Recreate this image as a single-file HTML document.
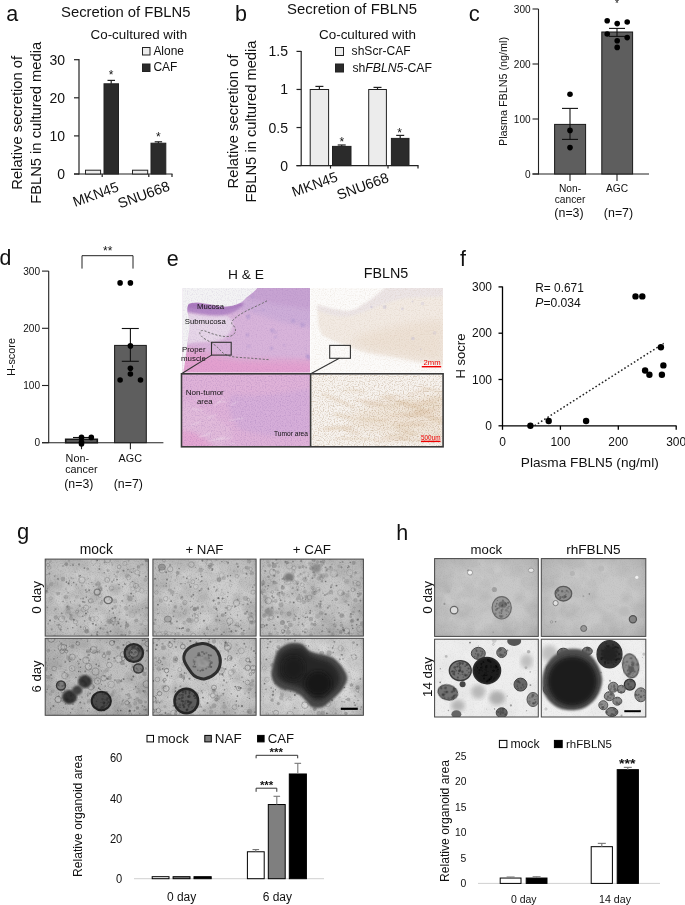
<!DOCTYPE html>
<html><head><meta charset="utf-8"><title>Figure</title>
<style>
html,body{margin:0;padding:0;background:#fff;}
body{width:685px;height:905px;overflow:hidden;}
svg text{font-family:"Liberation Sans", sans-serif;}
</style></head>
<body>
<svg width="685" height="905" viewBox="0 0 685 905" style="will-change:transform;display:block">
<defs>
<filter id="grain" x="0" y="0" width="100%" height="100%" color-interpolation-filters="sRGB">
 <feTurbulence type="fractalNoise" baseFrequency="0.9" numOctaves="1" seed="4"/>
 <feColorMatrix type="matrix" values="0 0 0 0 0  0 0 0 0 0  0 0 0 0 0  2.2 0 0 0 -1.0"/>
</filter>
<filter id="mott" x="0" y="0" width="100%" height="100%" color-interpolation-filters="sRGB">
 <feTurbulence type="fractalNoise" baseFrequency="0.05" numOctaves="3" seed="9"/>
 <feColorMatrix type="matrix" values="0 0 0 0 0  0 0 0 0 0  0 0 0 0 0  1.4 0 0 0 -0.55"/>
</filter>
<filter id="brn" x="0" y="0" width="100%" height="100%" color-interpolation-filters="sRGB">
 <feTurbulence type="fractalNoise" baseFrequency="0.8" numOctaves="1" seed="2"/>
 <feColorMatrix type="matrix" values="0 0 0 0 0.55  0 0 0 0 0.40  0 0 0 0 0.22  2.4 0 0 0 -1.1"/>
</filter>
<filter id="pur" x="0" y="0" width="100%" height="100%" color-interpolation-filters="sRGB">
 <feTurbulence type="fractalNoise" baseFrequency="0.8" numOctaves="1" seed="6"/>
 <feColorMatrix type="matrix" values="0 0 0 0 0.45  0 0 0 0 0.3  0 0 0 0 0.6  2.4 0 0 0 -1.1"/>
</filter>
<filter id="bl05"><feGaussianBlur stdDeviation="0.5"/></filter>
<filter id="bl1"><feGaussianBlur stdDeviation="1"/></filter>
<filter id="bl2"><feGaussianBlur stdDeviation="2"/></filter>
<filter id="bl4"><feGaussianBlur stdDeviation="4"/></filter>
<filter id="bl6" x="-50%" y="-50%" width="200%" height="200%"><feGaussianBlur stdDeviation="6"/></filter>
<radialGradient id="vig" cx="50%" cy="50%" r="70%">
 <stop offset="55%" stop-color="#000" stop-opacity="0"/>
 <stop offset="100%" stop-color="#000" stop-opacity="0.12"/>
</radialGradient>
</defs>
<text x="6.2" y="20.7" font-size="21.5" fill="#111">a</text>
<text x="61" y="16.5" font-size="14.3" textLength="129.5" lengthAdjust="spacingAndGlyphs" fill="#111">Secretion of FBLN5</text>
<text x="90.6" y="39.2" font-size="13.3" textLength="96.5" lengthAdjust="spacingAndGlyphs" fill="#111">Co-cultured with</text>
<rect x="142.5" y="47.5" width="7.5" height="7.5" fill="#ececec" stroke="#222" stroke-width="1"/>
<text x="153.4" y="54.6" font-size="12" textLength="30.6" lengthAdjust="spacingAndGlyphs" fill="#111">Alone</text>
<rect x="142.5" y="64" width="7.5" height="7.5" fill="#2b2b2b" stroke="#222" stroke-width="1"/>
<text x="153.4" y="71.2" font-size="12" fill="#111">CAF</text>
<line x1="79" y1="59" x2="79" y2="174.5" stroke="#222" stroke-width="1.2"/>
<line x1="74" y1="174.0" x2="79" y2="174.0" stroke="#222" stroke-width="1.2"/>
<text x="65" y="179.0" font-size="14" text-anchor="end" fill="#111">0</text>
<line x1="74" y1="135.9" x2="79" y2="135.9" stroke="#222" stroke-width="1.2"/>
<text x="65" y="140.9" font-size="14" text-anchor="end" fill="#111">10</text>
<line x1="74" y1="97.8" x2="79" y2="97.8" stroke="#222" stroke-width="1.2"/>
<text x="65" y="102.8" font-size="14" text-anchor="end" fill="#111">20</text>
<line x1="74" y1="59.69999999999999" x2="79" y2="59.69999999999999" stroke="#222" stroke-width="1.2"/>
<text x="65" y="64.69999999999999" font-size="14" text-anchor="end" fill="#111">30</text>
<line x1="74" y1="174" x2="172.5" y2="174" stroke="#222" stroke-width="1.2"/>
<line x1="102.2" y1="174" x2="102.2" y2="177" stroke="#222" stroke-width="1.2"/>
<line x1="148.8" y1="174" x2="148.8" y2="177" stroke="#222" stroke-width="1.2"/>
<line x1="172" y1="174" x2="172" y2="177" stroke="#222" stroke-width="1.2"/>
<rect x="85.5" y="170.2" width="15.099999999999994" height="3.8000000000000114" fill="#ececec" stroke="#222" stroke-width="1"/>
<rect x="104" y="83.8" width="14.5" height="90.2" fill="#2b2b2b" stroke="#222" stroke-width="1"/>
<rect x="132.5" y="170.2" width="15.199999999999989" height="3.8000000000000114" fill="#ececec" stroke="#222" stroke-width="1"/>
<rect x="151" y="143.2" width="14.800000000000011" height="30.80000000000001" fill="#2b2b2b" stroke="#222" stroke-width="1"/>
<line x1="111.2" y1="83.8" x2="111.2" y2="80.4" stroke="#222" stroke-width="1.2"/>
<line x1="107.5" y1="80.4" x2="115" y2="80.4" stroke="#222" stroke-width="1.2"/>
<line x1="158.4" y1="143.2" x2="158.4" y2="141.8" stroke="#222" stroke-width="1.2"/>
<line x1="154.7" y1="141.8" x2="162.1" y2="141.8" stroke="#222" stroke-width="1.2"/>
<text x="111.2" y="79" font-size="12" text-anchor="middle" fill="#111">*</text>
<text x="158.4" y="141" font-size="12" text-anchor="middle" fill="#111">*</text>
<text x="22.5" y="189.8" font-size="14.5" textLength="134" lengthAdjust="spacingAndGlyphs" transform="rotate(-90 22.5 189.8)" fill="#111">Relative secretion of</text>
<text x="40.8" y="203.8" font-size="14.5" textLength="162" lengthAdjust="spacingAndGlyphs" transform="rotate(-90 40.8 203.8)" fill="#111">FBLN5 in cultured media</text>
<text x="75" y="207" font-size="14.3" transform="rotate(-20 75 207)" fill="#111">MKN45</text>
<text x="120" y="208.5" font-size="14.3" transform="rotate(-20 120 208.5)" fill="#111">SNU668</text>
<text x="235" y="20.8" font-size="21.5" fill="#111">b</text>
<text x="287" y="14.4" font-size="14.3" textLength="130" lengthAdjust="spacingAndGlyphs" fill="#111">Secretion of FBLN5</text>
<text x="319" y="38.6" font-size="13.3" textLength="97" lengthAdjust="spacingAndGlyphs" fill="#111">Co-cultured with</text>
<rect x="335.5" y="47.5" width="8" height="8" fill="#ececec" stroke="#222" stroke-width="1"/>
<text x="351.6" y="55" font-size="12" textLength="59" lengthAdjust="spacingAndGlyphs" fill="#111">shScr-CAF</text>
<rect x="335.5" y="64" width="8" height="8" fill="#2b2b2b" stroke="#222" stroke-width="1"/>
<text x="352.4" y="71.5" font-size="12" textLength="79.6" lengthAdjust="spacingAndGlyphs" fill="#111">sh<tspan font-style="italic">FBLN5</tspan>-CAF</text>
<line x1="301.2" y1="51" x2="301.2" y2="166" stroke="#222" stroke-width="1.2"/>
<line x1="296.5" y1="165.6" x2="301.2" y2="165.6" stroke="#222" stroke-width="1.2"/>
<text x="288" y="170.6" font-size="14" text-anchor="end" fill="#111">0</text>
<line x1="296.5" y1="127.53" x2="301.2" y2="127.53" stroke="#222" stroke-width="1.2"/>
<text x="288" y="132.53" font-size="14" text-anchor="end" fill="#111">0.5</text>
<line x1="296.5" y1="89.46" x2="301.2" y2="89.46" stroke="#222" stroke-width="1.2"/>
<text x="288" y="94.46" font-size="14" text-anchor="end" fill="#111">1</text>
<line x1="296.5" y1="51.389999999999986" x2="301.2" y2="51.389999999999986" stroke="#222" stroke-width="1.2"/>
<text x="288" y="56.389999999999986" font-size="14" text-anchor="end" fill="#111">1.5</text>
<line x1="296.5" y1="165.6" x2="418.5" y2="165.6" stroke="#222" stroke-width="1.2"/>
<line x1="330.5" y1="165.6" x2="330.5" y2="168.6" stroke="#222" stroke-width="1.2"/>
<line x1="388" y1="165.6" x2="388" y2="168.6" stroke="#222" stroke-width="1.2"/>
<line x1="418" y1="165.6" x2="418" y2="168.6" stroke="#222" stroke-width="1.2"/>
<rect x="310.2" y="89.5" width="18.400000000000034" height="76.1" fill="#ececec" stroke="#222" stroke-width="1"/>
<rect x="332.5" y="146.4" width="18.5" height="19.19999999999999" fill="#2b2b2b" stroke="#222" stroke-width="1"/>
<rect x="368.7" y="89.5" width="17.69999999999999" height="76.1" fill="#ececec" stroke="#222" stroke-width="1"/>
<rect x="391.4" y="138.4" width="17.600000000000023" height="27.19999999999999" fill="#2b2b2b" stroke="#222" stroke-width="1"/>
<line x1="319.4" y1="89.5" x2="319.4" y2="86.4" stroke="#222" stroke-width="1.2"/>
<line x1="315.4" y1="86.4" x2="323.4" y2="86.4" stroke="#222" stroke-width="1.2"/>
<line x1="341.7" y1="146.4" x2="341.7" y2="145" stroke="#222" stroke-width="1.2"/>
<line x1="337.7" y1="145" x2="345.7" y2="145" stroke="#222" stroke-width="1.2"/>
<line x1="377.5" y1="89.5" x2="377.5" y2="87.4" stroke="#222" stroke-width="1.2"/>
<line x1="373.5" y1="87.4" x2="381.5" y2="87.4" stroke="#222" stroke-width="1.2"/>
<line x1="400.2" y1="138.4" x2="400.2" y2="135.4" stroke="#222" stroke-width="1.2"/>
<line x1="396.2" y1="135.4" x2="404.2" y2="135.4" stroke="#222" stroke-width="1.2"/>
<text x="341.9" y="145.5" font-size="12" text-anchor="middle" fill="#111">*</text>
<text x="399.7" y="136.5" font-size="12" text-anchor="middle" fill="#111">*</text>
<text x="237.5" y="188.5" font-size="14.5" textLength="134" lengthAdjust="spacingAndGlyphs" transform="rotate(-90 237.5 188.5)" fill="#111">Relative secretion of</text>
<text x="255.6" y="202.5" font-size="14.5" textLength="162" lengthAdjust="spacingAndGlyphs" transform="rotate(-90 255.6 202.5)" fill="#111">FBLN5 in cultured media</text>
<text x="294" y="197" font-size="14.3" transform="rotate(-20 294 197)" fill="#111">MKN45</text>
<text x="339" y="200" font-size="14.3" transform="rotate(-20 339 200)" fill="#111">SNU668</text>
<text x="468.7" y="20.9" font-size="22" fill="#111">c</text>
<line x1="538.5" y1="9" x2="538.5" y2="174.5" stroke="#222" stroke-width="1.1"/>
<line x1="532.5" y1="174.0" x2="538.5" y2="174.0" stroke="#222" stroke-width="1.1"/>
<text x="530.6" y="177.6" font-size="10" text-anchor="end" textLength="5.6" lengthAdjust="spacingAndGlyphs" fill="#111">0</text>
<line x1="532.5" y1="119.0" x2="538.5" y2="119.0" stroke="#222" stroke-width="1.1"/>
<text x="530.6" y="122.6" font-size="10" text-anchor="end" textLength="16.8" lengthAdjust="spacingAndGlyphs" fill="#111">100</text>
<line x1="532.5" y1="64.0" x2="538.5" y2="64.0" stroke="#222" stroke-width="1.1"/>
<text x="530.6" y="67.6" font-size="10" text-anchor="end" textLength="16.8" lengthAdjust="spacingAndGlyphs" fill="#111">200</text>
<line x1="532.5" y1="9.0" x2="538.5" y2="9.0" stroke="#222" stroke-width="1.1"/>
<text x="530.6" y="12.6" font-size="10" text-anchor="end" textLength="16.8" lengthAdjust="spacingAndGlyphs" fill="#111">300</text>
<line x1="532.5" y1="174" x2="649" y2="174" stroke="#222" stroke-width="1.1"/>
<line x1="570" y1="174" x2="570" y2="181" stroke="#222" stroke-width="1.1"/>
<line x1="617" y1="174" x2="617" y2="181" stroke="#222" stroke-width="1.1"/>
<rect x="554.6" y="124.4" width="31" height="49.6" fill="#5e5e5e" stroke="#1a1a1a" stroke-width="1"/>
<rect x="601.8" y="32" width="30.8" height="142" fill="#5e5e5e" stroke="#1a1a1a" stroke-width="1"/>
<line x1="570" y1="108.4" x2="570" y2="139.4" stroke="#111" stroke-width="1.1"/>
<line x1="562" y1="108.4" x2="578" y2="108.4" stroke="#111" stroke-width="1.1"/>
<line x1="562" y1="139.4" x2="578" y2="139.4" stroke="#111" stroke-width="1.1"/>
<line x1="617" y1="28.4" x2="617" y2="36.4" stroke="#111" stroke-width="1.1"/>
<line x1="609" y1="28.4" x2="625" y2="28.4" stroke="#111" stroke-width="1.1"/>
<line x1="609" y1="36.4" x2="625" y2="36.4" stroke="#111" stroke-width="1.1"/>
<circle cx="570" cy="94.2" r="2.8" fill="#000"/>
<circle cx="570" cy="130.4" r="2.8" fill="#000"/>
<circle cx="570" cy="147.6" r="2.8" fill="#000"/>
<circle cx="607.2" cy="20.8" r="2.8" fill="#000"/>
<circle cx="617.2" cy="23.6" r="2.8" fill="#000"/>
<circle cx="627.2" cy="22" r="2.8" fill="#000"/>
<circle cx="607.2" cy="34" r="2.8" fill="#000"/>
<circle cx="627.2" cy="37.6" r="2.8" fill="#000"/>
<circle cx="617.2" cy="40.8" r="2.8" fill="#000"/>
<circle cx="617.2" cy="47.4" r="2.8" fill="#000"/>
<text x="617" y="6.5" font-size="10" text-anchor="middle" fill="#111">*</text>
<text x="507.4" y="146" font-size="10.8" textLength="109" lengthAdjust="spacingAndGlyphs" transform="rotate(-90 507.4 146)" fill="#111">Plasma FBLN5 (ng/ml)</text>
<text x="570" y="192" font-size="10.2" text-anchor="middle" fill="#111">Non-</text>
<text x="570" y="203" font-size="10.2" text-anchor="middle" fill="#111">cancer</text>
<text x="569" y="217" font-size="12.4" text-anchor="middle" fill="#111">(n=3)</text>
<text x="617" y="192" font-size="10.2" text-anchor="middle" fill="#111">AGC</text>
<text x="618.5" y="217" font-size="12.4" text-anchor="middle" fill="#111">(n=7)</text>
<text x="-0.5" y="265.3" font-size="21.3" fill="#111">d</text>
<line x1="48.7" y1="271" x2="48.7" y2="443" stroke="#222" stroke-width="1.1"/>
<line x1="42" y1="442.7" x2="48.7" y2="442.7" stroke="#222" stroke-width="1.1"/>
<text x="40" y="446.3" font-size="10" text-anchor="end" textLength="5.6" lengthAdjust="spacingAndGlyphs" fill="#111">0</text>
<line x1="42" y1="385.5" x2="48.7" y2="385.5" stroke="#222" stroke-width="1.1"/>
<text x="40" y="389.1" font-size="10" text-anchor="end" textLength="16.8" lengthAdjust="spacingAndGlyphs" fill="#111">100</text>
<line x1="42" y1="328.29999999999995" x2="48.7" y2="328.29999999999995" stroke="#222" stroke-width="1.1"/>
<text x="40" y="331.9" font-size="10" text-anchor="end" textLength="16.8" lengthAdjust="spacingAndGlyphs" fill="#111">200</text>
<line x1="42" y1="271.09999999999997" x2="48.7" y2="271.09999999999997" stroke="#222" stroke-width="1.1"/>
<text x="40" y="274.7" font-size="10" text-anchor="end" textLength="16.8" lengthAdjust="spacingAndGlyphs" fill="#111">300</text>
<line x1="42" y1="442.7" x2="163.4" y2="442.7" stroke="#222" stroke-width="1.1"/>
<line x1="81.5" y1="442.7" x2="81.5" y2="449.2" stroke="#222" stroke-width="1.1"/>
<line x1="130.4" y1="442.7" x2="130.4" y2="449.2" stroke="#222" stroke-width="1.1"/>
<rect x="65.7" y="439.3" width="31.6" height="3.4" fill="#5e5e5e" stroke="#1a1a1a" stroke-width="1.6"/>
<rect x="114.6" y="345.4" width="31.7" height="97.3" fill="#5e5e5e" stroke="#1a1a1a" stroke-width="1"/>
<line x1="130.4" y1="328.5" x2="130.4" y2="361.3" stroke="#111" stroke-width="1.1"/>
<line x1="121.8" y1="328.5" x2="138.8" y2="328.5" stroke="#111" stroke-width="1.1"/>
<line x1="121.8" y1="361.3" x2="138.8" y2="361.3" stroke="#111" stroke-width="1.1"/>
<line x1="73" y1="437.5" x2="90" y2="437.5" stroke="#111" stroke-width="1.1"/>
<circle cx="120.1" cy="282.9" r="2.8" fill="#000"/>
<circle cx="130.4" cy="282.9" r="2.8" fill="#000"/>
<circle cx="130.4" cy="345.9" r="2.8" fill="#000"/>
<circle cx="130.4" cy="368.3" r="2.8" fill="#000"/>
<circle cx="130.4" cy="374" r="2.8" fill="#000"/>
<circle cx="120.1" cy="380" r="2.8" fill="#000"/>
<circle cx="140.5" cy="380" r="2.8" fill="#000"/>
<circle cx="81.5" cy="437.4" r="2.8" fill="#000"/>
<circle cx="91.3" cy="437.4" r="2.8" fill="#000"/>
<circle cx="81.5" cy="442" r="2.8" fill="#000"/>
<circle cx="81.5" cy="444" r="2.8" fill="#000"/>
<path d="M82 268.6 V255.7 H133 V268.6" fill="none" stroke="#222" stroke-width="1"/>
<text x="107.7" y="255" font-size="12" text-anchor="middle" fill="#111">**</text>
<text x="15.2" y="376" font-size="10.9" textLength="38" lengthAdjust="spacingAndGlyphs" transform="rotate(-90 15.2 376)" fill="#111">H-score</text>
<text x="77.3" y="461.5" font-size="10.8" text-anchor="middle" fill="#111">Non-</text>
<text x="81.4" y="472.5" font-size="10.8" text-anchor="middle" fill="#111">cancer</text>
<text x="78.8" y="488" font-size="12.3" text-anchor="middle" fill="#111">(n=3)</text>
<text x="130.3" y="461.5" font-size="10.8" text-anchor="middle" fill="#111">AGC</text>
<text x="128.3" y="488" font-size="12.4" text-anchor="middle" fill="#111">(n=7)</text>
<text x="460" y="265.7" font-size="21.5" fill="#111">f</text>
<line x1="502.5" y1="286.5" x2="502.5" y2="426" stroke="#000" stroke-width="1.3"/>
<line x1="498.5" y1="425.8" x2="502.5" y2="425.8" stroke="#000" stroke-width="1.3"/>
<text x="492" y="430.0" font-size="12" text-anchor="end" textLength="6.7" lengthAdjust="spacingAndGlyphs" fill="#111">0</text>
<line x1="498.5" y1="379.5" x2="502.5" y2="379.5" stroke="#000" stroke-width="1.3"/>
<text x="492" y="383.7" font-size="12" text-anchor="end" textLength="20" lengthAdjust="spacingAndGlyphs" fill="#111">100</text>
<line x1="498.5" y1="333.20000000000005" x2="502.5" y2="333.20000000000005" stroke="#000" stroke-width="1.3"/>
<text x="492" y="337.40000000000003" font-size="12" text-anchor="end" textLength="20" lengthAdjust="spacingAndGlyphs" fill="#111">200</text>
<line x1="498.5" y1="286.90000000000003" x2="502.5" y2="286.90000000000003" stroke="#000" stroke-width="1.3"/>
<text x="492" y="291.1" font-size="12" text-anchor="end" textLength="20" lengthAdjust="spacingAndGlyphs" fill="#111">300</text>
<line x1="502.5" y1="425.8" x2="676.5" y2="425.8" stroke="#000" stroke-width="1.3"/>
<line x1="502.5" y1="425.8" x2="502.5" y2="429.8" stroke="#000" stroke-width="1.3"/>
<text x="502.5" y="445.6" font-size="12" text-anchor="middle" textLength="6.7" lengthAdjust="spacingAndGlyphs" fill="#111">0</text>
<line x1="560.4" y1="425.8" x2="560.4" y2="429.8" stroke="#000" stroke-width="1.3"/>
<text x="560.4" y="445.6" font-size="12" text-anchor="middle" textLength="20" lengthAdjust="spacingAndGlyphs" fill="#111">100</text>
<line x1="618.3" y1="425.8" x2="618.3" y2="429.8" stroke="#000" stroke-width="1.3"/>
<text x="618.3" y="445.6" font-size="12" text-anchor="middle" textLength="20" lengthAdjust="spacingAndGlyphs" fill="#111">200</text>
<line x1="676.2" y1="425.8" x2="676.2" y2="429.8" stroke="#000" stroke-width="1.3"/>
<text x="676.2" y="445.6" font-size="12" text-anchor="middle" textLength="20" lengthAdjust="spacingAndGlyphs" fill="#111">300</text>
<line x1="534.6" y1="425.7" x2="663.7" y2="343.4" stroke="#222" stroke-width="1.5" stroke-dasharray="1.6 2.2"/>
<circle cx="530.4" cy="425.7" r="3.2" fill="#000"/>
<circle cx="548.7" cy="421" r="3.2" fill="#000"/>
<circle cx="586.1" cy="421" r="3.2" fill="#000"/>
<circle cx="635.5" cy="296.4" r="3.2" fill="#000"/>
<circle cx="642.3" cy="296.4" r="3.2" fill="#000"/>
<circle cx="660.9" cy="347.2" r="3.2" fill="#000"/>
<circle cx="663.4" cy="365.4" r="3.2" fill="#000"/>
<circle cx="645.1" cy="370.5" r="3.2" fill="#000"/>
<circle cx="649.4" cy="374.8" r="3.2" fill="#000"/>
<circle cx="661.9" cy="374.8" r="3.2" fill="#000"/>
<text x="535.3" y="291.5" font-size="12" textLength="48.5" lengthAdjust="spacingAndGlyphs" fill="#111">R= 0.671</text>
<text x="535.3" y="306.7" font-size="12" textLength="45.5" lengthAdjust="spacingAndGlyphs" fill="#111"><tspan font-style="italic">P</tspan>=0.034</text>
<text x="465.5" y="378.6" font-size="13" textLength="45" lengthAdjust="spacingAndGlyphs" transform="rotate(-90 465.5 378.6)" fill="#111">H socre</text>
<text x="520.8" y="466.5" font-size="13.6" textLength="138" lengthAdjust="spacingAndGlyphs" fill="#111">Plasma FBLN5 (ng/ml)</text>
<line x1="134" y1="878.7" x2="324" y2="878.7" stroke="#d0d0d0" stroke-width="1"/>
<text x="122.3" y="883.0" font-size="12" text-anchor="end" textLength="6.2" lengthAdjust="spacingAndGlyphs" fill="#111">0</text>
<text x="122.3" y="842.8" font-size="12" text-anchor="end" textLength="12.4" lengthAdjust="spacingAndGlyphs" fill="#111">20</text>
<text x="122.3" y="802.6" font-size="12" text-anchor="end" textLength="12.4" lengthAdjust="spacingAndGlyphs" fill="#111">40</text>
<text x="122.3" y="762.4" font-size="12" text-anchor="end" textLength="12.4" lengthAdjust="spacingAndGlyphs" fill="#111">60</text>
<rect x="152.2" y="876.69" width="16.80000000000001" height="2.009999999999991" fill="#fff" stroke="#000" stroke-width="1"/>
<rect x="173.1" y="876.69" width="16.900000000000006" height="2.009999999999991" fill="#7f7f7f" stroke="#000" stroke-width="1"/>
<rect x="194" y="876.69" width="17.19999999999999" height="2.009999999999991" fill="#000" stroke="#000" stroke-width="1"/>
<rect x="247.4" y="851.7660000000001" width="16.799999999999983" height="26.93399999999997" fill="#fff" stroke="#000" stroke-width="1"/>
<rect x="268.3" y="804.5310000000001" width="16.899999999999977" height="74.16899999999998" fill="#7f7f7f" stroke="#000" stroke-width="1"/>
<rect x="289.3" y="773.979" width="17.099999999999966" height="104.721" fill="#000" stroke="#000" stroke-width="1"/>
<line x1="255.8" y1="851.7660000000001" x2="255.8" y2="849.5550000000001" stroke="#777" stroke-width="1.1"/>
<line x1="252.5" y1="849.5550000000001" x2="259.1" y2="849.5550000000001" stroke="#777" stroke-width="1.1"/>
<line x1="276.8" y1="804.5310000000001" x2="276.8" y2="796.2900000000001" stroke="#777" stroke-width="1.1"/>
<line x1="273.5" y1="796.2900000000001" x2="280.1" y2="796.2900000000001" stroke="#777" stroke-width="1.1"/>
<line x1="297.8" y1="773.979" x2="297.8" y2="763.326" stroke="#777" stroke-width="1.1"/>
<line x1="294.5" y1="763.326" x2="301.1" y2="763.326" stroke="#777" stroke-width="1.1"/>
<path d="M256.1 791.8 V788.2 H276.8 V791.8" fill="none" stroke="#333" stroke-width="1"/>
<path d="M256.1 758.3 V755.3 H297.7 V758.3" fill="none" stroke="#333" stroke-width="1"/>
<text x="266.6" y="789" font-size="11.5" text-anchor="middle" fill="#111" font-weight="bold">***</text>
<text x="276.2" y="755.5" font-size="11.5" text-anchor="middle" fill="#111" font-weight="bold">***</text>
<rect x="147" y="735.4" width="6.5" height="6.5" fill="#fff" stroke="#000" stroke-width="1"/>
<text x="157.4" y="743.3" font-size="13" textLength="31.4" lengthAdjust="spacingAndGlyphs" fill="#111">mock</text>
<rect x="204.8" y="735.4" width="6.5" height="6.5" fill="#7f7f7f" stroke="#000" stroke-width="1"/>
<text x="214.8" y="743.3" font-size="13" textLength="27" lengthAdjust="spacingAndGlyphs" fill="#111">NAF</text>
<rect x="257.6" y="735.4" width="6.5" height="6.5" fill="#000" stroke="#000" stroke-width="1"/>
<text x="267.8" y="743.3" font-size="13" textLength="26.3" lengthAdjust="spacingAndGlyphs" fill="#111">CAF</text>
<text x="82.1" y="877" font-size="12.1" textLength="122" lengthAdjust="spacingAndGlyphs" transform="rotate(-90 82.1 877)" fill="#111">Relative organoid area</text>
<text x="181.6" y="901.2" font-size="12" text-anchor="middle" textLength="29.3" lengthAdjust="spacingAndGlyphs" fill="#111">0 day</text>
<text x="277.3" y="901.2" font-size="12" text-anchor="middle" textLength="29.3" lengthAdjust="spacingAndGlyphs" fill="#111">6 day</text>
<line x1="478" y1="883.4" x2="660" y2="883.4" stroke="#d0d0d0" stroke-width="1"/>
<text x="466.4" y="887.4" font-size="11.5" text-anchor="end" textLength="5.8" lengthAdjust="spacingAndGlyphs" fill="#111">0</text>
<text x="466.4" y="861.9" font-size="11.5" text-anchor="end" textLength="5.8" lengthAdjust="spacingAndGlyphs" fill="#111">5</text>
<text x="466.4" y="836.4" font-size="11.5" text-anchor="end" textLength="11.4" lengthAdjust="spacingAndGlyphs" fill="#111">10</text>
<text x="466.4" y="810.9" font-size="11.5" text-anchor="end" textLength="11.4" lengthAdjust="spacingAndGlyphs" fill="#111">15</text>
<text x="466.4" y="785.4" font-size="11.5" text-anchor="end" textLength="11.4" lengthAdjust="spacingAndGlyphs" fill="#111">20</text>
<text x="466.4" y="759.9" font-size="11.5" text-anchor="end" textLength="11.4" lengthAdjust="spacingAndGlyphs" fill="#111">25</text>
<rect x="500.2" y="878.045" width="20.80000000000001" height="5.355000000000018" fill="#fff" stroke="#000" stroke-width="1"/>
<rect x="526.2" y="878.045" width="20.799999999999955" height="5.355000000000018" fill="#000" stroke="#000" stroke-width="1"/>
<rect x="591.2" y="846.68" width="21.199999999999932" height="36.72000000000003" fill="#fff" stroke="#000" stroke-width="1"/>
<rect x="617.2" y="769.67" width="21.199999999999932" height="113.73000000000002" fill="#000" stroke="#000" stroke-width="1"/>
<line x1="510.6" y1="878.045" x2="510.6" y2="877.025" stroke="#777" stroke-width="1.1"/>
<line x1="506.6" y1="877.025" x2="514.6" y2="877.025" stroke="#777" stroke-width="1.1"/>
<line x1="536.6" y1="878.045" x2="536.6" y2="876.77" stroke="#777" stroke-width="1.1"/>
<line x1="532.6" y1="876.77" x2="540.6" y2="876.77" stroke="#777" stroke-width="1.1"/>
<line x1="601.8" y1="846.68" x2="601.8" y2="843.365" stroke="#777" stroke-width="1.1"/>
<line x1="597.8" y1="843.365" x2="605.8" y2="843.365" stroke="#777" stroke-width="1.1"/>
<line x1="627.8" y1="769.67" x2="627.8" y2="767.375" stroke="#777" stroke-width="1.1"/>
<line x1="623.8" y1="767.375" x2="631.8" y2="767.375" stroke="#777" stroke-width="1.1"/>
<text x="627.3" y="768" font-size="12.5" text-anchor="middle" textLength="16.5" lengthAdjust="spacingAndGlyphs" fill="#111" font-weight="bold">***</text>
<rect x="499.4" y="740.4" width="7.5" height="7.2" fill="#fff" stroke="#000" stroke-width="1"/>
<text x="510.4" y="748" font-size="12.2" textLength="29.2" lengthAdjust="spacingAndGlyphs" fill="#111">mock</text>
<rect x="554.4" y="740.4" width="7.8" height="7.2" fill="#000" stroke="#000" stroke-width="1"/>
<text x="566" y="748" font-size="11.5" textLength="46" lengthAdjust="spacingAndGlyphs" fill="#111">rhFBLN5</text>
<text x="449" y="882" font-size="12.1" textLength="122" lengthAdjust="spacingAndGlyphs" transform="rotate(-90 449 882)" fill="#111">Relative organoid area</text>
<text x="523.8" y="903.3" font-size="10.5" text-anchor="middle" textLength="25.6" lengthAdjust="spacingAndGlyphs" fill="#111">0 day</text>
<text x="615" y="903.3" font-size="10.5" text-anchor="middle" textLength="32" lengthAdjust="spacingAndGlyphs" fill="#111">14 day</text>
<text x="166.7" y="265.6" font-size="21.5" fill="#111">e</text>
<text x="228" y="279.3" font-size="13.3" textLength="36" lengthAdjust="spacingAndGlyphs" fill="#111">H &amp; E</text>
<text x="363.7" y="278.2" font-size="14" textLength="44.5" lengthAdjust="spacingAndGlyphs" fill="#111">FBLN5</text>
<svg x="182.5" y="288" width="127.5" height="84.5" viewBox="0 0 127.5 84.5" overflow="hidden">
<rect width="127.5" height="84.5" fill="#d8b4da"/>
<g filter="url(#bl2)">
<path d="M40 14 C52 10 62 4 70 -4 H132 V40 C118 38 104 36 92 32 C80 28 70 24 58 22 C50 22 44 20 40 14 Z" fill="#cdadd8"/>
<path d="M60 -4 H132 V22 C118 20 104 18 92 16 C80 14 70 12 60 8 Z" fill="#c49ed0" opacity="0.7"/>
</g>
<g filter="url(#bl1)">
<path d="M4 16 C8 14 12 14 15 14.4 C25 16 35 18.5 41.5 18.5 C47 18 52 17.5 58.8 14.4 L62 16 C56 22 50 26 40 27 C30 28 20 26 4 24 Z" fill="#b488c6"/>
<path d="M4 16 C8 14 12 14 15 14.4 C25 16 35 18.5 41.5 18.5 C47 18 52 17.5 58.8 14.4 L60 17 C50 21 40 22 30 21.5 C20 21 10 20 4 20 Z" fill="#a676ba" opacity="0.8"/>
<path d="M5 25 C18 28 32 29 44 28 C50 30 52 36 49 42 C46 48 40 52 30 54 C20 54 12 54 5 56 Z" fill="#e6d6e8"/>
</g>
<g filter="url(#bl2)">
<path d="M-2 58 C10 60 22 62 34 66 C50 71 70 71 90 70 C105 70 118 71 130 71 V87 H-2 Z" fill="#e0a7d1"/>
<path d="M-2 66 C14 66 26 68 40 72 C60 76 90 76 130 77 V87 H-2 Z" fill="#e3a0cf"/>
</g>
<path d="M-2 -2 H76.4 C75 0 74 1 73.3 1.7 C70 5 66 8 63.8 9.6 C62 12 60 13.5 58.8 14.4 C55 16 52 17 50.6 17.4 C47 18 44 18.5 41.5 18.5 C32 17 22 15 14.9 14.4 C10 14.5 7 15 6.2 15.9 C5 18 4.5 20 4.7 22.5 C5.5 27 6.5 31 7.5 35 C6.5 44 5.5 50 4.8 56.3 C4 64 3 70 2.3 75.5 C1.5 80 1 84 0 87 H-2 Z" fill="#f3f3f4" filter="url(#bl05)"/>
<circle cx="89.9" cy="42.7" r="2.1" fill="#9a84c8" opacity="0.42" filter="url(#bl1)"/>
<circle cx="93.5" cy="44.4" r="1.2" fill="#9a84c8" opacity="0.43" filter="url(#bl1)"/>
<circle cx="101.6" cy="57.2" r="1.1" fill="#9a84c8" opacity="0.38" filter="url(#bl1)"/>
<circle cx="66.0" cy="58.2" r="1.8" fill="#9a84c8" opacity="0.31" filter="url(#bl1)"/>
<circle cx="124.8" cy="67.8" r="1.8" fill="#9a84c8" opacity="0.45" filter="url(#bl1)"/>
<circle cx="70.4" cy="8.9" r="1.6" fill="#9a84c8" opacity="0.31" filter="url(#bl1)"/>
<circle cx="72.6" cy="23.0" r="1.0" fill="#9a84c8" opacity="0.42" filter="url(#bl1)"/>
<circle cx="89.1" cy="60.2" r="1.6" fill="#9a84c8" opacity="0.46" filter="url(#bl1)"/>
<circle cx="93.0" cy="49.1" r="1.5" fill="#9a84c8" opacity="0.37" filter="url(#bl1)"/>
<circle cx="125.8" cy="69.7" r="2.0" fill="#9a84c8" opacity="0.48" filter="url(#bl1)"/>
<circle cx="80.8" cy="22.2" r="1.3" fill="#9a84c8" opacity="0.32" filter="url(#bl1)"/>
<circle cx="110.6" cy="32.8" r="2.0" fill="#9a84c8" opacity="0.40" filter="url(#bl1)"/>
<circle cx="123.2" cy="60.5" r="1.0" fill="#9a84c8" opacity="0.35" filter="url(#bl1)"/>
<circle cx="120.1" cy="37.1" r="2.2" fill="#9a84c8" opacity="0.40" filter="url(#bl1)"/>
<circle cx="64.8" cy="47.0" r="1.9" fill="#9a84c8" opacity="0.37" filter="url(#bl1)"/>
<circle cx="65.8" cy="28.6" r="2.2" fill="#9a84c8" opacity="0.49" filter="url(#bl1)"/>
<rect width="127.5" height="84.5" filter="url(#pur)" opacity="0.14"/>
</svg>
<path d="M267 300.8 C258 306 246 310 238 316 C232 320 230 323 233 325 C237 329 236 334 231 336 C224 338 212 334 205 331 C199 329 197 334 205 339 C212 343 217 346 220 350 C224 355 230 357 240 357.5 C250 358 260 359 269 359.7" fill="none" stroke="#666" stroke-width="0.9" stroke-dasharray="2.2 1.6"/>
<rect x="211.5" y="342.3" width="19.7" height="12.8" fill="none" stroke="#333" stroke-width="1.1"/>
<text x="197" y="309" font-size="7.6" textLength="27" lengthAdjust="spacingAndGlyphs" fill="#111">Mucosa</text>
<text x="184.8" y="324" font-size="7.6" textLength="41" lengthAdjust="spacingAndGlyphs" fill="#111">Submucosa</text>
<text x="182" y="351.5" font-size="7.6" textLength="23.5" lengthAdjust="spacingAndGlyphs" fill="#111">Proper</text>
<text x="181" y="361" font-size="7.6" textLength="25" lengthAdjust="spacingAndGlyphs" fill="#111">muscle</text>
<svg x="310.5" y="288" width="132.5" height="84.5" viewBox="0 0 132.5 84.5" overflow="hidden">
<rect width="132.5" height="84.5" fill="#fcfbfa"/>
<g filter="url(#bl1)">
<path d="M6.6 17.1 C16 19 28 23 37.8 23.2 C46 22 52 17 57.9 13.1 C64 9 70 4 74.1 0 L76 -2 H135 V78 C118 76 100 72 84 69 C70 66 60 66 52 63.5 C38 58 24 54 12.3 47.4 C9 42 7 36 7.6 31.2 Z" fill="#f2eae3"/>
<path d="M6.6 17.1 C16 19 28 23 37.8 23.2 C46 22 52 17 57.9 13.1 C64 9 70 4 74.1 0 L76 -2 H135 V8 C118 10 100 8 86 12 C70 16 56 24 40 28 C28 30 16 26 7 22 Z" fill="#ece5e6"/>
</g>
<path d="M40 52 C60 42 90 36 132.5 32 V72 C110 72 96 68 80 66 C64 64 52 60 40 52 Z" fill="#ecdfd2" opacity="0.8" filter="url(#bl4)"/>
<circle cx="102.4" cy="50.5" r="1.8" fill="#c8c2d8" opacity="0.49" filter="url(#bl05)"/>
<circle cx="110.3" cy="61.3" r="1.0" fill="#c8c2d8" opacity="0.39" filter="url(#bl05)"/>
<circle cx="124.1" cy="44.9" r="1.9" fill="#c8c2d8" opacity="0.32" filter="url(#bl05)"/>
<circle cx="91.9" cy="20.8" r="1.5" fill="#c8c2d8" opacity="0.41" filter="url(#bl05)"/>
<circle cx="60.9" cy="19.0" r="1.3" fill="#c8c2d8" opacity="0.48" filter="url(#bl05)"/>
<circle cx="112.1" cy="15.6" r="1.8" fill="#c8c2d8" opacity="0.33" filter="url(#bl05)"/>
<circle cx="102.0" cy="13.6" r="1.0" fill="#c8c2d8" opacity="0.47" filter="url(#bl05)"/>
<circle cx="74.2" cy="18.9" r="2.0" fill="#c8c2d8" opacity="0.47" filter="url(#bl05)"/>
<rect width="132.5" height="84.5" filter="url(#brn)" opacity="0.12"/>
</svg>
<rect x="329.7" y="345.4" width="20.7" height="12.9" fill="none" stroke="#333" stroke-width="1.1"/>
<line x1="211.5" y1="355.1" x2="181.5" y2="373.8" stroke="#333" stroke-width="1.1"/>
<line x1="339.3" y1="358.3" x2="310.8" y2="373.8" stroke="#333" stroke-width="1.1"/>
<text x="423.6" y="365.3" font-size="7" textLength="17" lengthAdjust="spacingAndGlyphs" fill="#e00">2mm</text>
<rect x="421.8" y="366" width="19.4" height="1.4" fill="#e00" stroke="none" stroke-width="1"/>
<svg x="181.5" y="374" width="129" height="72.8" viewBox="0 0 129 72.8" overflow="hidden">
<rect width="129" height="72.8" fill="#dfb2d8"/>
<g filter="url(#bl2)">
<path d="M50 20 C70 24 100 20 129 14 V60 C100 64 80 62 60 56 C48 46 44 30 50 20 Z" fill="#d2acd8" opacity="0.7"/>
<path d="M0 26 C14 30 30 40 44 50 C56 58 50 66 40 72 H-2 Z" fill="#e2bfdc" opacity="0.6"/>
<path d="M-2 56 C10 56 24 62 34 75 H-2 Z" fill="#e3a5d0" opacity="0.9"/>
</g>
<ellipse cx="14.3" cy="49.5" rx="6.0" ry="0.9" fill="#f1dcec" opacity="0.35" filter="url(#bl05)" transform="rotate(-22 14.3 49.5)"/>
<ellipse cx="37.5" cy="27.9" rx="7.2" ry="0.9" fill="#f1dcec" opacity="0.35" filter="url(#bl05)" transform="rotate(-39 37.5 27.9)"/>
<ellipse cx="15.6" cy="35.5" rx="5.4" ry="0.9" fill="#f1dcec" opacity="0.35" filter="url(#bl05)" transform="rotate(10 15.6 35.5)"/>
<ellipse cx="50.2" cy="46.4" rx="3.8" ry="0.9" fill="#f1dcec" opacity="0.35" filter="url(#bl05)" transform="rotate(-8 50.2 46.4)"/>
<ellipse cx="38.1" cy="64.1" rx="6.7" ry="0.9" fill="#f1dcec" opacity="0.35" filter="url(#bl05)" transform="rotate(-14 38.1 64.1)"/>
<ellipse cx="40.3" cy="27.9" rx="6.0" ry="0.9" fill="#f1dcec" opacity="0.35" filter="url(#bl05)" transform="rotate(-2 40.3 27.9)"/>
<ellipse cx="18.1" cy="26.4" rx="5.4" ry="0.9" fill="#f1dcec" opacity="0.35" filter="url(#bl05)" transform="rotate(3 18.1 26.4)"/>
<ellipse cx="43.1" cy="64.5" rx="7.6" ry="0.9" fill="#f1dcec" opacity="0.35" filter="url(#bl05)" transform="rotate(-4 43.1 64.5)"/>
<ellipse cx="23.7" cy="61.0" rx="7.7" ry="0.9" fill="#f1dcec" opacity="0.35" filter="url(#bl05)" transform="rotate(-18 23.7 61.0)"/>
<ellipse cx="52.7" cy="29.4" rx="4.1" ry="0.9" fill="#f1dcec" opacity="0.35" filter="url(#bl05)" transform="rotate(-33 52.7 29.4)"/>
<ellipse cx="57.9" cy="44.6" rx="4.5" ry="0.9" fill="#f1dcec" opacity="0.35" filter="url(#bl05)" transform="rotate(-9 57.9 44.6)"/>
<ellipse cx="30.4" cy="42.4" rx="5.9" ry="0.9" fill="#f1dcec" opacity="0.35" filter="url(#bl05)" transform="rotate(-22 30.4 42.4)"/>
<ellipse cx="35.1" cy="65.7" rx="7.6" ry="0.9" fill="#f1dcec" opacity="0.35" filter="url(#bl05)" transform="rotate(-6 35.1 65.7)"/>
<ellipse cx="51.4" cy="69.6" rx="3.8" ry="0.9" fill="#f1dcec" opacity="0.35" filter="url(#bl05)" transform="rotate(-6 51.4 69.6)"/>
<rect width="129" height="72.8" filter="url(#pur)" opacity="0.25"/>
</svg>
<svg x="310.8" y="374" width="132.2" height="72.8" viewBox="0 0 132.2 72.8" overflow="hidden">
<rect width="132.2" height="72.8" fill="#f7f3ef"/>
<path d="M40 40 C70 30 100 26 132.2 22 V66 C100 64 70 60 40 52 Z" fill="#eee2d4" opacity="0.8" filter="url(#bl4)"/>
<g filter="url(#bl1)">
<ellipse cx="95.8" cy="57.2" rx="12.1" ry="2.3" fill="#d8bc9a" opacity="0.27" transform="rotate(20 95.8 57.2)"/>
<ellipse cx="107.4" cy="18.2" rx="13.4" ry="2.2" fill="#d8bc9a" opacity="0.19" transform="rotate(-17 107.4 18.2)"/>
<ellipse cx="94.0" cy="29.8" rx="21.2" ry="1.8" fill="#d8bc9a" opacity="0.32" transform="rotate(16 94.0 29.8)"/>
<ellipse cx="41.2" cy="57.5" rx="10.1" ry="2.2" fill="#d8bc9a" opacity="0.25" transform="rotate(17 41.2 57.5)"/>
<ellipse cx="129.0" cy="23.8" rx="20.4" ry="2.1" fill="#d8bc9a" opacity="0.20" transform="rotate(4 129.0 23.8)"/>
<ellipse cx="45.0" cy="64.6" rx="21.9" ry="1.4" fill="#d8bc9a" opacity="0.29" transform="rotate(1 45.0 64.6)"/>
<ellipse cx="118.9" cy="63.5" rx="13.2" ry="1.3" fill="#d8bc9a" opacity="0.28" transform="rotate(-17 118.9 63.5)"/>
<ellipse cx="80.1" cy="65.7" rx="18.8" ry="2.4" fill="#d8bc9a" opacity="0.19" transform="rotate(-3 80.1 65.7)"/>
<ellipse cx="98.8" cy="65.6" rx="13.0" ry="1.6" fill="#d8bc9a" opacity="0.28" transform="rotate(3 98.8 65.6)"/>
<ellipse cx="61.7" cy="45.8" rx="15.7" ry="1.4" fill="#d8bc9a" opacity="0.26" transform="rotate(4 61.7 45.8)"/>
<ellipse cx="126.3" cy="29.9" rx="20.7" ry="2.0" fill="#d8bc9a" opacity="0.20" transform="rotate(-5 126.3 29.9)"/>
<ellipse cx="27.0" cy="54.2" rx="14.5" ry="1.6" fill="#d8bc9a" opacity="0.26" transform="rotate(-4 27.0 54.2)"/>
<ellipse cx="112.7" cy="29.3" rx="21.8" ry="2.5" fill="#d8bc9a" opacity="0.15" transform="rotate(-15 112.7 29.3)"/>
<ellipse cx="99.4" cy="50.4" rx="18.2" ry="2.5" fill="#d8bc9a" opacity="0.25" transform="rotate(-2 99.4 50.4)"/>
<ellipse cx="83.8" cy="23.0" rx="10.1" ry="1.4" fill="#d8bc9a" opacity="0.19" transform="rotate(-8 83.8 23.0)"/>
<ellipse cx="121.0" cy="42.1" rx="20.9" ry="2.3" fill="#d8bc9a" opacity="0.16" transform="rotate(14 121.0 42.1)"/>
<ellipse cx="126.9" cy="17.2" rx="19.7" ry="2.1" fill="#d8bc9a" opacity="0.22" transform="rotate(13 126.9 17.2)"/>
<ellipse cx="43.7" cy="16.8" rx="11.4" ry="1.9" fill="#d8bc9a" opacity="0.20" transform="rotate(7 43.7 16.8)"/>
<ellipse cx="57.8" cy="28.5" rx="14.8" ry="1.7" fill="#d8bc9a" opacity="0.23" transform="rotate(11 57.8 28.5)"/>
<ellipse cx="98.6" cy="40.9" rx="21.5" ry="2.3" fill="#d8bc9a" opacity="0.19" transform="rotate(-0 98.6 40.9)"/>
<ellipse cx="76.3" cy="22.6" rx="8.4" ry="2.2" fill="#d8bc9a" opacity="0.25" transform="rotate(-3 76.3 22.6)"/>
<ellipse cx="86.8" cy="62.0" rx="16.1" ry="2.5" fill="#d8bc9a" opacity="0.24" transform="rotate(-5 86.8 62.0)"/>
<ellipse cx="103.5" cy="32.6" rx="18.6" ry="1.6" fill="#d8bc9a" opacity="0.21" transform="rotate(22 103.5 32.6)"/>
<ellipse cx="101.7" cy="41.0" rx="10.7" ry="2.0" fill="#d8bc9a" opacity="0.27" transform="rotate(3 101.7 41.0)"/>
<ellipse cx="115.4" cy="37.2" rx="15.1" ry="2.0" fill="#d8bc9a" opacity="0.23" transform="rotate(-0 115.4 37.2)"/>
<ellipse cx="27.9" cy="26.8" rx="19.6" ry="1.9" fill="#d8bc9a" opacity="0.28" transform="rotate(22 27.9 26.8)"/>
<ellipse cx="64.1" cy="27.0" rx="17.8" ry="1.2" fill="#d8bc9a" opacity="0.23" transform="rotate(3 64.1 27.0)"/>
<ellipse cx="125.6" cy="46.3" rx="9.4" ry="2.5" fill="#d8bc9a" opacity="0.29" transform="rotate(22 125.6 46.3)"/>
<ellipse cx="32.6" cy="42.0" rx="11.1" ry="2.1" fill="#d8bc9a" opacity="0.29" transform="rotate(12 32.6 42.0)"/>
<ellipse cx="117.5" cy="36.0" rx="15.5" ry="1.5" fill="#d8bc9a" opacity="0.24" transform="rotate(-16 117.5 36.0)"/>
<ellipse cx="71.0" cy="31.4" rx="19.5" ry="2.6" fill="#d8bc9a" opacity="0.22" transform="rotate(4 71.0 31.4)"/>
<ellipse cx="25.9" cy="54.0" rx="18.6" ry="2.4" fill="#d8bc9a" opacity="0.16" transform="rotate(-4 25.9 54.0)"/>
<ellipse cx="112.8" cy="28.0" rx="12.7" ry="2.0" fill="#d8bc9a" opacity="0.19" transform="rotate(-5 112.8 28.0)"/>
<ellipse cx="93.4" cy="27.9" rx="11.5" ry="2.2" fill="#d8bc9a" opacity="0.20" transform="rotate(-13 93.4 27.9)"/>
</g>
<rect width="132.2" height="72.8" filter="url(#brn)" opacity="0.4"/>
</svg>
<rect x="181.5" y="373.8" width="261.6" height="73" fill="none" stroke="#3a3a3a" stroke-width="1.6"/>
<line x1="310.6" y1="373.8" x2="310.6" y2="446.8" stroke="#3a3a3a" stroke-width="1.6"/>
<text x="185.8" y="394.7" font-size="7.8" textLength="38" lengthAdjust="spacingAndGlyphs" fill="#111">Non-tumor</text>
<text x="197" y="403.8" font-size="7.8" textLength="15.5" lengthAdjust="spacingAndGlyphs" fill="#111">area</text>
<text x="274" y="435.6" font-size="6.6" textLength="34" lengthAdjust="spacingAndGlyphs" fill="#111">Tumor area</text>
<text x="421" y="439.5" font-size="7" textLength="19.5" lengthAdjust="spacingAndGlyphs" fill="#e00">500um</text>
<rect x="421" y="440.7" width="19.5" height="1.4" fill="#e00" stroke="none" stroke-width="1"/>
<text x="17" y="539.4" font-size="22" fill="#111">g</text>
<text x="79.8" y="554" font-size="13.8" textLength="33.2" lengthAdjust="spacingAndGlyphs" fill="#111">mock</text>
<text x="185.4" y="553.7" font-size="13.3" textLength="38" lengthAdjust="spacingAndGlyphs" fill="#111">+ NAF</text>
<text x="292.7" y="553.7" font-size="13.3" textLength="38.3" lengthAdjust="spacingAndGlyphs" fill="#111">+ CAF</text>
<text x="41.5" y="613.8" font-size="13.4" textLength="32.8" lengthAdjust="spacingAndGlyphs" transform="rotate(-90 41.5 613.8)" fill="#111">0 day</text>
<text x="41.5" y="692.6" font-size="13.4" textLength="32.3" lengthAdjust="spacingAndGlyphs" transform="rotate(-90 41.5 692.6)" fill="#111">6 day</text>
<svg x="45.2" y="559.1" width="103.2" height="77" viewBox="0 0 103.2 77" overflow="hidden">
<rect width="103.2" height="77" fill="#cbcbcb"/>
<rect width="103.2" height="77" filter="url(#mott)" opacity="0.22"/>
<g filter="url(#bl05)"><circle cx="13.9" cy="65.3" r="0.93" fill="#686868" opacity="0.50"/><circle cx="78.5" cy="36.4" r="0.67" fill="#656565" opacity="0.49"/><circle cx="2.9" cy="64.4" r="0.70" fill="#888888" opacity="0.76"/><circle cx="71.8" cy="20.5" r="0.96" fill="#7d7d7d" opacity="0.83"/><circle cx="93.0" cy="2.4" r="0.42" fill="#7a7a7a" opacity="0.45"/><circle cx="90.9" cy="52.9" r="1.08" fill="#868686" opacity="0.46"/><circle cx="22.9" cy="33.7" r="0.75" fill="#666666" opacity="0.59"/><circle cx="69.9" cy="58.6" r="1.07" fill="#595959" opacity="0.62"/><circle cx="94.6" cy="71.0" r="0.47" fill="#808080" opacity="0.85"/><circle cx="88.7" cy="9.3" r="0.63" fill="#868686" opacity="0.84"/><circle cx="51.7" cy="74.5" r="0.76" fill="#828282" opacity="0.53"/><circle cx="29.3" cy="75.0" r="0.75" fill="#787878" opacity="0.61"/><circle cx="88.1" cy="37.0" r="0.92" fill="#717171" opacity="0.62"/><circle cx="17.9" cy="42.3" r="0.89" fill="#838383" opacity="0.75"/><circle cx="8.9" cy="51.1" r="0.48" fill="#626262" opacity="0.66"/><circle cx="40.6" cy="37.7" r="0.42" fill="#5a5a5a" opacity="0.57"/><circle cx="87.5" cy="47.3" r="0.80" fill="#818181" opacity="0.52"/><circle cx="51.8" cy="75.6" r="0.94" fill="#7a7a7a" opacity="0.82"/><circle cx="56.6" cy="31.1" r="0.64" fill="#7c7c7c" opacity="0.59"/><circle cx="93.9" cy="50.8" r="0.83" fill="#868686" opacity="0.45"/><circle cx="80.9" cy="63.2" r="1.02" fill="#878787" opacity="0.65"/><circle cx="13.3" cy="59.9" r="0.54" fill="#5b5b5b" opacity="0.64"/><circle cx="37.6" cy="42.7" r="1.06" fill="#727272" opacity="0.64"/><circle cx="36.8" cy="26.6" r="0.78" fill="#7f7f7f" opacity="0.76"/><circle cx="34.2" cy="46.2" r="0.96" fill="#808080" opacity="0.52"/><circle cx="60.3" cy="66.3" r="0.96" fill="#686868" opacity="0.46"/><circle cx="97.4" cy="5.4" r="1.01" fill="#747474" opacity="0.46"/><circle cx="78.0" cy="19.2" r="0.48" fill="#7f7f7f" opacity="0.52"/><circle cx="30.0" cy="12.9" r="0.58" fill="#626262" opacity="0.71"/><circle cx="66.9" cy="22.7" r="0.89" fill="#777777" opacity="0.64"/><circle cx="2.4" cy="29.8" r="0.69" fill="#646464" opacity="0.55"/><circle cx="26.2" cy="56.2" r="1.08" fill="#7e7e7e" opacity="0.62"/><circle cx="100.7" cy="17.4" r="0.68" fill="#5a5a5a" opacity="0.74"/><circle cx="16.5" cy="54.3" r="0.87" fill="#7a7a7a" opacity="0.78"/><circle cx="100.8" cy="48.6" r="0.89" fill="#747474" opacity="0.54"/><circle cx="66.9" cy="30.4" r="0.80" fill="#6c6c6c" opacity="0.71"/><circle cx="44.0" cy="56.8" r="0.49" fill="#656565" opacity="0.80"/><circle cx="31.6" cy="66.1" r="0.62" fill="#6b6b6b" opacity="0.75"/><circle cx="42.9" cy="19.4" r="0.41" fill="#5a5a5a" opacity="0.69"/><circle cx="22.5" cy="69.4" r="0.72" fill="#858585" opacity="0.70"/><circle cx="3.9" cy="15.4" r="0.47" fill="#7c7c7c" opacity="0.72"/><circle cx="44.7" cy="14.9" r="0.47" fill="#828282" opacity="0.61"/><circle cx="52.0" cy="1.3" r="0.83" fill="#717171" opacity="0.81"/><circle cx="1.9" cy="15.5" r="0.63" fill="#7c7c7c" opacity="0.76"/><circle cx="35.0" cy="16.4" r="0.87" fill="#707070" opacity="0.82"/><circle cx="35.5" cy="67.9" r="0.88" fill="#777777" opacity="0.76"/><circle cx="55.0" cy="5.0" r="0.43" fill="#606060" opacity="0.52"/><circle cx="94.0" cy="16.4" r="0.93" fill="#7e7e7e" opacity="0.65"/><circle cx="26.3" cy="26.1" r="0.48" fill="#676767" opacity="0.80"/><circle cx="62.3" cy="73.5" r="1.02" fill="#606060" opacity="0.68"/><circle cx="79.5" cy="24.7" r="0.68" fill="#707070" opacity="0.80"/><circle cx="81.3" cy="63.8" r="0.64" fill="#7f7f7f" opacity="0.68"/><circle cx="95.6" cy="5.9" r="0.79" fill="#7c7c7c" opacity="0.48"/><circle cx="27.5" cy="68.6" r="0.80" fill="#5f5f5f" opacity="0.63"/><circle cx="28.6" cy="60.6" r="0.98" fill="#585858" opacity="0.70"/><circle cx="1.5" cy="31.8" r="0.98" fill="#5a5a5a" opacity="0.53"/><circle cx="81.1" cy="45.2" r="0.51" fill="#747474" opacity="0.52"/><circle cx="24.9" cy="57.3" r="0.47" fill="#707070" opacity="0.77"/><circle cx="56.0" cy="63.0" r="0.79" fill="#858585" opacity="0.64"/><circle cx="10.3" cy="50.2" r="0.43" fill="#585858" opacity="0.76"/><circle cx="95.5" cy="55.9" r="0.62" fill="#717171" opacity="0.58"/><circle cx="6.5" cy="70.3" r="1.08" fill="#757575" opacity="0.49"/><circle cx="22.2" cy="47.6" r="1.09" fill="#7a7a7a" opacity="0.80"/><circle cx="48.4" cy="27.4" r="0.53" fill="#656565" opacity="0.57"/><circle cx="25.4" cy="6.3" r="0.60" fill="#888888" opacity="0.63"/><circle cx="67.3" cy="49.5" r="1.06" fill="#707070" opacity="0.84"/><circle cx="4.2" cy="14.4" r="0.95" fill="#7d7d7d" opacity="0.81"/><circle cx="31.2" cy="25.7" r="0.78" fill="#7d7d7d" opacity="0.77"/><circle cx="9.5" cy="17.0" r="0.97" fill="#717171" opacity="0.48"/><circle cx="56.9" cy="5.5" r="0.45" fill="#808080" opacity="0.45"/><circle cx="77.5" cy="27.7" r="0.73" fill="#616161" opacity="0.49"/><circle cx="80.3" cy="25.3" r="0.76" fill="#828282" opacity="0.52"/><circle cx="80.1" cy="75.8" r="0.98" fill="#6c6c6c" opacity="0.57"/><circle cx="73.2" cy="64.3" r="0.82" fill="#606060" opacity="0.81"/><circle cx="14.6" cy="70.1" r="0.42" fill="#6c6c6c" opacity="0.78"/><circle cx="64.3" cy="51.8" r="0.79" fill="#878787" opacity="0.84"/><circle cx="21.2" cy="23.0" r="0.78" fill="#5b5b5b" opacity="0.74"/><circle cx="68.9" cy="19.4" r="0.45" fill="#747474" opacity="0.77"/><circle cx="56.7" cy="41.7" r="1.00" fill="#757575" opacity="0.45"/><circle cx="86.3" cy="13.2" r="0.74" fill="#818181" opacity="0.82"/><circle cx="100.8" cy="1.5" r="0.88" fill="#7d7d7d" opacity="0.51"/><circle cx="12.9" cy="20.0" r="0.98" fill="#717171" opacity="0.68"/><circle cx="17.8" cy="6.9" r="0.74" fill="#636363" opacity="0.66"/><circle cx="51.7" cy="50.0" r="0.71" fill="#838383" opacity="0.71"/><circle cx="23.3" cy="24.1" r="0.88" fill="#666666" opacity="0.74"/><circle cx="34.8" cy="47.1" r="0.91" fill="#818181" opacity="0.56"/><circle cx="66.7" cy="3.7" r="0.45" fill="#787878" opacity="0.71"/><circle cx="38.0" cy="39.4" r="0.95" fill="#656565" opacity="0.57"/><circle cx="71.5" cy="65.4" r="0.66" fill="#848484" opacity="0.73"/><circle cx="48.0" cy="6.5" r="0.49" fill="#7e7e7e" opacity="0.83"/><circle cx="59.0" cy="13.6" r="0.58" fill="#656565" opacity="0.83"/><circle cx="74.3" cy="60.2" r="0.75" fill="#717171" opacity="0.74"/><circle cx="35.9" cy="39.7" r="0.52" fill="#868686" opacity="0.85"/><circle cx="54.1" cy="7.0" r="0.58" fill="#5e5e5e" opacity="0.56"/><circle cx="94.2" cy="73.9" r="0.50" fill="#7f7f7f" opacity="0.79"/><circle cx="68.1" cy="53.9" r="0.71" fill="#676767" opacity="0.84"/><circle cx="39.5" cy="61.8" r="0.70" fill="#626262" opacity="0.81"/><circle cx="45.2" cy="47.9" r="0.74" fill="#656565" opacity="0.50"/><circle cx="62.0" cy="31.4" r="0.48" fill="#6a6a6a" opacity="0.56"/><circle cx="39.1" cy="43.1" r="1.07" fill="#797979" opacity="0.63"/><circle cx="2.2" cy="48.3" r="0.82" fill="#686868" opacity="0.53"/><circle cx="29.4" cy="41.8" r="0.59" fill="#7d7d7d" opacity="0.75"/><circle cx="85.9" cy="34.4" r="1.00" fill="#626262" opacity="0.67"/><circle cx="50.7" cy="65.9" r="0.94" fill="#7c7c7c" opacity="0.80"/><circle cx="21.1" cy="62.4" r="1.03" fill="#595959" opacity="0.50"/><circle cx="77.1" cy="42.0" r="1.08" fill="#888888" opacity="0.74"/><circle cx="67.0" cy="5.8" r="0.66" fill="#6b6b6b" opacity="0.62"/><circle cx="69.9" cy="58.4" r="0.63" fill="#5f5f5f" opacity="0.63"/><circle cx="46.4" cy="23.5" r="0.68" fill="#868686" opacity="0.72"/><circle cx="50.8" cy="49.9" r="0.66" fill="#656565" opacity="0.67"/><circle cx="102.7" cy="48.9" r="0.91" fill="#878787" opacity="0.78"/><circle cx="52.7" cy="76.0" r="0.72" fill="#797979" opacity="0.61"/><circle cx="76.8" cy="76.0" r="0.61" fill="#626262" opacity="0.63"/><circle cx="69.0" cy="15.2" r="0.77" fill="#838383" opacity="0.61"/><circle cx="43.9" cy="31.2" r="1.00" fill="#7d7d7d" opacity="0.84"/><circle cx="72.2" cy="74.5" r="0.45" fill="#878787" opacity="0.55"/><circle cx="99.8" cy="22.4" r="0.41" fill="#868686" opacity="0.70"/><circle cx="65.4" cy="72.2" r="0.95" fill="#636363" opacity="0.76"/><circle cx="84.1" cy="46.6" r="0.64" fill="#686868" opacity="0.77"/><circle cx="42.4" cy="52.7" r="0.61" fill="#757575" opacity="0.78"/><circle cx="50.0" cy="36.0" r="0.43" fill="#787878" opacity="0.49"/><circle cx="61.0" cy="5.4" r="0.45" fill="#747474" opacity="0.46"/><circle cx="52.3" cy="72.9" r="0.88" fill="#717171" opacity="0.70"/><circle cx="28.5" cy="23.4" r="0.77" fill="#676767" opacity="0.80"/><circle cx="27.8" cy="5.8" r="0.98" fill="#797979" opacity="0.71"/><circle cx="48.3" cy="42.9" r="0.43" fill="#6b6b6b" opacity="0.71"/><circle cx="73.6" cy="62.8" r="0.59" fill="#7f7f7f" opacity="0.75"/><circle cx="40.5" cy="30.8" r="0.74" fill="#686868" opacity="0.80"/><circle cx="34.0" cy="17.1" r="1.07" fill="#858585" opacity="0.55"/><circle cx="68.2" cy="65.6" r="1.01" fill="#717171" opacity="0.58"/><circle cx="44.6" cy="58.6" r="0.95" fill="#646464" opacity="0.48"/><circle cx="75.6" cy="67.1" r="0.81" fill="#7d7d7d" opacity="0.82"/><circle cx="75.2" cy="46.7" r="0.58" fill="#797979" opacity="0.52"/><circle cx="80.3" cy="68.8" r="0.71" fill="#6b6b6b" opacity="0.75"/><circle cx="24.8" cy="55.3" r="0.90" fill="#6b6b6b" opacity="0.48"/><circle cx="23.5" cy="24.7" r="1.05" fill="#636363" opacity="0.47"/><circle cx="83.5" cy="1.8" r="0.93" fill="#838383" opacity="0.46"/><circle cx="72.6" cy="62.7" r="1.07" fill="#7f7f7f" opacity="0.63"/><circle cx="68.4" cy="21.1" r="0.83" fill="#636363" opacity="0.49"/><circle cx="41.2" cy="38.1" r="0.66" fill="#626262" opacity="0.84"/><circle cx="24.3" cy="21.8" r="0.78" fill="#707070" opacity="0.53"/><circle cx="73.8" cy="25.4" r="0.82" fill="#656565" opacity="0.85"/><circle cx="4.8" cy="61.4" r="1.00" fill="#6c6c6c" opacity="0.81"/><circle cx="87.5" cy="22.1" r="0.54" fill="#626262" opacity="0.80"/><circle cx="78.3" cy="11.7" r="1.04" fill="#585858" opacity="0.60"/><circle cx="90.4" cy="41.8" r="0.80" fill="#686868" opacity="0.50"/><circle cx="47.8" cy="64.7" r="1.03" fill="#5a5a5a" opacity="0.66"/><circle cx="54.2" cy="9.9" r="1.05" fill="#5f5f5f" opacity="0.62"/><circle cx="19.6" cy="38.5" r="0.49" fill="#696969" opacity="0.72"/><circle cx="87.3" cy="51.1" r="0.67" fill="#808080" opacity="0.56"/><circle cx="26.8" cy="48.9" r="0.57" fill="#7d7d7d" opacity="0.82"/><circle cx="60.9" cy="26.9" r="0.82" fill="#7b7b7b" opacity="0.71"/><circle cx="100.0" cy="69.7" r="0.78" fill="#7a7a7a" opacity="0.53"/><circle cx="90.8" cy="32.7" r="0.86" fill="#858585" opacity="0.56"/><circle cx="63.0" cy="74.9" r="0.45" fill="#636363" opacity="0.84"/><circle cx="15.6" cy="70.7" r="1.00" fill="#5a5a5a" opacity="0.47"/><circle cx="9.4" cy="62.6" r="0.73" fill="#6f6f6f" opacity="0.49"/><circle cx="32.3" cy="9.8" r="0.42" fill="#828282" opacity="0.50"/><circle cx="40.8" cy="54.5" r="1.02" fill="#595959" opacity="0.74"/><circle cx="27.9" cy="19.3" r="0.63" fill="#6b6b6b" opacity="0.46"/><circle cx="39.7" cy="56.4" r="0.62" fill="#606060" opacity="0.55"/><circle cx="39.2" cy="9.0" r="0.87" fill="#5e5e5e" opacity="0.62"/><circle cx="25.3" cy="42.9" r="0.63" fill="#6d6d6d" opacity="0.65"/><circle cx="40.4" cy="69.0" r="0.74" fill="#606060" opacity="0.71"/><circle cx="46.3" cy="76.1" r="0.90" fill="#7d7d7d" opacity="0.73"/><circle cx="55.3" cy="69.1" r="0.98" fill="#6a6a6a" opacity="0.75"/><circle cx="20.6" cy="30.0" r="0.63" fill="#727272" opacity="0.59"/><circle cx="59.3" cy="3.4" r="0.97" fill="#818181" opacity="0.66"/><circle cx="43.1" cy="24.5" r="0.59" fill="#878787" opacity="0.75"/><circle cx="51.7" cy="40.5" r="0.50" fill="#868686" opacity="0.58"/><circle cx="33.8" cy="5.3" r="1.09" fill="#767676" opacity="0.63"/><circle cx="37.6" cy="57.1" r="0.67" fill="#5d5d5d" opacity="0.82"/><circle cx="82.7" cy="10.4" r="0.77" fill="#7c7c7c" opacity="0.79"/><circle cx="26.0" cy="18.9" r="0.80" fill="#6d6d6d" opacity="0.59"/><circle cx="97.2" cy="49.5" r="0.68" fill="#757575" opacity="0.69"/><circle cx="35.1" cy="39.1" r="0.42" fill="#686868" opacity="0.72"/><circle cx="58.1" cy="69.8" r="1.30" fill="#9a9a9a" opacity="0.68"/><circle cx="64.0" cy="62.5" r="2.57" fill="#919191" opacity="0.60"/><circle cx="21.1" cy="5.1" r="1.91" fill="#858585" opacity="0.65"/><circle cx="82.0" cy="16.7" r="2.34" fill="#a0a0a0" opacity="0.65"/><circle cx="2.3" cy="28.3" r="2.36" fill="#929292" opacity="0.43"/><circle cx="20.7" cy="38.0" r="2.44" fill="#8f8f8f" opacity="0.50"/><circle cx="69.7" cy="41.9" r="2.51" fill="#9e9e9e" opacity="0.60"/><circle cx="84.0" cy="76.9" r="1.41" fill="#8c8c8c" opacity="0.35"/><circle cx="54.9" cy="29.3" r="2.40" fill="#848484" opacity="0.49"/><circle cx="91.1" cy="61.3" r="1.94" fill="#828282" opacity="0.47"/><circle cx="101.9" cy="0.5" r="2.54" fill="#808080" opacity="0.54"/><circle cx="84.8" cy="39.5" r="2.59" fill="#949494" opacity="0.69"/><circle cx="56.0" cy="44.0" r="1.88" fill="#9a9a9a" opacity="0.54"/><circle cx="84.5" cy="73.4" r="1.65" fill="#939393" opacity="0.51"/><circle cx="13.5" cy="34.2" r="1.22" fill="#8a8a8a" opacity="0.44"/><circle cx="1.0" cy="32.7" r="2.06" fill="#828282" opacity="0.48"/><circle cx="41.5" cy="72.1" r="2.43" fill="#818181" opacity="0.66"/><circle cx="95.5" cy="65.2" r="1.61" fill="#9d9d9d" opacity="0.45"/><circle cx="80.7" cy="49.0" r="2.36" fill="#959595" opacity="0.49"/><circle cx="82.9" cy="37.2" r="1.23" fill="#898989" opacity="0.36"/><circle cx="17.8" cy="20.0" r="2.37" fill="#929292" opacity="0.68"/><circle cx="42.6" cy="72.3" r="1.46" fill="#9a9a9a" opacity="0.59"/><circle cx="44.7" cy="59.8" r="1.78" fill="#9f9f9f" opacity="0.68"/><circle cx="41.5" cy="32.7" r="1.10" fill="#8d8d8d" opacity="0.69"/><circle cx="23.7" cy="2.0" r="1.41" fill="#9e9e9e" opacity="0.62"/><circle cx="10.2" cy="50.0" r="1.30" fill="#808080" opacity="0.38"/><circle cx="63.1" cy="76.7" r="1.88" fill="#9b9b9b" opacity="0.47"/><circle cx="97.6" cy="74.7" r="1.17" fill="#9a9a9a" opacity="0.64"/><circle cx="76.5" cy="76.6" r="2.10" fill="#8b8b8b" opacity="0.52"/><circle cx="81.9" cy="66.1" r="2.26" fill="#858585" opacity="0.65"/><circle cx="12.8" cy="34.4" r="2.09" fill="#9f9f9f" opacity="0.67"/><circle cx="12.0" cy="65.7" r="1.17" fill="#989898" opacity="0.56"/><circle cx="72.5" cy="12.9" r="1.41" fill="#929292" opacity="0.65"/><circle cx="65.4" cy="62.4" r="2.46" fill="#959595" opacity="0.65"/><circle cx="10.6" cy="58.3" r="2.17" fill="#969696" opacity="0.67"/><circle cx="100.0" cy="20.6" r="1.86" fill="#9c9c9c" opacity="0.45"/><circle cx="93.3" cy="7.8" r="1.81" fill="#919191" opacity="0.60"/><circle cx="42.5" cy="10.0" r="1.31" fill="#838383" opacity="0.54"/><circle cx="62.8" cy="11.5" r="1.66" fill="#919191" opacity="0.52"/><circle cx="31.6" cy="37.8" r="1.80" fill="#9e9e9e" opacity="0.43"/><circle cx="18.2" cy="58.4" r="2.18" fill="#9c9c9c" opacity="0.54"/><circle cx="6.0" cy="25.1" r="2.10" fill="#8d8d8d" opacity="0.46"/><circle cx="51.0" cy="25.4" r="1.20" fill="#888888" opacity="0.59"/><circle cx="23.2" cy="48.9" r="2.33" fill="#838383" opacity="0.55"/><circle cx="70.7" cy="17.4" r="1.32" fill="#939393" opacity="0.50"/><circle cx="0.4" cy="1.5" r="1.49" fill="#8e8e8e" opacity="0.38"/><circle cx="23.2" cy="52.4" r="2.58" fill="#959595" opacity="0.44"/><circle cx="74.2" cy="29.2" r="1.19" fill="#969696" opacity="0.40"/><circle cx="25.9" cy="59.3" r="2.09" fill="#828282" opacity="0.47"/><circle cx="9.5" cy="76.9" r="1.48" fill="#8f8f8f" opacity="0.44"/><circle cx="5.1" cy="2.4" r="1.22" fill="#999999" opacity="0.48"/><circle cx="74.3" cy="53.2" r="1.15" fill="#959595" opacity="0.45"/><circle cx="53.2" cy="24.8" r="2.52" fill="#969696" opacity="0.67"/><circle cx="81.6" cy="55.8" r="1.20" fill="#919191" opacity="0.49"/><circle cx="70.1" cy="47.8" r="1.84" fill="#9a9a9a" opacity="0.54"/><circle cx="40.6" cy="69.2" r="2.5" fill="#fff" fill-opacity="0.12" stroke="#6a6a6a" stroke-width="0.8" opacity="0.37"/><circle cx="5.6" cy="39.2" r="1.6" fill="#fff" fill-opacity="0.12" stroke="#6a6a6a" stroke-width="0.8" opacity="0.28"/><circle cx="44.9" cy="42.0" r="1.7" fill="#fff" fill-opacity="0.12" stroke="#6a6a6a" stroke-width="0.8" opacity="0.29"/><circle cx="54.7" cy="36.4" r="2.0" fill="#fff" fill-opacity="0.12" stroke="#6a6a6a" stroke-width="0.8" opacity="0.25"/><circle cx="38.5" cy="50.4" r="2.3" fill="#fff" fill-opacity="0.12" stroke="#6a6a6a" stroke-width="0.8" opacity="0.37"/><circle cx="87.1" cy="55.7" r="2.6" fill="#fff" fill-opacity="0.12" stroke="#6a6a6a" stroke-width="0.8" opacity="0.23"/><circle cx="31.8" cy="52.5" r="1.5" fill="#fff" fill-opacity="0.12" stroke="#6a6a6a" stroke-width="0.8" opacity="0.47"/><circle cx="14.6" cy="67.7" r="1.6" fill="#fff" fill-opacity="0.12" stroke="#6a6a6a" stroke-width="0.8" opacity="0.45"/><circle cx="87.5" cy="25.8" r="3.0" fill="#fff" fill-opacity="0.12" stroke="#6a6a6a" stroke-width="0.8" opacity="0.26"/><circle cx="87.6" cy="29.4" r="2.1" fill="#fff" fill-opacity="0.12" stroke="#6a6a6a" stroke-width="0.8" opacity="0.25"/><circle cx="62.0" cy="20.8" r="2.5" fill="#fff" fill-opacity="0.12" stroke="#6a6a6a" stroke-width="0.8" opacity="0.44"/><circle cx="62.3" cy="0.6" r="3.1" fill="#fff" fill-opacity="0.12" stroke="#6a6a6a" stroke-width="0.8" opacity="0.47"/><circle cx="66.4" cy="29.2" r="2.3" fill="#fff" fill-opacity="0.12" stroke="#6a6a6a" stroke-width="0.8" opacity="0.46"/><circle cx="47.4" cy="60.0" r="2.4" fill="#fff" fill-opacity="0.12" stroke="#6a6a6a" stroke-width="0.8" opacity="0.34"/><circle cx="96.3" cy="31.4" r="2.4" fill="#fff" fill-opacity="0.12" stroke="#6a6a6a" stroke-width="0.8" opacity="0.23"/><circle cx="48.6" cy="2.9" r="2.6" fill="#fff" fill-opacity="0.12" stroke="#6a6a6a" stroke-width="0.8" opacity="0.22"/><circle cx="4.3" cy="8.6" r="1.5" fill="#fff" fill-opacity="0.12" stroke="#6a6a6a" stroke-width="0.8" opacity="0.36"/><circle cx="36.8" cy="20.9" r="3.2" fill="#fff" fill-opacity="0.12" stroke="#6a6a6a" stroke-width="0.8" opacity="0.47"/><circle cx="67.6" cy="61.8" r="2.8" fill="#fff" fill-opacity="0.12" stroke="#6a6a6a" stroke-width="0.8" opacity="0.29"/><circle cx="83.4" cy="18.5" r="2.3" fill="#fff" fill-opacity="0.12" stroke="#6a6a6a" stroke-width="0.8" opacity="0.32"/><circle cx="16.4" cy="59.8" r="3.0" fill="#fff" fill-opacity="0.12" stroke="#6a6a6a" stroke-width="0.8" opacity="0.31"/><circle cx="90.8" cy="26.7" r="2.5" fill="#fff" fill-opacity="0.12" stroke="#6a6a6a" stroke-width="0.8" opacity="0.49"/><circle cx="79.7" cy="4.3" r="2.1" fill="#fff" fill-opacity="0.12" stroke="#6a6a6a" stroke-width="0.8" opacity="0.32"/><circle cx="30.3" cy="62.8" r="2.1" fill="#fff" fill-opacity="0.12" stroke="#6a6a6a" stroke-width="0.8" opacity="0.41"/><circle cx="65.5" cy="40.0" r="1.3" fill="#fff" fill-opacity="0.12" stroke="#6a6a6a" stroke-width="0.8" opacity="0.41"/><circle cx="92.0" cy="13.3" r="2.5" fill="#fff" fill-opacity="0.12" stroke="#6a6a6a" stroke-width="0.8" opacity="0.35"/><circle cx="35.2" cy="54.7" r="3.2" fill="#fff" fill-opacity="0.12" stroke="#6a6a6a" stroke-width="0.8" opacity="0.23"/><circle cx="92.6" cy="29.5" r="2.9" fill="#fff" fill-opacity="0.12" stroke="#6a6a6a" stroke-width="0.8" opacity="0.27"/><circle cx="74.0" cy="7.7" r="1.9" fill="#fff" fill-opacity="0.12" stroke="#6a6a6a" stroke-width="0.8" opacity="0.49"/><circle cx="67.8" cy="60.4" r="2.1" fill="#fff" fill-opacity="0.12" stroke="#6a6a6a" stroke-width="0.8" opacity="0.35"/><circle cx="50.8" cy="59.5" r="2.6" fill="#fff" fill-opacity="0.12" stroke="#6a6a6a" stroke-width="0.8" opacity="0.27"/><circle cx="45.5" cy="41.7" r="2.3" fill="#fff" fill-opacity="0.12" stroke="#6a6a6a" stroke-width="0.8" opacity="0.47"/><circle cx="86.7" cy="11.5" r="2.0" fill="#fff" fill-opacity="0.12" stroke="#6a6a6a" stroke-width="0.8" opacity="0.25"/><circle cx="2.7" cy="5.7" r="1.6" fill="#fff" fill-opacity="0.12" stroke="#6a6a6a" stroke-width="0.8" opacity="0.43"/><circle cx="68.9" cy="61.4" r="1.8" fill="#fff" fill-opacity="0.12" stroke="#6a6a6a" stroke-width="0.8" opacity="0.26"/><circle cx="100.3" cy="63.6" r="3.1" fill="#fff" fill-opacity="0.12" stroke="#6a6a6a" stroke-width="0.8" opacity="0.23"/><circle cx="40.9" cy="48.8" r="2.7" fill="#fff" fill-opacity="0.12" stroke="#6a6a6a" stroke-width="0.8" opacity="0.47"/><circle cx="55.5" cy="30.1" r="1.2" fill="#fff" fill-opacity="0.12" stroke="#6a6a6a" stroke-width="0.8" opacity="0.44"/></g>
<rect width="103.2" height="77" filter="url(#grain)" opacity="0.12"/>
<ellipse cx="63" cy="41" rx="4" ry="3.5" fill="none" stroke="#555" stroke-width="1.4" opacity="0.8" filter="url(#bl05)"/>
<ellipse cx="52" cy="33" rx="3" ry="3" fill="none" stroke="#666" stroke-width="1.2" opacity="0.7" filter="url(#bl05)"/>
<ellipse cx="70" cy="30" rx="6" ry="5" fill="#999" stroke="none" stroke-width="0" opacity="0.5" filter="url(#bl2)"/>
<ellipse cx="87" cy="52" rx="6" ry="5" fill="#9a9a9a" stroke="none" stroke-width="0" opacity="0.5" filter="url(#bl2)"/>
<rect width="103.2" height="77" fill="url(#vig)"/>
</svg>
<rect x="45.2" y="559.1" width="103.2" height="77" fill="none" stroke="#444" stroke-width="1"/>
<svg x="152.9" y="559.1" width="103.2" height="77" viewBox="0 0 103.2 77" overflow="hidden">
<rect width="103.2" height="77" fill="#cdcdcd"/>
<rect width="103.2" height="77" filter="url(#mott)" opacity="0.22"/>
<g filter="url(#bl05)"><circle cx="98.7" cy="73.0" r="0.44" fill="#5d5d5d" opacity="0.59"/><circle cx="17.4" cy="62.3" r="1.00" fill="#686868" opacity="0.69"/><circle cx="62.6" cy="44.8" r="0.51" fill="#737373" opacity="0.71"/><circle cx="82.9" cy="66.2" r="0.76" fill="#6f6f6f" opacity="0.67"/><circle cx="45.9" cy="20.7" r="0.43" fill="#595959" opacity="0.60"/><circle cx="96.2" cy="69.9" r="0.70" fill="#797979" opacity="0.52"/><circle cx="18.3" cy="17.8" r="0.52" fill="#636363" opacity="0.50"/><circle cx="52.7" cy="76.9" r="0.87" fill="#636363" opacity="0.85"/><circle cx="46.0" cy="31.9" r="0.77" fill="#888888" opacity="0.60"/><circle cx="61.2" cy="27.9" r="1.00" fill="#747474" opacity="0.51"/><circle cx="77.8" cy="55.1" r="0.72" fill="#797979" opacity="0.55"/><circle cx="28.8" cy="38.4" r="0.76" fill="#6e6e6e" opacity="0.71"/><circle cx="46.9" cy="69.5" r="0.65" fill="#868686" opacity="0.82"/><circle cx="74.7" cy="37.5" r="0.56" fill="#6c6c6c" opacity="0.78"/><circle cx="86.2" cy="67.5" r="0.83" fill="#767676" opacity="0.57"/><circle cx="98.8" cy="54.4" r="0.75" fill="#797979" opacity="0.65"/><circle cx="63.6" cy="31.3" r="0.91" fill="#777777" opacity="0.65"/><circle cx="96.4" cy="48.0" r="0.45" fill="#6d6d6d" opacity="0.74"/><circle cx="93.7" cy="14.7" r="0.92" fill="#5b5b5b" opacity="0.68"/><circle cx="5.0" cy="45.6" r="0.88" fill="#5e5e5e" opacity="0.75"/><circle cx="14.1" cy="20.5" r="0.98" fill="#5b5b5b" opacity="0.62"/><circle cx="74.0" cy="2.5" r="0.65" fill="#636363" opacity="0.55"/><circle cx="2.4" cy="8.9" r="0.45" fill="#5a5a5a" opacity="0.74"/><circle cx="2.2" cy="19.7" r="0.97" fill="#626262" opacity="0.74"/><circle cx="54.0" cy="0.1" r="0.81" fill="#676767" opacity="0.51"/><circle cx="3.7" cy="26.5" r="0.83" fill="#878787" opacity="0.75"/><circle cx="29.5" cy="37.6" r="0.62" fill="#7b7b7b" opacity="0.76"/><circle cx="76.4" cy="69.5" r="0.93" fill="#7f7f7f" opacity="0.73"/><circle cx="48.8" cy="17.4" r="0.86" fill="#6c6c6c" opacity="0.79"/><circle cx="2.5" cy="60.7" r="1.06" fill="#797979" opacity="0.68"/><circle cx="40.6" cy="39.6" r="0.50" fill="#6d6d6d" opacity="0.55"/><circle cx="62.5" cy="32.3" r="0.41" fill="#7b7b7b" opacity="0.83"/><circle cx="69.2" cy="19.5" r="0.49" fill="#626262" opacity="0.49"/><circle cx="65.5" cy="39.1" r="1.09" fill="#5a5a5a" opacity="0.85"/><circle cx="24.0" cy="34.2" r="0.58" fill="#7d7d7d" opacity="0.54"/><circle cx="81.7" cy="48.0" r="0.65" fill="#838383" opacity="0.62"/><circle cx="54.3" cy="0.4" r="0.42" fill="#727272" opacity="0.51"/><circle cx="52.8" cy="6.8" r="0.47" fill="#595959" opacity="0.52"/><circle cx="23.9" cy="16.7" r="0.76" fill="#757575" opacity="0.63"/><circle cx="55.3" cy="29.3" r="0.88" fill="#888888" opacity="0.84"/><circle cx="75.2" cy="33.4" r="0.76" fill="#7d7d7d" opacity="0.69"/><circle cx="91.0" cy="71.5" r="0.81" fill="#5e5e5e" opacity="0.72"/><circle cx="49.5" cy="1.5" r="1.07" fill="#5f5f5f" opacity="0.69"/><circle cx="29.9" cy="75.7" r="0.66" fill="#595959" opacity="0.80"/><circle cx="42.5" cy="8.1" r="0.54" fill="#838383" opacity="0.78"/><circle cx="83.8" cy="4.6" r="0.85" fill="#757575" opacity="0.53"/><circle cx="60.8" cy="5.7" r="0.60" fill="#6f6f6f" opacity="0.57"/><circle cx="74.7" cy="16.9" r="0.74" fill="#5f5f5f" opacity="0.68"/><circle cx="40.4" cy="35.7" r="0.93" fill="#717171" opacity="0.81"/><circle cx="26.2" cy="9.5" r="0.83" fill="#6d6d6d" opacity="0.71"/><circle cx="99.0" cy="53.3" r="0.42" fill="#828282" opacity="0.64"/><circle cx="4.5" cy="54.3" r="0.60" fill="#757575" opacity="0.51"/><circle cx="38.7" cy="37.3" r="1.01" fill="#868686" opacity="0.83"/><circle cx="83.0" cy="71.8" r="0.99" fill="#6a6a6a" opacity="0.61"/><circle cx="16.1" cy="45.9" r="0.78" fill="#848484" opacity="0.72"/><circle cx="94.8" cy="45.1" r="0.97" fill="#5e5e5e" opacity="0.48"/><circle cx="18.2" cy="42.0" r="0.96" fill="#5c5c5c" opacity="0.77"/><circle cx="94.1" cy="52.5" r="0.97" fill="#5a5a5a" opacity="0.50"/><circle cx="30.6" cy="17.8" r="0.87" fill="#838383" opacity="0.58"/><circle cx="17.8" cy="22.1" r="0.51" fill="#888888" opacity="0.62"/><circle cx="33.9" cy="19.1" r="0.76" fill="#626262" opacity="0.81"/><circle cx="47.6" cy="54.1" r="0.68" fill="#6e6e6e" opacity="0.76"/><circle cx="59.2" cy="11.1" r="0.71" fill="#595959" opacity="0.77"/><circle cx="39.6" cy="56.7" r="0.67" fill="#5b5b5b" opacity="0.64"/><circle cx="41.8" cy="54.7" r="1.06" fill="#858585" opacity="0.71"/><circle cx="37.2" cy="42.2" r="0.90" fill="#828282" opacity="0.48"/><circle cx="84.6" cy="55.9" r="0.77" fill="#646464" opacity="0.61"/><circle cx="68.8" cy="75.2" r="0.84" fill="#585858" opacity="0.58"/><circle cx="54.0" cy="69.8" r="0.73" fill="#636363" opacity="0.78"/><circle cx="1.8" cy="72.6" r="0.91" fill="#7e7e7e" opacity="0.60"/><circle cx="22.2" cy="74.9" r="0.67" fill="#7b7b7b" opacity="0.76"/><circle cx="20.6" cy="57.3" r="0.81" fill="#646464" opacity="0.65"/><circle cx="63.2" cy="0.7" r="0.88" fill="#767676" opacity="0.55"/><circle cx="58.4" cy="36.0" r="0.54" fill="#888888" opacity="0.48"/><circle cx="0.3" cy="37.4" r="0.99" fill="#828282" opacity="0.48"/><circle cx="61.0" cy="71.2" r="1.05" fill="#757575" opacity="0.56"/><circle cx="51.9" cy="2.1" r="0.46" fill="#888888" opacity="0.59"/><circle cx="78.4" cy="72.3" r="1.10" fill="#686868" opacity="0.72"/><circle cx="81.3" cy="66.5" r="0.49" fill="#626262" opacity="0.65"/><circle cx="102.4" cy="52.0" r="0.51" fill="#6a6a6a" opacity="0.67"/><circle cx="99.8" cy="28.2" r="0.78" fill="#707070" opacity="0.68"/><circle cx="21.1" cy="52.1" r="0.75" fill="#606060" opacity="0.64"/><circle cx="55.6" cy="70.4" r="0.45" fill="#6c6c6c" opacity="0.57"/><circle cx="66.7" cy="61.3" r="0.86" fill="#717171" opacity="0.66"/><circle cx="95.0" cy="39.2" r="0.55" fill="#7e7e7e" opacity="0.66"/><circle cx="87.8" cy="61.4" r="0.84" fill="#6b6b6b" opacity="0.47"/><circle cx="98.0" cy="43.2" r="0.77" fill="#5b5b5b" opacity="0.83"/><circle cx="11.6" cy="63.0" r="0.67" fill="#6f6f6f" opacity="0.54"/><circle cx="36.7" cy="25.8" r="0.65" fill="#777777" opacity="0.63"/><circle cx="30.1" cy="68.9" r="1.05" fill="#747474" opacity="0.85"/><circle cx="22.3" cy="21.0" r="0.51" fill="#676767" opacity="0.64"/><circle cx="77.6" cy="65.2" r="0.53" fill="#606060" opacity="0.77"/><circle cx="24.1" cy="62.3" r="0.84" fill="#717171" opacity="0.77"/><circle cx="77.3" cy="21.6" r="0.90" fill="#7e7e7e" opacity="0.65"/><circle cx="71.2" cy="73.1" r="0.92" fill="#888888" opacity="0.74"/><circle cx="72.7" cy="48.7" r="1.08" fill="#858585" opacity="0.57"/><circle cx="64.2" cy="51.6" r="0.66" fill="#717171" opacity="0.64"/><circle cx="26.6" cy="69.4" r="0.71" fill="#5d5d5d" opacity="0.81"/><circle cx="19.2" cy="74.0" r="0.49" fill="#595959" opacity="0.49"/><circle cx="17.2" cy="5.9" r="1.01" fill="#868686" opacity="0.75"/><circle cx="45.0" cy="41.8" r="0.57" fill="#7e7e7e" opacity="0.61"/><circle cx="29.4" cy="49.1" r="0.51" fill="#6c6c6c" opacity="0.53"/><circle cx="51.4" cy="74.7" r="0.95" fill="#6d6d6d" opacity="0.55"/><circle cx="43.4" cy="19.3" r="0.64" fill="#676767" opacity="0.73"/><circle cx="75.1" cy="3.6" r="1.06" fill="#818181" opacity="0.76"/><circle cx="6.4" cy="11.1" r="1.00" fill="#737373" opacity="0.63"/><circle cx="28.1" cy="24.7" r="0.80" fill="#5f5f5f" opacity="0.59"/><circle cx="79.3" cy="47.0" r="0.68" fill="#5b5b5b" opacity="0.61"/><circle cx="48.9" cy="47.7" r="0.62" fill="#7f7f7f" opacity="0.69"/><circle cx="60.7" cy="41.5" r="1.09" fill="#717171" opacity="0.79"/><circle cx="46.9" cy="31.7" r="0.77" fill="#5a5a5a" opacity="0.80"/><circle cx="46.6" cy="45.5" r="0.48" fill="#838383" opacity="0.65"/><circle cx="18.1" cy="30.2" r="0.72" fill="#858585" opacity="0.45"/><circle cx="10.9" cy="27.0" r="0.52" fill="#616161" opacity="0.62"/><circle cx="101.5" cy="25.9" r="0.97" fill="#757575" opacity="0.47"/><circle cx="92.7" cy="18.6" r="0.74" fill="#7b7b7b" opacity="0.46"/><circle cx="71.8" cy="41.7" r="0.43" fill="#7a7a7a" opacity="0.82"/><circle cx="84.8" cy="40.3" r="0.88" fill="#676767" opacity="0.51"/><circle cx="50.8" cy="10.1" r="0.48" fill="#5e5e5e" opacity="0.64"/><circle cx="82.3" cy="47.4" r="0.84" fill="#6d6d6d" opacity="0.70"/><circle cx="88.6" cy="69.6" r="0.90" fill="#787878" opacity="0.76"/><circle cx="69.7" cy="39.3" r="0.98" fill="#616161" opacity="0.70"/><circle cx="21.7" cy="29.1" r="0.61" fill="#737373" opacity="0.51"/><circle cx="13.5" cy="24.2" r="0.61" fill="#5e5e5e" opacity="0.67"/><circle cx="48.8" cy="21.9" r="0.94" fill="#696969" opacity="0.54"/><circle cx="72.6" cy="53.8" r="0.86" fill="#595959" opacity="0.69"/><circle cx="77.6" cy="16.4" r="0.67" fill="#5a5a5a" opacity="0.71"/><circle cx="64.5" cy="57.1" r="0.89" fill="#767676" opacity="0.67"/><circle cx="76.0" cy="66.3" r="0.56" fill="#616161" opacity="0.69"/><circle cx="3.9" cy="15.1" r="0.48" fill="#808080" opacity="0.73"/><circle cx="94.6" cy="58.7" r="0.46" fill="#838383" opacity="0.81"/><circle cx="47.9" cy="22.5" r="0.55" fill="#6c6c6c" opacity="0.73"/><circle cx="28.6" cy="69.5" r="0.80" fill="#727272" opacity="0.81"/><circle cx="68.9" cy="2.6" r="0.61" fill="#5f5f5f" opacity="0.70"/><circle cx="75.8" cy="72.7" r="0.41" fill="#727272" opacity="0.58"/><circle cx="55.5" cy="30.2" r="0.77" fill="#646464" opacity="0.62"/><circle cx="13.3" cy="13.2" r="1.01" fill="#757575" opacity="0.84"/><circle cx="39.5" cy="47.2" r="0.83" fill="#7d7d7d" opacity="0.64"/><circle cx="19.8" cy="36.1" r="0.80" fill="#6b6b6b" opacity="0.48"/><circle cx="38.1" cy="48.2" r="0.73" fill="#7f7f7f" opacity="0.71"/><circle cx="59.5" cy="9.9" r="1.05" fill="#656565" opacity="0.66"/><circle cx="85.0" cy="7.6" r="0.95" fill="#595959" opacity="0.53"/><circle cx="32.3" cy="24.6" r="0.58" fill="#868686" opacity="0.72"/><circle cx="84.9" cy="5.5" r="0.73" fill="#858585" opacity="0.46"/><circle cx="59.8" cy="10.2" r="0.51" fill="#7e7e7e" opacity="0.76"/><circle cx="74.4" cy="48.8" r="0.71" fill="#696969" opacity="0.71"/><circle cx="51.1" cy="61.7" r="1.04" fill="#616161" opacity="0.68"/><circle cx="87.6" cy="65.9" r="0.56" fill="#7f7f7f" opacity="0.73"/><circle cx="90.2" cy="45.5" r="0.89" fill="#797979" opacity="0.61"/><circle cx="66.5" cy="43.2" r="0.58" fill="#676767" opacity="0.51"/><circle cx="64.1" cy="30.1" r="0.71" fill="#757575" opacity="0.61"/><circle cx="49.0" cy="29.3" r="0.55" fill="#666666" opacity="0.47"/><circle cx="54.2" cy="68.2" r="0.82" fill="#7a7a7a" opacity="0.72"/><circle cx="5.6" cy="54.4" r="0.68" fill="#787878" opacity="0.56"/><circle cx="37.6" cy="27.8" r="1.06" fill="#777777" opacity="0.68"/><circle cx="72.7" cy="56.6" r="0.55" fill="#595959" opacity="0.46"/><circle cx="4.3" cy="50.0" r="0.54" fill="#676767" opacity="0.67"/><circle cx="63.5" cy="49.8" r="1.06" fill="#5e5e5e" opacity="0.71"/><circle cx="55.8" cy="52.2" r="0.50" fill="#858585" opacity="0.51"/><circle cx="32.0" cy="50.9" r="0.73" fill="#7b7b7b" opacity="0.59"/><circle cx="35.1" cy="71.0" r="1.97" fill="#868686" opacity="0.56"/><circle cx="35.9" cy="61.2" r="2.50" fill="#919191" opacity="0.63"/><circle cx="92.5" cy="39.2" r="2.55" fill="#818181" opacity="0.37"/><circle cx="44.8" cy="48.8" r="1.56" fill="#838383" opacity="0.65"/><circle cx="7.9" cy="41.6" r="1.98" fill="#9b9b9b" opacity="0.50"/><circle cx="24.8" cy="14.0" r="1.98" fill="#818181" opacity="0.56"/><circle cx="99.7" cy="63.7" r="2.08" fill="#929292" opacity="0.36"/><circle cx="89.7" cy="74.6" r="1.91" fill="#8e8e8e" opacity="0.49"/><circle cx="93.8" cy="8.5" r="1.96" fill="#848484" opacity="0.43"/><circle cx="56.8" cy="7.9" r="2.11" fill="#858585" opacity="0.53"/><circle cx="29.0" cy="50.2" r="1.08" fill="#999999" opacity="0.50"/><circle cx="80.8" cy="11.9" r="1.21" fill="#979797" opacity="0.37"/><circle cx="98.9" cy="14.1" r="2.31" fill="#9b9b9b" opacity="0.56"/><circle cx="84.8" cy="66.9" r="1.71" fill="#9f9f9f" opacity="0.56"/><circle cx="13.2" cy="27.0" r="1.04" fill="#8b8b8b" opacity="0.69"/><circle cx="65.8" cy="43.9" r="1.40" fill="#9c9c9c" opacity="0.51"/><circle cx="19.4" cy="33.5" r="2.24" fill="#969696" opacity="0.61"/><circle cx="98.3" cy="63.2" r="1.99" fill="#818181" opacity="0.50"/><circle cx="96.1" cy="1.9" r="2.46" fill="#9e9e9e" opacity="0.55"/><circle cx="70.8" cy="19.0" r="2.14" fill="#979797" opacity="0.53"/><circle cx="63.8" cy="69.9" r="1.39" fill="#8a8a8a" opacity="0.51"/><circle cx="98.3" cy="58.1" r="1.67" fill="#a0a0a0" opacity="0.59"/><circle cx="25.4" cy="74.7" r="2.06" fill="#989898" opacity="0.39"/><circle cx="61.7" cy="48.1" r="1.73" fill="#989898" opacity="0.51"/><circle cx="97.2" cy="54.8" r="2.18" fill="#969696" opacity="0.41"/><circle cx="24.1" cy="69.0" r="1.28" fill="#9c9c9c" opacity="0.52"/><circle cx="102.0" cy="62.2" r="1.65" fill="#949494" opacity="0.55"/><circle cx="41.8" cy="49.8" r="2.25" fill="#909090" opacity="0.58"/><circle cx="68.9" cy="30.9" r="1.06" fill="#9d9d9d" opacity="0.39"/><circle cx="1.1" cy="64.5" r="1.52" fill="#949494" opacity="0.61"/><circle cx="18.4" cy="64.2" r="1.52" fill="#858585" opacity="0.53"/><circle cx="49.6" cy="47.7" r="1.38" fill="#868686" opacity="0.56"/><circle cx="35.6" cy="23.3" r="1.22" fill="#838383" opacity="0.35"/><circle cx="41.9" cy="50.2" r="1.98" fill="#808080" opacity="0.66"/><circle cx="65.9" cy="44.3" r="1.36" fill="#949494" opacity="0.41"/><circle cx="31.3" cy="63.9" r="1.91" fill="#9f9f9f" opacity="0.51"/><circle cx="28.8" cy="38.8" r="1.92" fill="#8f8f8f" opacity="0.48"/><circle cx="38.4" cy="61.7" r="2.43" fill="#8e8e8e" opacity="0.42"/><circle cx="48.3" cy="30.6" r="1.43" fill="#8d8d8d" opacity="0.53"/><circle cx="16.7" cy="31.2" r="1.76" fill="#979797" opacity="0.58"/><circle cx="69.9" cy="56.0" r="1.97" fill="#8b8b8b" opacity="0.65"/><circle cx="63.5" cy="60.9" r="1.21" fill="#8d8d8d" opacity="0.70"/><circle cx="22.4" cy="47.8" r="1.73" fill="#8c8c8c" opacity="0.61"/><circle cx="28.2" cy="47.5" r="1.03" fill="#979797" opacity="0.66"/><circle cx="31.5" cy="44.0" r="1.76" fill="#878787" opacity="0.38"/><circle cx="47.8" cy="11.0" r="2.41" fill="#9d9d9d" opacity="0.67"/><circle cx="66.1" cy="20.6" r="2.39" fill="#848484" opacity="0.67"/><circle cx="92.5" cy="54.5" r="1.47" fill="#818181" opacity="0.54"/><circle cx="57.8" cy="6.0" r="2.46" fill="#8b8b8b" opacity="0.56"/><circle cx="47.9" cy="15.3" r="1.06" fill="#959595" opacity="0.51"/><circle cx="6.4" cy="75.7" r="2.9" fill="#fff" fill-opacity="0.12" stroke="#6a6a6a" stroke-width="0.8" opacity="0.32"/><circle cx="31.6" cy="53.8" r="1.4" fill="#fff" fill-opacity="0.12" stroke="#6a6a6a" stroke-width="0.8" opacity="0.27"/><circle cx="84.0" cy="17.1" r="1.8" fill="#fff" fill-opacity="0.12" stroke="#6a6a6a" stroke-width="0.8" opacity="0.30"/><circle cx="38.5" cy="5.5" r="2.8" fill="#fff" fill-opacity="0.12" stroke="#6a6a6a" stroke-width="0.8" opacity="0.45"/><circle cx="98.8" cy="55.3" r="1.5" fill="#fff" fill-opacity="0.12" stroke="#6a6a6a" stroke-width="0.8" opacity="0.26"/><circle cx="43.7" cy="57.2" r="1.8" fill="#fff" fill-opacity="0.12" stroke="#6a6a6a" stroke-width="0.8" opacity="0.43"/><circle cx="77.6" cy="26.2" r="1.5" fill="#fff" fill-opacity="0.12" stroke="#6a6a6a" stroke-width="0.8" opacity="0.24"/><circle cx="56.2" cy="3.7" r="3.1" fill="#fff" fill-opacity="0.12" stroke="#6a6a6a" stroke-width="0.8" opacity="0.36"/><circle cx="43.1" cy="27.6" r="2.5" fill="#fff" fill-opacity="0.12" stroke="#6a6a6a" stroke-width="0.8" opacity="0.30"/><circle cx="91.9" cy="11.6" r="2.7" fill="#fff" fill-opacity="0.12" stroke="#6a6a6a" stroke-width="0.8" opacity="0.22"/><circle cx="9.3" cy="11.0" r="3.0" fill="#fff" fill-opacity="0.12" stroke="#6a6a6a" stroke-width="0.8" opacity="0.42"/><circle cx="97.9" cy="59.8" r="2.6" fill="#fff" fill-opacity="0.12" stroke="#6a6a6a" stroke-width="0.8" opacity="0.47"/><circle cx="13.3" cy="76.4" r="1.7" fill="#fff" fill-opacity="0.12" stroke="#6a6a6a" stroke-width="0.8" opacity="0.42"/><circle cx="76.9" cy="62.0" r="3.2" fill="#fff" fill-opacity="0.12" stroke="#6a6a6a" stroke-width="0.8" opacity="0.46"/><circle cx="68.9" cy="16.2" r="2.5" fill="#fff" fill-opacity="0.12" stroke="#6a6a6a" stroke-width="0.8" opacity="0.23"/><circle cx="100.2" cy="33.0" r="2.2" fill="#fff" fill-opacity="0.12" stroke="#6a6a6a" stroke-width="0.8" opacity="0.37"/><circle cx="95.4" cy="40.6" r="1.4" fill="#fff" fill-opacity="0.12" stroke="#6a6a6a" stroke-width="0.8" opacity="0.46"/><circle cx="12.9" cy="73.3" r="1.5" fill="#fff" fill-opacity="0.12" stroke="#6a6a6a" stroke-width="0.8" opacity="0.43"/><circle cx="76.1" cy="48.8" r="2.4" fill="#fff" fill-opacity="0.12" stroke="#6a6a6a" stroke-width="0.8" opacity="0.41"/><circle cx="12.8" cy="39.6" r="2.3" fill="#fff" fill-opacity="0.12" stroke="#6a6a6a" stroke-width="0.8" opacity="0.39"/><circle cx="20.5" cy="75.5" r="2.5" fill="#fff" fill-opacity="0.12" stroke="#6a6a6a" stroke-width="0.8" opacity="0.24"/><circle cx="97.7" cy="10.0" r="1.7" fill="#fff" fill-opacity="0.12" stroke="#6a6a6a" stroke-width="0.8" opacity="0.41"/><circle cx="69.5" cy="35.1" r="1.8" fill="#fff" fill-opacity="0.12" stroke="#6a6a6a" stroke-width="0.8" opacity="0.23"/><circle cx="11.0" cy="1.4" r="1.4" fill="#fff" fill-opacity="0.12" stroke="#6a6a6a" stroke-width="0.8" opacity="0.44"/><circle cx="36.5" cy="18.5" r="2.0" fill="#fff" fill-opacity="0.12" stroke="#6a6a6a" stroke-width="0.8" opacity="0.23"/><circle cx="17.3" cy="10.1" r="2.7" fill="#fff" fill-opacity="0.12" stroke="#6a6a6a" stroke-width="0.8" opacity="0.48"/><circle cx="40.4" cy="76.5" r="2.5" fill="#fff" fill-opacity="0.12" stroke="#6a6a6a" stroke-width="0.8" opacity="0.43"/><circle cx="47.8" cy="8.5" r="1.2" fill="#fff" fill-opacity="0.12" stroke="#6a6a6a" stroke-width="0.8" opacity="0.25"/><circle cx="3.4" cy="33.4" r="1.6" fill="#fff" fill-opacity="0.12" stroke="#6a6a6a" stroke-width="0.8" opacity="0.46"/><circle cx="84.5" cy="65.3" r="1.5" fill="#fff" fill-opacity="0.12" stroke="#6a6a6a" stroke-width="0.8" opacity="0.45"/><circle cx="83.6" cy="43.9" r="3.1" fill="#fff" fill-opacity="0.12" stroke="#6a6a6a" stroke-width="0.8" opacity="0.48"/><circle cx="31.9" cy="43.4" r="2.2" fill="#fff" fill-opacity="0.12" stroke="#6a6a6a" stroke-width="0.8" opacity="0.46"/><circle cx="39.9" cy="22.7" r="2.0" fill="#fff" fill-opacity="0.12" stroke="#6a6a6a" stroke-width="0.8" opacity="0.40"/><circle cx="43.4" cy="60.9" r="2.1" fill="#fff" fill-opacity="0.12" stroke="#6a6a6a" stroke-width="0.8" opacity="0.34"/><circle cx="71.1" cy="41.5" r="2.3" fill="#fff" fill-opacity="0.12" stroke="#6a6a6a" stroke-width="0.8" opacity="0.29"/></g>
<rect width="103.2" height="77" filter="url(#grain)" opacity="0.12"/>
<ellipse cx="9" cy="8" rx="3.5" ry="3" fill="#888" stroke="#666" stroke-width="1" opacity="0.6" filter="url(#bl05)"/>
<ellipse cx="15" cy="60" rx="3.5" ry="3" fill="#999" stroke="#666" stroke-width="1" opacity="0.6" filter="url(#bl05)"/>
<rect width="103.2" height="77" fill="url(#vig)"/>
</svg>
<rect x="152.9" y="559.1" width="103.2" height="77" fill="none" stroke="#444" stroke-width="1"/>
<svg x="260.2" y="559.1" width="103.2" height="77" viewBox="0 0 103.2 77" overflow="hidden">
<rect width="103.2" height="77" fill="#cecece"/>
<rect width="103.2" height="77" filter="url(#mott)" opacity="0.22"/>
<g filter="url(#bl05)"><circle cx="24.6" cy="41.9" r="0.66" fill="#7e7e7e" opacity="0.64"/><circle cx="59.9" cy="46.6" r="1.04" fill="#767676" opacity="0.55"/><circle cx="24.2" cy="76.7" r="0.73" fill="#7b7b7b" opacity="0.64"/><circle cx="66.0" cy="11.6" r="0.84" fill="#797979" opacity="0.61"/><circle cx="1.6" cy="59.8" r="0.51" fill="#7d7d7d" opacity="0.47"/><circle cx="80.5" cy="63.4" r="0.59" fill="#7e7e7e" opacity="0.74"/><circle cx="90.7" cy="55.0" r="1.04" fill="#717171" opacity="0.74"/><circle cx="59.5" cy="74.2" r="0.49" fill="#6f6f6f" opacity="0.49"/><circle cx="14.0" cy="16.7" r="1.08" fill="#737373" opacity="0.76"/><circle cx="88.3" cy="32.4" r="0.98" fill="#7c7c7c" opacity="0.59"/><circle cx="60.4" cy="45.0" r="1.03" fill="#838383" opacity="0.82"/><circle cx="3.0" cy="21.5" r="0.82" fill="#848484" opacity="0.52"/><circle cx="88.8" cy="74.3" r="1.03" fill="#7c7c7c" opacity="0.49"/><circle cx="67.6" cy="48.7" r="1.09" fill="#696969" opacity="0.56"/><circle cx="6.5" cy="65.8" r="1.09" fill="#5d5d5d" opacity="0.59"/><circle cx="6.9" cy="69.1" r="0.41" fill="#737373" opacity="0.76"/><circle cx="90.1" cy="3.4" r="0.83" fill="#5a5a5a" opacity="0.60"/><circle cx="60.5" cy="42.4" r="1.05" fill="#696969" opacity="0.65"/><circle cx="103.0" cy="23.8" r="0.45" fill="#7e7e7e" opacity="0.66"/><circle cx="97.9" cy="74.8" r="0.60" fill="#686868" opacity="0.51"/><circle cx="4.4" cy="66.8" r="0.62" fill="#606060" opacity="0.81"/><circle cx="39.0" cy="35.5" r="0.76" fill="#818181" opacity="0.80"/><circle cx="70.3" cy="7.9" r="1.08" fill="#787878" opacity="0.56"/><circle cx="65.5" cy="55.1" r="1.06" fill="#737373" opacity="0.84"/><circle cx="53.8" cy="42.2" r="0.41" fill="#727272" opacity="0.84"/><circle cx="32.5" cy="29.0" r="0.81" fill="#606060" opacity="0.47"/><circle cx="64.7" cy="35.9" r="0.88" fill="#6e6e6e" opacity="0.69"/><circle cx="28.8" cy="37.7" r="0.81" fill="#838383" opacity="0.46"/><circle cx="38.1" cy="48.4" r="0.61" fill="#7e7e7e" opacity="0.58"/><circle cx="37.6" cy="24.1" r="0.66" fill="#7e7e7e" opacity="0.56"/><circle cx="81.2" cy="8.1" r="0.97" fill="#7c7c7c" opacity="0.72"/><circle cx="13.6" cy="38.5" r="0.86" fill="#696969" opacity="0.55"/><circle cx="19.3" cy="33.5" r="0.89" fill="#5e5e5e" opacity="0.69"/><circle cx="98.0" cy="52.0" r="0.56" fill="#626262" opacity="0.48"/><circle cx="76.6" cy="16.8" r="0.80" fill="#696969" opacity="0.54"/><circle cx="12.5" cy="40.8" r="0.53" fill="#7c7c7c" opacity="0.52"/><circle cx="28.8" cy="62.2" r="0.85" fill="#7f7f7f" opacity="0.59"/><circle cx="13.4" cy="22.5" r="0.96" fill="#696969" opacity="0.64"/><circle cx="65.4" cy="22.4" r="0.80" fill="#5a5a5a" opacity="0.82"/><circle cx="16.1" cy="0.4" r="1.06" fill="#7f7f7f" opacity="0.84"/><circle cx="44.8" cy="73.2" r="1.05" fill="#666666" opacity="0.46"/><circle cx="47.1" cy="58.0" r="0.92" fill="#6a6a6a" opacity="0.67"/><circle cx="91.8" cy="66.3" r="1.00" fill="#6a6a6a" opacity="0.50"/><circle cx="25.2" cy="2.7" r="0.96" fill="#787878" opacity="0.82"/><circle cx="92.5" cy="69.3" r="0.80" fill="#585858" opacity="0.64"/><circle cx="12.5" cy="38.7" r="0.57" fill="#595959" opacity="0.66"/><circle cx="42.7" cy="72.3" r="0.83" fill="#6d6d6d" opacity="0.50"/><circle cx="100.3" cy="41.7" r="0.97" fill="#5b5b5b" opacity="0.59"/><circle cx="20.4" cy="41.2" r="0.97" fill="#626262" opacity="0.55"/><circle cx="28.3" cy="68.5" r="0.49" fill="#585858" opacity="0.65"/><circle cx="58.9" cy="30.8" r="0.93" fill="#676767" opacity="0.56"/><circle cx="54.4" cy="32.6" r="0.73" fill="#585858" opacity="0.79"/><circle cx="80.0" cy="3.6" r="0.43" fill="#767676" opacity="0.84"/><circle cx="88.2" cy="6.6" r="0.75" fill="#6c6c6c" opacity="0.51"/><circle cx="7.4" cy="29.7" r="0.67" fill="#6b6b6b" opacity="0.59"/><circle cx="19.7" cy="25.3" r="0.49" fill="#7b7b7b" opacity="0.45"/><circle cx="74.6" cy="61.2" r="0.80" fill="#5a5a5a" opacity="0.60"/><circle cx="62.4" cy="60.3" r="0.67" fill="#5a5a5a" opacity="0.70"/><circle cx="44.5" cy="28.7" r="0.75" fill="#848484" opacity="0.58"/><circle cx="98.1" cy="32.2" r="0.41" fill="#656565" opacity="0.66"/><circle cx="71.7" cy="5.5" r="0.70" fill="#737373" opacity="0.50"/><circle cx="2.9" cy="25.1" r="1.08" fill="#7b7b7b" opacity="0.77"/><circle cx="27.1" cy="35.7" r="0.49" fill="#868686" opacity="0.71"/><circle cx="91.6" cy="61.0" r="0.87" fill="#868686" opacity="0.58"/><circle cx="54.9" cy="62.5" r="0.90" fill="#767676" opacity="0.51"/><circle cx="79.9" cy="3.4" r="0.46" fill="#5e5e5e" opacity="0.71"/><circle cx="38.8" cy="63.1" r="0.64" fill="#5f5f5f" opacity="0.46"/><circle cx="11.9" cy="37.1" r="0.89" fill="#6a6a6a" opacity="0.68"/><circle cx="82.4" cy="2.8" r="0.94" fill="#787878" opacity="0.66"/><circle cx="24.6" cy="42.7" r="0.47" fill="#7b7b7b" opacity="0.47"/><circle cx="33.5" cy="43.4" r="0.98" fill="#676767" opacity="0.85"/><circle cx="66.7" cy="35.0" r="0.89" fill="#717171" opacity="0.55"/><circle cx="61.9" cy="72.3" r="0.79" fill="#5d5d5d" opacity="0.60"/><circle cx="24.3" cy="71.6" r="0.99" fill="#626262" opacity="0.62"/><circle cx="58.7" cy="44.6" r="1.05" fill="#838383" opacity="0.64"/><circle cx="66.4" cy="69.1" r="0.50" fill="#5e5e5e" opacity="0.65"/><circle cx="49.9" cy="53.8" r="1.07" fill="#7d7d7d" opacity="0.74"/><circle cx="19.2" cy="20.6" r="0.54" fill="#7d7d7d" opacity="0.66"/><circle cx="96.5" cy="65.6" r="0.78" fill="#6a6a6a" opacity="0.72"/><circle cx="88.3" cy="45.8" r="0.81" fill="#696969" opacity="0.81"/><circle cx="31.7" cy="20.6" r="0.96" fill="#646464" opacity="0.52"/><circle cx="37.2" cy="24.8" r="0.94" fill="#616161" opacity="0.62"/><circle cx="72.0" cy="54.0" r="0.54" fill="#7d7d7d" opacity="0.78"/><circle cx="84.8" cy="42.9" r="0.74" fill="#868686" opacity="0.48"/><circle cx="97.8" cy="60.3" r="1.02" fill="#5a5a5a" opacity="0.64"/><circle cx="23.7" cy="18.1" r="0.90" fill="#838383" opacity="0.48"/><circle cx="22.4" cy="19.6" r="1.02" fill="#686868" opacity="0.50"/><circle cx="64.2" cy="52.0" r="0.43" fill="#686868" opacity="0.52"/><circle cx="4.6" cy="14.1" r="0.46" fill="#5d5d5d" opacity="0.50"/><circle cx="27.3" cy="70.4" r="0.43" fill="#747474" opacity="0.68"/><circle cx="69.7" cy="0.5" r="0.63" fill="#737373" opacity="0.60"/><circle cx="8.0" cy="49.6" r="0.92" fill="#777777" opacity="0.61"/><circle cx="56.2" cy="9.2" r="0.59" fill="#828282" opacity="0.62"/><circle cx="45.2" cy="40.6" r="0.58" fill="#797979" opacity="0.83"/><circle cx="38.6" cy="59.5" r="0.93" fill="#6a6a6a" opacity="0.72"/><circle cx="69.1" cy="72.7" r="0.97" fill="#5e5e5e" opacity="0.75"/><circle cx="99.2" cy="51.8" r="0.78" fill="#5f5f5f" opacity="0.72"/><circle cx="52.5" cy="4.6" r="0.61" fill="#868686" opacity="0.68"/><circle cx="18.8" cy="49.7" r="0.84" fill="#636363" opacity="0.60"/><circle cx="94.9" cy="35.0" r="0.48" fill="#7b7b7b" opacity="0.51"/><circle cx="34.2" cy="55.5" r="0.82" fill="#7b7b7b" opacity="0.57"/><circle cx="19.3" cy="37.1" r="0.95" fill="#858585" opacity="0.48"/><circle cx="73.9" cy="58.1" r="0.78" fill="#878787" opacity="0.61"/><circle cx="10.3" cy="20.9" r="0.44" fill="#606060" opacity="0.47"/><circle cx="52.1" cy="19.0" r="0.94" fill="#6e6e6e" opacity="0.80"/><circle cx="97.5" cy="34.5" r="0.97" fill="#5c5c5c" opacity="0.59"/><circle cx="87.4" cy="8.6" r="0.59" fill="#5e5e5e" opacity="0.72"/><circle cx="58.2" cy="70.1" r="0.48" fill="#848484" opacity="0.53"/><circle cx="43.0" cy="57.2" r="0.97" fill="#878787" opacity="0.50"/><circle cx="62.7" cy="66.2" r="0.96" fill="#7a7a7a" opacity="0.66"/><circle cx="58.7" cy="15.6" r="0.58" fill="#6a6a6a" opacity="0.46"/><circle cx="82.9" cy="68.6" r="1.06" fill="#707070" opacity="0.58"/><circle cx="93.5" cy="23.8" r="0.75" fill="#797979" opacity="0.72"/><circle cx="30.9" cy="66.2" r="0.74" fill="#7e7e7e" opacity="0.53"/><circle cx="65.4" cy="8.3" r="0.93" fill="#666666" opacity="0.65"/><circle cx="54.0" cy="35.5" r="0.54" fill="#797979" opacity="0.53"/><circle cx="83.9" cy="71.3" r="1.06" fill="#5f5f5f" opacity="0.68"/><circle cx="99.0" cy="68.7" r="0.49" fill="#5d5d5d" opacity="0.70"/><circle cx="5.2" cy="27.7" r="0.56" fill="#5c5c5c" opacity="0.65"/><circle cx="2.0" cy="26.2" r="0.63" fill="#6e6e6e" opacity="0.73"/><circle cx="13.9" cy="66.1" r="0.82" fill="#5a5a5a" opacity="0.74"/><circle cx="76.3" cy="26.5" r="0.96" fill="#5c5c5c" opacity="0.79"/><circle cx="45.1" cy="58.3" r="0.74" fill="#5e5e5e" opacity="0.76"/><circle cx="42.2" cy="65.1" r="0.89" fill="#717171" opacity="0.65"/><circle cx="72.2" cy="41.4" r="0.70" fill="#818181" opacity="0.65"/><circle cx="2.4" cy="35.2" r="0.88" fill="#747474" opacity="0.52"/><circle cx="92.8" cy="55.4" r="0.66" fill="#6f6f6f" opacity="0.63"/><circle cx="37.3" cy="30.9" r="1.08" fill="#656565" opacity="0.55"/><circle cx="38.1" cy="65.9" r="0.77" fill="#626262" opacity="0.53"/><circle cx="17.6" cy="31.1" r="0.52" fill="#595959" opacity="0.51"/><circle cx="62.8" cy="34.1" r="0.53" fill="#595959" opacity="0.61"/><circle cx="32.8" cy="2.5" r="0.90" fill="#676767" opacity="0.61"/><circle cx="40.9" cy="2.1" r="1.08" fill="#666666" opacity="0.55"/><circle cx="40.2" cy="14.7" r="0.63" fill="#5f5f5f" opacity="0.59"/><circle cx="12.8" cy="4.0" r="0.91" fill="#696969" opacity="0.84"/><circle cx="97.2" cy="60.8" r="1.07" fill="#777777" opacity="0.55"/><circle cx="27.4" cy="62.7" r="0.84" fill="#6e6e6e" opacity="0.58"/><circle cx="5.9" cy="33.5" r="0.46" fill="#7f7f7f" opacity="0.45"/><circle cx="3.1" cy="7.0" r="0.52" fill="#5a5a5a" opacity="0.64"/><circle cx="19.5" cy="39.2" r="0.63" fill="#888888" opacity="0.64"/><circle cx="82.9" cy="70.6" r="1.06" fill="#5a5a5a" opacity="0.60"/><circle cx="77.6" cy="48.6" r="0.68" fill="#6a6a6a" opacity="0.52"/><circle cx="42.6" cy="39.1" r="0.78" fill="#7a7a7a" opacity="0.72"/><circle cx="95.8" cy="13.4" r="0.92" fill="#868686" opacity="0.60"/><circle cx="96.8" cy="27.7" r="0.53" fill="#727272" opacity="0.63"/><circle cx="45.9" cy="54.1" r="0.64" fill="#626262" opacity="0.65"/><circle cx="77.7" cy="70.5" r="0.89" fill="#777777" opacity="0.47"/><circle cx="17.7" cy="57.9" r="0.98" fill="#5d5d5d" opacity="0.75"/><circle cx="69.9" cy="7.5" r="0.57" fill="#818181" opacity="0.47"/><circle cx="63.2" cy="3.7" r="0.73" fill="#868686" opacity="0.71"/><circle cx="102.9" cy="0.1" r="0.54" fill="#5e5e5e" opacity="0.59"/><circle cx="32.1" cy="34.7" r="0.98" fill="#656565" opacity="0.55"/><circle cx="5.0" cy="11.8" r="0.85" fill="#7d7d7d" opacity="0.84"/><circle cx="11.6" cy="22.1" r="0.55" fill="#7b7b7b" opacity="0.66"/><circle cx="52.1" cy="69.9" r="0.62" fill="#7a7a7a" opacity="0.76"/><circle cx="48.2" cy="47.9" r="0.43" fill="#5f5f5f" opacity="0.69"/><circle cx="88.6" cy="7.8" r="1.06" fill="#686868" opacity="0.48"/><circle cx="48.0" cy="17.2" r="0.98" fill="#7f7f7f" opacity="0.49"/><circle cx="50.1" cy="51.5" r="0.89" fill="#717171" opacity="0.69"/><circle cx="46.0" cy="8.5" r="0.98" fill="#7e7e7e" opacity="0.63"/><circle cx="39.2" cy="9.0" r="0.41" fill="#6b6b6b" opacity="0.74"/><circle cx="8.0" cy="26.7" r="0.74" fill="#5c5c5c" opacity="0.82"/><circle cx="70.8" cy="28.1" r="0.95" fill="#5c5c5c" opacity="0.69"/><circle cx="22.1" cy="27.0" r="1.10" fill="#6d6d6d" opacity="0.54"/><circle cx="45.3" cy="19.3" r="0.63" fill="#878787" opacity="0.82"/><circle cx="75.0" cy="67.4" r="1.09" fill="#7f7f7f" opacity="0.64"/><circle cx="73.4" cy="65.6" r="0.66" fill="#646464" opacity="0.81"/><circle cx="98.0" cy="37.3" r="0.94" fill="#727272" opacity="0.64"/><circle cx="60.6" cy="2.7" r="1.07" fill="#595959" opacity="0.52"/><circle cx="9.9" cy="55.6" r="0.61" fill="#797979" opacity="0.47"/><circle cx="48.7" cy="15.0" r="0.55" fill="#777777" opacity="0.62"/><circle cx="35.6" cy="57.1" r="0.92" fill="#6a6a6a" opacity="0.51"/><circle cx="45.8" cy="70.0" r="0.71" fill="#656565" opacity="0.51"/><circle cx="78.7" cy="53.9" r="1.08" fill="#808080" opacity="0.60"/><circle cx="16.7" cy="24.0" r="0.72" fill="#797979" opacity="0.85"/><circle cx="23.0" cy="73.7" r="0.60" fill="#595959" opacity="0.64"/><circle cx="91.5" cy="62.1" r="1.48" fill="#8f8f8f" opacity="0.68"/><circle cx="53.6" cy="1.1" r="2.01" fill="#898989" opacity="0.54"/><circle cx="17.1" cy="3.9" r="1.33" fill="#9d9d9d" opacity="0.47"/><circle cx="99.7" cy="27.9" r="1.88" fill="#9f9f9f" opacity="0.41"/><circle cx="1.4" cy="33.3" r="1.54" fill="#838383" opacity="0.56"/><circle cx="83.7" cy="34.7" r="1.42" fill="#9f9f9f" opacity="0.50"/><circle cx="26.9" cy="3.4" r="1.69" fill="#8a8a8a" opacity="0.67"/><circle cx="83.4" cy="19.0" r="1.22" fill="#9a9a9a" opacity="0.53"/><circle cx="85.8" cy="42.5" r="1.45" fill="#8a8a8a" opacity="0.37"/><circle cx="50.1" cy="4.7" r="2.31" fill="#9d9d9d" opacity="0.51"/><circle cx="68.7" cy="71.5" r="2.30" fill="#a0a0a0" opacity="0.50"/><circle cx="53.5" cy="13.2" r="1.29" fill="#888888" opacity="0.70"/><circle cx="56.5" cy="31.4" r="1.56" fill="#9d9d9d" opacity="0.45"/><circle cx="26.4" cy="21.8" r="1.85" fill="#949494" opacity="0.40"/><circle cx="3.9" cy="37.4" r="1.37" fill="#9d9d9d" opacity="0.68"/><circle cx="63.2" cy="2.4" r="1.92" fill="#878787" opacity="0.52"/><circle cx="28.9" cy="54.6" r="2.46" fill="#868686" opacity="0.50"/><circle cx="7.8" cy="2.6" r="1.78" fill="#9c9c9c" opacity="0.42"/><circle cx="95.0" cy="13.9" r="1.61" fill="#999999" opacity="0.46"/><circle cx="28.0" cy="73.1" r="2.51" fill="#949494" opacity="0.56"/><circle cx="57.3" cy="2.7" r="1.67" fill="#9a9a9a" opacity="0.69"/><circle cx="8.2" cy="17.7" r="1.32" fill="#858585" opacity="0.59"/><circle cx="11.9" cy="48.7" r="1.20" fill="#808080" opacity="0.68"/><circle cx="100.6" cy="53.3" r="1.69" fill="#9e9e9e" opacity="0.51"/><circle cx="29.9" cy="43.1" r="1.28" fill="#9f9f9f" opacity="0.69"/><circle cx="14.9" cy="69.7" r="1.28" fill="#9d9d9d" opacity="0.59"/><circle cx="66.8" cy="11.0" r="1.09" fill="#8b8b8b" opacity="0.46"/><circle cx="66.9" cy="10.1" r="1.23" fill="#898989" opacity="0.54"/><circle cx="39.5" cy="8.2" r="1.62" fill="#818181" opacity="0.45"/><circle cx="13.6" cy="11.2" r="1.20" fill="#969696" opacity="0.68"/><circle cx="62.3" cy="72.0" r="1.01" fill="#979797" opacity="0.70"/><circle cx="101.1" cy="18.9" r="1.57" fill="#9f9f9f" opacity="0.39"/><circle cx="87.4" cy="36.4" r="2.18" fill="#9c9c9c" opacity="0.55"/><circle cx="47.9" cy="41.4" r="1.71" fill="#9d9d9d" opacity="0.64"/><circle cx="20.7" cy="45.8" r="2.49" fill="#8b8b8b" opacity="0.46"/><circle cx="88.6" cy="73.8" r="1.51" fill="#8c8c8c" opacity="0.40"/><circle cx="62.3" cy="4.4" r="1.98" fill="#8b8b8b" opacity="0.39"/><circle cx="1.4" cy="67.0" r="2.27" fill="#979797" opacity="0.53"/><circle cx="79.1" cy="7.1" r="1.86" fill="#9c9c9c" opacity="0.46"/><circle cx="60.9" cy="16.8" r="1.73" fill="#979797" opacity="0.57"/><circle cx="61.0" cy="54.1" r="2.23" fill="#969696" opacity="0.65"/><circle cx="86.2" cy="22.1" r="2.56" fill="#919191" opacity="0.41"/><circle cx="62.1" cy="17.0" r="2.59" fill="#8f8f8f" opacity="0.45"/><circle cx="99.8" cy="34.9" r="1.76" fill="#8b8b8b" opacity="0.70"/><circle cx="54.5" cy="34.0" r="1.99" fill="#848484" opacity="0.50"/><circle cx="56.7" cy="47.0" r="1.47" fill="#8f8f8f" opacity="0.65"/><circle cx="39.6" cy="75.6" r="1.59" fill="#8d8d8d" opacity="0.37"/><circle cx="51.0" cy="9.1" r="2.17" fill="#989898" opacity="0.60"/><circle cx="37.3" cy="23.1" r="1.81" fill="#999999" opacity="0.50"/><circle cx="93.7" cy="52.8" r="1.17" fill="#9f9f9f" opacity="0.40"/><circle cx="22.7" cy="28.6" r="1.98" fill="#888888" opacity="0.66"/><circle cx="21.6" cy="33.5" r="1.31" fill="#818181" opacity="0.54"/><circle cx="95.1" cy="41.1" r="2.18" fill="#8d8d8d" opacity="0.50"/><circle cx="70.4" cy="9.3" r="2.41" fill="#989898" opacity="0.43"/><circle cx="14.3" cy="23.6" r="1.88" fill="#878787" opacity="0.64"/><circle cx="61.8" cy="6.5" r="1.04" fill="#969696" opacity="0.48"/><circle cx="50.6" cy="75.9" r="1.76" fill="#888888" opacity="0.49"/><circle cx="52.8" cy="33.3" r="2.01" fill="#939393" opacity="0.50"/><circle cx="10.0" cy="75.4" r="2.11" fill="#858585" opacity="0.37"/><circle cx="90.5" cy="57.4" r="1.51" fill="#808080" opacity="0.46"/><circle cx="94.2" cy="48.6" r="1.15" fill="#959595" opacity="0.58"/><circle cx="91.0" cy="17.4" r="1.52" fill="#999999" opacity="0.69"/><circle cx="5.4" cy="39.9" r="2.44" fill="#a0a0a0" opacity="0.53"/><circle cx="59.2" cy="6.6" r="1.37" fill="#9e9e9e" opacity="0.64"/><circle cx="94.8" cy="30.5" r="1.55" fill="#9d9d9d" opacity="0.58"/><circle cx="54.5" cy="15.6" r="1.48" fill="#888888" opacity="0.55"/><circle cx="37.6" cy="39.9" r="1.50" fill="#8d8d8d" opacity="0.51"/><circle cx="74.4" cy="66.0" r="2.01" fill="#9f9f9f" opacity="0.65"/><circle cx="22.3" cy="63.4" r="2.50" fill="#878787" opacity="0.67"/><circle cx="51.7" cy="64.9" r="1.50" fill="#828282" opacity="0.46"/><circle cx="25.5" cy="67.8" r="2.09" fill="#838383" opacity="0.43"/><circle cx="37.9" cy="17.2" r="1.46" fill="#969696" opacity="0.44"/><circle cx="71.6" cy="26.2" r="1.18" fill="#8e8e8e" opacity="0.46"/><circle cx="17.8" cy="13.0" r="1.77" fill="#8d8d8d" opacity="0.43"/><circle cx="69.2" cy="46.9" r="1.28" fill="#999999" opacity="0.56"/><circle cx="43.8" cy="13.6" r="1.48" fill="#979797" opacity="0.37"/><circle cx="81.2" cy="66.2" r="1.78" fill="#8b8b8b" opacity="0.44"/><circle cx="92.7" cy="52.8" r="1.36" fill="#a0a0a0" opacity="0.70"/><circle cx="35.7" cy="76.7" r="1.77" fill="#8b8b8b" opacity="0.39"/><circle cx="43.3" cy="66.6" r="1.23" fill="#949494" opacity="0.39"/><circle cx="54.5" cy="65.5" r="1.76" fill="#898989" opacity="0.65"/><circle cx="46.1" cy="37.9" r="1.93" fill="#8c8c8c" opacity="0.57"/><circle cx="72.4" cy="75.1" r="1.95" fill="#929292" opacity="0.54"/><circle cx="102.0" cy="64.4" r="2.20" fill="#929292" opacity="0.67"/><circle cx="43.7" cy="43.0" r="2.22" fill="#9b9b9b" opacity="0.52"/><circle cx="58.5" cy="19.2" r="2.12" fill="#989898" opacity="0.60"/><circle cx="33.4" cy="12.5" r="2.46" fill="#9f9f9f" opacity="0.41"/><circle cx="40.7" cy="15.1" r="1.65" fill="#979797" opacity="0.39"/><circle cx="5.7" cy="37.1" r="1.32" fill="#a0a0a0" opacity="0.58"/><circle cx="12.3" cy="42.5" r="1.19" fill="#989898" opacity="0.65"/><circle cx="53.2" cy="30.6" r="1.11" fill="#919191" opacity="0.59"/><circle cx="23.8" cy="20.1" r="1.34" fill="#878787" opacity="0.52"/><circle cx="44.8" cy="20.2" r="2.54" fill="#8b8b8b" opacity="0.44"/><circle cx="80.5" cy="72.9" r="2.07" fill="#8f8f8f" opacity="0.69"/><circle cx="81.6" cy="56.5" r="2.44" fill="#868686" opacity="0.65"/><circle cx="14.0" cy="6.4" r="2.57" fill="#959595" opacity="0.69"/><circle cx="33.7" cy="58.7" r="1.26" fill="#9f9f9f" opacity="0.44"/><circle cx="52.5" cy="28.7" r="2.39" fill="#9b9b9b" opacity="0.53"/><circle cx="70.9" cy="32.9" r="2.29" fill="#909090" opacity="0.45"/><circle cx="28.1" cy="69.4" r="1.25" fill="#828282" opacity="0.41"/><circle cx="66.1" cy="16.3" r="2.21" fill="#a0a0a0" opacity="0.61"/><circle cx="21.4" cy="53.8" r="2.03" fill="#909090" opacity="0.37"/><circle cx="57.4" cy="57.4" r="2.47" fill="#8c8c8c" opacity="0.39"/><circle cx="22.4" cy="73.6" r="1.12" fill="#9b9b9b" opacity="0.61"/><circle cx="15.4" cy="41.9" r="2.07" fill="#8a8a8a" opacity="0.44"/><circle cx="9.0" cy="6.2" r="2.09" fill="#868686" opacity="0.35"/><circle cx="8.5" cy="60.5" r="1.63" fill="#9d9d9d" opacity="0.54"/><circle cx="68.4" cy="34.1" r="1.28" fill="#808080" opacity="0.37"/><circle cx="70.4" cy="32.0" r="1.01" fill="#959595" opacity="0.53"/><circle cx="33.8" cy="74.8" r="1.16" fill="#8d8d8d" opacity="0.49"/><circle cx="83.1" cy="34.3" r="2.07" fill="#949494" opacity="0.57"/><circle cx="45.5" cy="18.2" r="1.01" fill="#8d8d8d" opacity="0.43"/><circle cx="42.9" cy="7.4" r="1.51" fill="#878787" opacity="0.54"/><circle cx="61.7" cy="22.3" r="1.04" fill="#818181" opacity="0.56"/><circle cx="23.0" cy="35.0" r="1.82" fill="#989898" opacity="0.58"/><circle cx="75.9" cy="40.2" r="1.68" fill="#939393" opacity="0.63"/><circle cx="18.3" cy="34.8" r="1.85" fill="#929292" opacity="0.67"/><circle cx="60.1" cy="48.0" r="1.70" fill="#888888" opacity="0.46"/><circle cx="53.9" cy="17.4" r="1.84" fill="#929292" opacity="0.39"/><circle cx="51.5" cy="36.9" r="1.40" fill="#9a9a9a" opacity="0.36"/><circle cx="2.4" cy="47.9" r="1.09" fill="#a0a0a0" opacity="0.65"/><circle cx="93.5" cy="3.7" r="2.08" fill="#939393" opacity="0.64"/><circle cx="50.7" cy="60.0" r="2.28" fill="#939393" opacity="0.57"/><circle cx="9.1" cy="74.2" r="1.07" fill="#8c8c8c" opacity="0.43"/><circle cx="16.4" cy="30.1" r="2.20" fill="#a0a0a0" opacity="0.40"/><circle cx="17.0" cy="74.1" r="1.48" fill="#a0a0a0" opacity="0.35"/><circle cx="7.0" cy="52.1" r="2.48" fill="#9a9a9a" opacity="0.58"/><circle cx="34.3" cy="60.3" r="1.69" fill="#959595" opacity="0.56"/><circle cx="3.0" cy="23.5" r="2.18" fill="#909090" opacity="0.63"/><circle cx="77.2" cy="15.8" r="1.16" fill="#909090" opacity="0.61"/><circle cx="98.7" cy="36.7" r="1.32" fill="#959595" opacity="0.56"/><circle cx="68.5" cy="76.8" r="1.08" fill="#999999" opacity="0.43"/><circle cx="18.7" cy="7.6" r="1.29" fill="#a0a0a0" opacity="0.51"/><circle cx="44.5" cy="32.5" r="1.92" fill="#989898" opacity="0.50"/><circle cx="4.1" cy="56.4" r="2.20" fill="#979797" opacity="0.67"/><circle cx="40.4" cy="40.5" r="1.22" fill="#8c8c8c" opacity="0.62"/><circle cx="3.2" cy="31.8" r="2.35" fill="#999999" opacity="0.52"/><circle cx="39.1" cy="38.7" r="1.69" fill="#8c8c8c" opacity="0.52"/><circle cx="6.0" cy="43.1" r="1.26" fill="#818181" opacity="0.42"/><circle cx="92.0" cy="61.6" r="2.14" fill="#888888" opacity="0.49"/><circle cx="52.9" cy="8.9" r="1.17" fill="#8d8d8d" opacity="0.68"/><circle cx="30.2" cy="65.9" r="2.45" fill="#9b9b9b" opacity="0.70"/><circle cx="16.3" cy="53.2" r="2.00" fill="#9f9f9f" opacity="0.46"/><circle cx="45.7" cy="71.5" r="1.8" fill="#fff" fill-opacity="0.12" stroke="#6a6a6a" stroke-width="0.8" opacity="0.23"/><circle cx="98.0" cy="24.4" r="2.1" fill="#fff" fill-opacity="0.12" stroke="#6a6a6a" stroke-width="0.8" opacity="0.49"/><circle cx="29.1" cy="6.6" r="3.3" fill="#fff" fill-opacity="0.12" stroke="#6a6a6a" stroke-width="0.8" opacity="0.29"/><circle cx="22.9" cy="72.2" r="1.8" fill="#fff" fill-opacity="0.12" stroke="#6a6a6a" stroke-width="0.8" opacity="0.47"/><circle cx="34.4" cy="23.3" r="1.7" fill="#fff" fill-opacity="0.12" stroke="#6a6a6a" stroke-width="0.8" opacity="0.37"/><circle cx="57.8" cy="30.7" r="2.4" fill="#fff" fill-opacity="0.12" stroke="#6a6a6a" stroke-width="0.8" opacity="0.30"/><circle cx="86.4" cy="71.9" r="3.0" fill="#fff" fill-opacity="0.12" stroke="#6a6a6a" stroke-width="0.8" opacity="0.45"/><circle cx="7.3" cy="19.3" r="1.7" fill="#fff" fill-opacity="0.12" stroke="#6a6a6a" stroke-width="0.8" opacity="0.26"/><circle cx="99.9" cy="69.7" r="3.4" fill="#fff" fill-opacity="0.12" stroke="#6a6a6a" stroke-width="0.8" opacity="0.37"/><circle cx="12.0" cy="32.9" r="1.3" fill="#fff" fill-opacity="0.12" stroke="#6a6a6a" stroke-width="0.8" opacity="0.47"/><circle cx="27.4" cy="22.2" r="3.5" fill="#fff" fill-opacity="0.12" stroke="#6a6a6a" stroke-width="0.8" opacity="0.28"/><circle cx="95.2" cy="24.0" r="2.8" fill="#fff" fill-opacity="0.12" stroke="#6a6a6a" stroke-width="0.8" opacity="0.25"/><circle cx="92.7" cy="30.7" r="2.0" fill="#fff" fill-opacity="0.12" stroke="#6a6a6a" stroke-width="0.8" opacity="0.40"/><circle cx="61.2" cy="19.3" r="1.5" fill="#fff" fill-opacity="0.12" stroke="#6a6a6a" stroke-width="0.8" opacity="0.38"/><circle cx="2.5" cy="67.1" r="2.0" fill="#fff" fill-opacity="0.12" stroke="#6a6a6a" stroke-width="0.8" opacity="0.27"/><circle cx="33.8" cy="8.8" r="2.0" fill="#fff" fill-opacity="0.12" stroke="#6a6a6a" stroke-width="0.8" opacity="0.37"/><circle cx="42.0" cy="25.7" r="1.9" fill="#fff" fill-opacity="0.12" stroke="#6a6a6a" stroke-width="0.8" opacity="0.35"/><circle cx="80.4" cy="33.7" r="3.0" fill="#fff" fill-opacity="0.12" stroke="#6a6a6a" stroke-width="0.8" opacity="0.35"/><circle cx="12.4" cy="13.1" r="3.2" fill="#fff" fill-opacity="0.12" stroke="#6a6a6a" stroke-width="0.8" opacity="0.35"/><circle cx="39.5" cy="39.7" r="3.2" fill="#fff" fill-opacity="0.12" stroke="#6a6a6a" stroke-width="0.8" opacity="0.32"/><circle cx="37.3" cy="28.2" r="1.2" fill="#fff" fill-opacity="0.12" stroke="#6a6a6a" stroke-width="0.8" opacity="0.37"/><circle cx="49.4" cy="38.2" r="2.3" fill="#fff" fill-opacity="0.12" stroke="#6a6a6a" stroke-width="0.8" opacity="0.35"/><circle cx="73.8" cy="14.3" r="3.6" fill="#fff" fill-opacity="0.12" stroke="#6a6a6a" stroke-width="0.8" opacity="0.25"/><circle cx="89.4" cy="13.5" r="3.1" fill="#fff" fill-opacity="0.12" stroke="#6a6a6a" stroke-width="0.8" opacity="0.29"/><circle cx="8.1" cy="41.6" r="3.2" fill="#fff" fill-opacity="0.12" stroke="#6a6a6a" stroke-width="0.8" opacity="0.45"/><circle cx="90.5" cy="75.4" r="1.3" fill="#fff" fill-opacity="0.12" stroke="#6a6a6a" stroke-width="0.8" opacity="0.32"/><circle cx="11.0" cy="58.1" r="2.3" fill="#fff" fill-opacity="0.12" stroke="#6a6a6a" stroke-width="0.8" opacity="0.42"/></g>
<rect width="103.2" height="77" filter="url(#grain)" opacity="0.12"/>
<rect x="50" width="53.2" height="77" fill="#888" opacity="0.12" filter="url(#bl6)"/>
<ellipse cx="29" cy="18" rx="5" ry="4" fill="#6a6a6a" stroke="none" stroke-width="0" opacity="0.8" filter="url(#bl1)"/>
<ellipse cx="56" cy="9" rx="5" ry="4.5" fill="#7a7a7a" stroke="none" stroke-width="0" opacity="0.7" filter="url(#bl1)"/>
<ellipse cx="9" cy="53" rx="4.5" ry="4" fill="#888" stroke="none" stroke-width="0" opacity="0.7" filter="url(#bl1)"/>
<rect width="103.2" height="77" fill="url(#vig)"/>
</svg>
<rect x="260.2" y="559.1" width="103.2" height="77" fill="none" stroke="#444" stroke-width="1"/>
<svg x="45.2" y="638.3" width="103.2" height="77" viewBox="0 0 103.2 77" overflow="hidden">
<rect width="103.2" height="77" fill="#c0c0c0"/>
<rect width="103.2" height="77" filter="url(#mott)" opacity="0.22"/>
<g filter="url(#bl05)"><circle cx="24.4" cy="7.9" r="0.68" fill="#616161" opacity="0.49"/><circle cx="2.0" cy="42.3" r="0.60" fill="#888888" opacity="0.47"/><circle cx="53.7" cy="27.7" r="0.95" fill="#5e5e5e" opacity="0.55"/><circle cx="97.3" cy="2.0" r="0.85" fill="#686868" opacity="0.77"/><circle cx="20.0" cy="23.9" r="0.84" fill="#868686" opacity="0.83"/><circle cx="87.6" cy="28.7" r="0.99" fill="#6d6d6d" opacity="0.72"/><circle cx="52.2" cy="13.7" r="0.73" fill="#5d5d5d" opacity="0.83"/><circle cx="84.4" cy="72.5" r="0.99" fill="#585858" opacity="0.81"/><circle cx="59.1" cy="67.9" r="0.99" fill="#787878" opacity="0.53"/><circle cx="43.7" cy="22.2" r="0.72" fill="#666666" opacity="0.57"/><circle cx="83.9" cy="3.3" r="0.43" fill="#808080" opacity="0.85"/><circle cx="53.5" cy="49.9" r="0.89" fill="#616161" opacity="0.85"/><circle cx="20.2" cy="31.8" r="0.54" fill="#808080" opacity="0.63"/><circle cx="19.0" cy="33.6" r="0.81" fill="#808080" opacity="0.67"/><circle cx="93.3" cy="7.8" r="0.44" fill="#666666" opacity="0.56"/><circle cx="60.1" cy="66.4" r="0.49" fill="#636363" opacity="0.57"/><circle cx="2.6" cy="27.5" r="0.46" fill="#6a6a6a" opacity="0.74"/><circle cx="99.1" cy="1.4" r="0.60" fill="#616161" opacity="0.76"/><circle cx="42.4" cy="72.6" r="0.83" fill="#5c5c5c" opacity="0.57"/><circle cx="19.8" cy="34.2" r="0.50" fill="#707070" opacity="0.69"/><circle cx="16.4" cy="44.1" r="0.65" fill="#757575" opacity="0.52"/><circle cx="80.9" cy="27.9" r="0.60" fill="#5e5e5e" opacity="0.63"/><circle cx="21.4" cy="70.6" r="0.48" fill="#5b5b5b" opacity="0.47"/><circle cx="17.4" cy="52.1" r="0.50" fill="#5a5a5a" opacity="0.67"/><circle cx="60.1" cy="24.8" r="0.42" fill="#797979" opacity="0.57"/><circle cx="102.9" cy="50.2" r="0.54" fill="#646464" opacity="0.55"/><circle cx="42.4" cy="2.8" r="0.69" fill="#676767" opacity="0.71"/><circle cx="44.2" cy="16.6" r="0.53" fill="#5a5a5a" opacity="0.55"/><circle cx="25.0" cy="16.0" r="0.56" fill="#686868" opacity="0.51"/><circle cx="5.3" cy="71.5" r="0.80" fill="#7c7c7c" opacity="0.61"/><circle cx="93.0" cy="50.4" r="0.95" fill="#878787" opacity="0.47"/><circle cx="40.0" cy="33.1" r="1.05" fill="#7c7c7c" opacity="0.81"/><circle cx="95.4" cy="25.9" r="0.86" fill="#818181" opacity="0.58"/><circle cx="43.3" cy="16.6" r="0.96" fill="#696969" opacity="0.59"/><circle cx="40.5" cy="38.2" r="1.00" fill="#696969" opacity="0.83"/><circle cx="69.0" cy="3.4" r="1.03" fill="#606060" opacity="0.76"/><circle cx="27.8" cy="65.9" r="1.01" fill="#848484" opacity="0.70"/><circle cx="58.7" cy="57.5" r="1.05" fill="#656565" opacity="0.77"/><circle cx="21.8" cy="12.1" r="0.83" fill="#686868" opacity="0.50"/><circle cx="83.6" cy="60.3" r="1.01" fill="#7b7b7b" opacity="0.47"/><circle cx="98.1" cy="12.5" r="0.83" fill="#7b7b7b" opacity="0.76"/><circle cx="48.7" cy="40.5" r="0.42" fill="#5a5a5a" opacity="0.73"/><circle cx="11.7" cy="43.2" r="0.58" fill="#606060" opacity="0.47"/><circle cx="8.2" cy="67.7" r="1.03" fill="#6b6b6b" opacity="0.79"/><circle cx="85.4" cy="6.6" r="0.78" fill="#707070" opacity="0.53"/><circle cx="100.8" cy="29.9" r="0.93" fill="#717171" opacity="0.49"/><circle cx="11.8" cy="47.8" r="1.02" fill="#787878" opacity="0.85"/><circle cx="42.9" cy="54.8" r="0.71" fill="#808080" opacity="0.80"/><circle cx="20.2" cy="23.3" r="0.99" fill="#737373" opacity="0.50"/><circle cx="57.6" cy="28.6" r="0.51" fill="#858585" opacity="0.51"/><circle cx="51.0" cy="26.1" r="0.78" fill="#585858" opacity="0.73"/><circle cx="0.6" cy="24.0" r="0.78" fill="#777777" opacity="0.76"/><circle cx="62.0" cy="40.5" r="0.76" fill="#727272" opacity="0.79"/><circle cx="36.8" cy="59.0" r="1.09" fill="#808080" opacity="0.45"/><circle cx="5.5" cy="69.9" r="0.78" fill="#757575" opacity="0.76"/><circle cx="58.7" cy="72.1" r="0.75" fill="#747474" opacity="0.70"/><circle cx="45.6" cy="10.8" r="0.94" fill="#6f6f6f" opacity="0.84"/><circle cx="35.1" cy="33.4" r="0.82" fill="#838383" opacity="0.77"/><circle cx="18.3" cy="69.4" r="0.66" fill="#7c7c7c" opacity="0.77"/><circle cx="69.7" cy="68.0" r="0.45" fill="#818181" opacity="0.82"/><circle cx="18.5" cy="50.4" r="0.63" fill="#6b6b6b" opacity="0.80"/><circle cx="62.3" cy="40.3" r="0.93" fill="#5d5d5d" opacity="0.77"/><circle cx="83.3" cy="73.4" r="0.51" fill="#7d7d7d" opacity="0.84"/><circle cx="68.2" cy="76.4" r="0.45" fill="#5f5f5f" opacity="0.52"/><circle cx="49.4" cy="68.2" r="0.56" fill="#828282" opacity="0.57"/><circle cx="95.8" cy="31.3" r="0.82" fill="#777777" opacity="0.73"/><circle cx="32.0" cy="17.7" r="0.63" fill="#808080" opacity="0.66"/><circle cx="46.6" cy="61.8" r="0.75" fill="#6c6c6c" opacity="0.56"/><circle cx="42.5" cy="1.0" r="0.53" fill="#7a7a7a" opacity="0.63"/><circle cx="57.9" cy="63.6" r="0.68" fill="#707070" opacity="0.70"/><circle cx="16.1" cy="5.2" r="1.08" fill="#808080" opacity="0.82"/><circle cx="62.3" cy="24.0" r="0.46" fill="#686868" opacity="0.64"/><circle cx="66.0" cy="36.7" r="0.82" fill="#5c5c5c" opacity="0.51"/><circle cx="24.6" cy="23.0" r="1.06" fill="#626262" opacity="0.61"/><circle cx="60.0" cy="47.8" r="0.90" fill="#7a7a7a" opacity="0.55"/><circle cx="54.1" cy="12.1" r="0.47" fill="#5a5a5a" opacity="0.83"/><circle cx="8.5" cy="20.8" r="1.02" fill="#818181" opacity="0.57"/><circle cx="91.9" cy="54.1" r="0.91" fill="#818181" opacity="0.62"/><circle cx="13.4" cy="54.6" r="0.46" fill="#6f6f6f" opacity="0.73"/><circle cx="74.7" cy="42.5" r="0.75" fill="#616161" opacity="0.54"/><circle cx="30.8" cy="39.1" r="0.66" fill="#626262" opacity="0.80"/><circle cx="26.4" cy="30.1" r="0.88" fill="#717171" opacity="0.58"/><circle cx="39.9" cy="32.6" r="0.42" fill="#838383" opacity="0.46"/><circle cx="99.1" cy="11.7" r="0.51" fill="#7e7e7e" opacity="0.78"/><circle cx="23.9" cy="42.6" r="0.73" fill="#858585" opacity="0.66"/><circle cx="91.4" cy="34.8" r="0.91" fill="#838383" opacity="0.82"/><circle cx="39.2" cy="65.3" r="0.98" fill="#7d7d7d" opacity="0.53"/><circle cx="49.0" cy="69.5" r="0.65" fill="#818181" opacity="0.78"/><circle cx="42.7" cy="56.8" r="0.97" fill="#656565" opacity="0.55"/><circle cx="88.5" cy="51.0" r="0.62" fill="#767676" opacity="0.70"/><circle cx="35.0" cy="64.2" r="1.02" fill="#6c6c6c" opacity="0.80"/><circle cx="67.9" cy="53.8" r="0.82" fill="#797979" opacity="0.64"/><circle cx="98.6" cy="71.5" r="0.52" fill="#5a5a5a" opacity="0.65"/><circle cx="56.3" cy="46.0" r="0.57" fill="#646464" opacity="0.72"/><circle cx="34.7" cy="46.3" r="0.50" fill="#6b6b6b" opacity="0.50"/><circle cx="101.0" cy="63.7" r="0.76" fill="#585858" opacity="0.48"/><circle cx="23.3" cy="21.1" r="1.07" fill="#868686" opacity="0.84"/><circle cx="1.1" cy="53.7" r="0.55" fill="#676767" opacity="0.81"/><circle cx="77.2" cy="62.8" r="0.61" fill="#707070" opacity="0.70"/><circle cx="41.6" cy="13.3" r="0.75" fill="#5c5c5c" opacity="0.75"/><circle cx="89.0" cy="23.0" r="0.88" fill="#656565" opacity="0.73"/><circle cx="45.1" cy="13.5" r="0.41" fill="#737373" opacity="0.82"/><circle cx="28.5" cy="58.2" r="0.68" fill="#808080" opacity="0.82"/><circle cx="42.3" cy="57.8" r="0.55" fill="#696969" opacity="0.65"/><circle cx="3.1" cy="20.3" r="0.60" fill="#818181" opacity="0.50"/><circle cx="78.3" cy="6.7" r="1.09" fill="#626262" opacity="0.70"/><circle cx="72.3" cy="71.9" r="0.58" fill="#656565" opacity="0.81"/><circle cx="51.5" cy="8.8" r="0.64" fill="#757575" opacity="0.68"/><circle cx="21.0" cy="7.2" r="0.76" fill="#5e5e5e" opacity="0.50"/><circle cx="100.2" cy="22.8" r="0.80" fill="#828282" opacity="0.51"/><circle cx="77.0" cy="51.0" r="1.10" fill="#858585" opacity="0.75"/><circle cx="78.0" cy="61.7" r="0.87" fill="#686868" opacity="0.46"/><circle cx="33.5" cy="25.3" r="1.09" fill="#7e7e7e" opacity="0.79"/><circle cx="101.8" cy="12.5" r="0.93" fill="#5b5b5b" opacity="0.83"/><circle cx="98.2" cy="52.7" r="1.09" fill="#5b5b5b" opacity="0.72"/><circle cx="27.0" cy="70.9" r="0.87" fill="#777777" opacity="0.49"/><circle cx="20.6" cy="10.6" r="0.74" fill="#7a7a7a" opacity="0.65"/><circle cx="33.4" cy="33.1" r="0.68" fill="#5a5a5a" opacity="0.75"/><circle cx="3.9" cy="11.8" r="0.55" fill="#676767" opacity="0.60"/><circle cx="89.3" cy="72.3" r="0.87" fill="#707070" opacity="0.60"/><circle cx="73.1" cy="72.7" r="0.53" fill="#6e6e6e" opacity="0.52"/><circle cx="55.2" cy="1.6" r="0.48" fill="#6a6a6a" opacity="0.78"/><circle cx="75.5" cy="72.3" r="0.75" fill="#5a5a5a" opacity="0.83"/><circle cx="82.6" cy="61.8" r="0.51" fill="#707070" opacity="0.70"/><circle cx="36.2" cy="0.5" r="0.89" fill="#747474" opacity="0.46"/><circle cx="80.9" cy="56.4" r="0.69" fill="#5f5f5f" opacity="0.58"/><circle cx="61.7" cy="4.2" r="0.45" fill="#626262" opacity="0.84"/><circle cx="54.4" cy="13.9" r="0.83" fill="#7e7e7e" opacity="0.58"/><circle cx="2.0" cy="50.9" r="0.67" fill="#666666" opacity="0.77"/><circle cx="14.3" cy="3.3" r="0.53" fill="#6a6a6a" opacity="0.54"/><circle cx="76.4" cy="41.7" r="0.66" fill="#868686" opacity="0.59"/><circle cx="69.7" cy="41.9" r="1.07" fill="#6e6e6e" opacity="0.55"/><circle cx="34.6" cy="41.4" r="0.78" fill="#6f6f6f" opacity="0.68"/><circle cx="88.1" cy="38.1" r="0.98" fill="#5c5c5c" opacity="0.80"/><circle cx="61.5" cy="76.1" r="0.50" fill="#858585" opacity="0.51"/><circle cx="86.5" cy="41.5" r="0.64" fill="#5d5d5d" opacity="0.73"/><circle cx="4.9" cy="64.4" r="0.50" fill="#636363" opacity="0.56"/><circle cx="5.9" cy="36.6" r="1.01" fill="#656565" opacity="0.71"/><circle cx="78.5" cy="40.8" r="0.93" fill="#5b5b5b" opacity="0.81"/><circle cx="29.7" cy="32.1" r="0.40" fill="#797979" opacity="0.69"/><circle cx="94.7" cy="27.7" r="0.54" fill="#838383" opacity="0.48"/><circle cx="43.8" cy="70.3" r="0.60" fill="#838383" opacity="0.83"/><circle cx="84.5" cy="15.5" r="1.04" fill="#5d5d5d" opacity="0.85"/><circle cx="1.1" cy="0.3" r="0.60" fill="#797979" opacity="0.66"/><circle cx="6.7" cy="40.3" r="0.64" fill="#626262" opacity="0.70"/><circle cx="52.7" cy="42.3" r="0.88" fill="#5c5c5c" opacity="0.51"/><circle cx="99.5" cy="68.7" r="1.08" fill="#797979" opacity="0.58"/><circle cx="35.0" cy="21.3" r="0.81" fill="#5f5f5f" opacity="0.68"/><circle cx="64.3" cy="46.3" r="0.40" fill="#5a5a5a" opacity="0.76"/><circle cx="56.3" cy="32.7" r="0.61" fill="#6e6e6e" opacity="0.84"/><circle cx="15.7" cy="27.9" r="0.72" fill="#7f7f7f" opacity="0.63"/><circle cx="101.2" cy="76.9" r="0.81" fill="#595959" opacity="0.68"/><circle cx="58.8" cy="14.9" r="1.07" fill="#838383" opacity="0.68"/><circle cx="61.7" cy="53.7" r="1.06" fill="#626262" opacity="0.57"/><circle cx="32.6" cy="23.1" r="0.62" fill="#656565" opacity="0.66"/><circle cx="63.7" cy="20.7" r="1.00" fill="#626262" opacity="0.58"/><circle cx="89.1" cy="61.4" r="0.63" fill="#646464" opacity="0.52"/><circle cx="9.9" cy="76.6" r="0.42" fill="#585858" opacity="0.47"/><circle cx="97.3" cy="67.5" r="0.88" fill="#636363" opacity="0.54"/><circle cx="25.3" cy="74.5" r="0.68" fill="#676767" opacity="0.70"/><circle cx="97.9" cy="33.3" r="0.76" fill="#6d6d6d" opacity="0.77"/><circle cx="9.9" cy="4.3" r="0.40" fill="#626262" opacity="0.62"/><circle cx="76.1" cy="42.9" r="1.08" fill="#6d6d6d" opacity="0.65"/><circle cx="90.6" cy="10.2" r="0.64" fill="#5e5e5e" opacity="0.75"/><circle cx="59.1" cy="37.7" r="1.06" fill="#737373" opacity="0.67"/><circle cx="9.4" cy="12.1" r="0.71" fill="#797979" opacity="0.53"/><circle cx="2.8" cy="22.0" r="0.49" fill="#757575" opacity="0.63"/><circle cx="36.1" cy="69.4" r="0.68" fill="#717171" opacity="0.72"/><circle cx="91.8" cy="30.5" r="1.04" fill="#5e5e5e" opacity="0.77"/><circle cx="35.2" cy="28.9" r="0.76" fill="#5c5c5c" opacity="0.73"/><circle cx="44.9" cy="55.2" r="1.01" fill="#7c7c7c" opacity="0.79"/><circle cx="16.9" cy="32.9" r="0.49" fill="#7a7a7a" opacity="0.46"/><circle cx="90.6" cy="48.5" r="0.87" fill="#676767" opacity="0.70"/><circle cx="80.0" cy="17.8" r="0.76" fill="#737373" opacity="0.63"/><circle cx="54.9" cy="51.3" r="0.75" fill="#585858" opacity="0.79"/><circle cx="44.5" cy="27.5" r="1.02" fill="#878787" opacity="0.56"/><circle cx="14.6" cy="27.7" r="0.59" fill="#858585" opacity="0.83"/><circle cx="94.5" cy="75.1" r="0.74" fill="#7e7e7e" opacity="0.77"/><circle cx="100.1" cy="71.5" r="0.92" fill="#6e6e6e" opacity="0.70"/><circle cx="84.6" cy="72.8" r="1.08" fill="#5a5a5a" opacity="0.75"/><circle cx="69.0" cy="19.6" r="0.84" fill="#636363" opacity="0.80"/><circle cx="55.3" cy="65.1" r="0.72" fill="#838383" opacity="0.80"/><circle cx="31.5" cy="3.5" r="0.97" fill="#6d6d6d" opacity="0.51"/><circle cx="84.3" cy="64.6" r="0.80" fill="#696969" opacity="0.77"/><circle cx="68.9" cy="2.7" r="0.48" fill="#878787" opacity="0.71"/><circle cx="23.2" cy="61.5" r="0.44" fill="#7f7f7f" opacity="0.52"/><circle cx="20.3" cy="65.7" r="0.76" fill="#646464" opacity="0.54"/><circle cx="1.4" cy="37.2" r="0.64" fill="#7c7c7c" opacity="0.61"/><circle cx="13.6" cy="58.1" r="1.04" fill="#828282" opacity="0.70"/><circle cx="12.2" cy="19.3" r="0.47" fill="#6d6d6d" opacity="0.81"/><circle cx="5.8" cy="60.0" r="0.45" fill="#858585" opacity="0.55"/><circle cx="50.5" cy="29.8" r="0.45" fill="#888888" opacity="0.71"/><circle cx="90.0" cy="65.1" r="2.16" fill="#9c9c9c" opacity="0.60"/><circle cx="44.2" cy="63.0" r="2.47" fill="#868686" opacity="0.41"/><circle cx="3.6" cy="48.5" r="1.85" fill="#9e9e9e" opacity="0.65"/><circle cx="37.8" cy="43.5" r="1.40" fill="#909090" opacity="0.44"/><circle cx="0.8" cy="30.7" r="1.90" fill="#929292" opacity="0.62"/><circle cx="72.7" cy="9.2" r="1.82" fill="#8c8c8c" opacity="0.68"/><circle cx="99.3" cy="53.3" r="1.62" fill="#888888" opacity="0.58"/><circle cx="63.3" cy="14.6" r="2.42" fill="#848484" opacity="0.63"/><circle cx="3.2" cy="38.9" r="2.08" fill="#808080" opacity="0.45"/><circle cx="85.4" cy="59.2" r="1.30" fill="#909090" opacity="0.55"/><circle cx="27.8" cy="70.2" r="1.01" fill="#999999" opacity="0.48"/><circle cx="83.5" cy="56.7" r="1.96" fill="#959595" opacity="0.68"/><circle cx="77.2" cy="65.4" r="1.79" fill="#8f8f8f" opacity="0.41"/><circle cx="78.9" cy="25.7" r="1.05" fill="#8d8d8d" opacity="0.42"/><circle cx="55.6" cy="72.5" r="1.52" fill="#8a8a8a" opacity="0.64"/><circle cx="59.7" cy="33.1" r="2.19" fill="#979797" opacity="0.46"/><circle cx="94.3" cy="53.2" r="2.21" fill="#9d9d9d" opacity="0.52"/><circle cx="26.8" cy="8.6" r="2.05" fill="#9c9c9c" opacity="0.67"/><circle cx="94.9" cy="38.8" r="1.78" fill="#9d9d9d" opacity="0.38"/><circle cx="38.7" cy="42.0" r="1.96" fill="#808080" opacity="0.41"/><circle cx="52.4" cy="13.5" r="1.61" fill="#8b8b8b" opacity="0.36"/><circle cx="22.7" cy="18.7" r="1.85" fill="#8c8c8c" opacity="0.51"/><circle cx="69.1" cy="23.2" r="1.44" fill="#9b9b9b" opacity="0.42"/><circle cx="66.7" cy="56.7" r="1.92" fill="#8c8c8c" opacity="0.61"/><circle cx="86.4" cy="40.9" r="1.53" fill="#838383" opacity="0.39"/><circle cx="5.3" cy="56.2" r="1.67" fill="#979797" opacity="0.44"/><circle cx="45.2" cy="30.7" r="1.04" fill="#888888" opacity="0.40"/><circle cx="42.0" cy="19.3" r="1.27" fill="#9c9c9c" opacity="0.54"/><circle cx="37.9" cy="43.4" r="2.27" fill="#8b8b8b" opacity="0.40"/><circle cx="64.3" cy="39.6" r="2.23" fill="#848484" opacity="0.52"/><circle cx="73.1" cy="43.1" r="2.45" fill="#919191" opacity="0.57"/><circle cx="20.7" cy="59.0" r="1.69" fill="#919191" opacity="0.52"/><circle cx="101.3" cy="71.2" r="1.05" fill="#888888" opacity="0.67"/><circle cx="100.0" cy="63.8" r="1.44" fill="#9c9c9c" opacity="0.67"/><circle cx="84.7" cy="67.6" r="2.01" fill="#909090" opacity="0.54"/><circle cx="92.2" cy="69.6" r="1.70" fill="#818181" opacity="0.66"/><circle cx="26.1" cy="20.1" r="1.55" fill="#8b8b8b" opacity="0.50"/><circle cx="27.4" cy="7.8" r="1.92" fill="#868686" opacity="0.52"/><circle cx="62.0" cy="31.5" r="2.17" fill="#989898" opacity="0.50"/><circle cx="48.3" cy="48.5" r="1.92" fill="#8a8a8a" opacity="0.59"/><circle cx="49.2" cy="13.4" r="2.35" fill="#919191" opacity="0.59"/><circle cx="7.3" cy="52.9" r="1.96" fill="#8c8c8c" opacity="0.45"/><circle cx="68.7" cy="53.3" r="2.45" fill="#989898" opacity="0.44"/><circle cx="48.3" cy="40.3" r="1.10" fill="#9d9d9d" opacity="0.48"/><circle cx="87.4" cy="26.7" r="1.35" fill="#979797" opacity="0.56"/><circle cx="102.2" cy="72.6" r="1.67" fill="#9c9c9c" opacity="0.45"/><circle cx="43.0" cy="13.1" r="2.14" fill="#8e8e8e" opacity="0.65"/><circle cx="92.1" cy="60.9" r="2.20" fill="#909090" opacity="0.50"/><circle cx="22.1" cy="36.9" r="2.03" fill="#8a8a8a" opacity="0.37"/><circle cx="99.3" cy="1.3" r="1.51" fill="#959595" opacity="0.48"/><circle cx="97.3" cy="6.0" r="1.82" fill="#9d9d9d" opacity="0.48"/><circle cx="74.3" cy="57.6" r="1.14" fill="#a0a0a0" opacity="0.54"/><circle cx="57.4" cy="35.9" r="1.70" fill="#9f9f9f" opacity="0.41"/><circle cx="77.1" cy="24.6" r="2.39" fill="#888888" opacity="0.64"/><circle cx="99.2" cy="35.7" r="2.28" fill="#8a8a8a" opacity="0.68"/><circle cx="23.3" cy="76.7" r="1.70" fill="#9a9a9a" opacity="0.40"/><circle cx="3.1" cy="12.3" r="1.87" fill="#8f8f8f" opacity="0.56"/><circle cx="34.6" cy="38.8" r="1.36" fill="#949494" opacity="0.59"/><circle cx="95.2" cy="63.4" r="2.37" fill="#828282" opacity="0.47"/><circle cx="102.9" cy="13.1" r="1.16" fill="#929292" opacity="0.61"/><circle cx="21.1" cy="13.2" r="1.4" fill="#fff" fill-opacity="0.12" stroke="#555" stroke-width="0.8" opacity="0.54"/><circle cx="84.9" cy="7.1" r="1.5" fill="#fff" fill-opacity="0.12" stroke="#555" stroke-width="0.8" opacity="0.33"/><circle cx="102.2" cy="5.5" r="2.6" fill="#fff" fill-opacity="0.12" stroke="#555" stroke-width="0.8" opacity="0.59"/><circle cx="17.6" cy="52.6" r="2.0" fill="#fff" fill-opacity="0.12" stroke="#555" stroke-width="0.8" opacity="0.50"/><circle cx="48.3" cy="11.5" r="3.4" fill="#fff" fill-opacity="0.12" stroke="#555" stroke-width="0.8" opacity="0.46"/><circle cx="101.3" cy="45.8" r="3.5" fill="#fff" fill-opacity="0.12" stroke="#555" stroke-width="0.8" opacity="0.51"/><circle cx="6.0" cy="0.4" r="3.6" fill="#fff" fill-opacity="0.12" stroke="#555" stroke-width="0.8" opacity="0.51"/><circle cx="81.7" cy="64.5" r="2.1" fill="#fff" fill-opacity="0.12" stroke="#555" stroke-width="0.8" opacity="0.53"/><circle cx="66.8" cy="4.6" r="2.5" fill="#fff" fill-opacity="0.12" stroke="#555" stroke-width="0.8" opacity="0.61"/><circle cx="57.4" cy="60.6" r="1.4" fill="#fff" fill-opacity="0.12" stroke="#555" stroke-width="0.8" opacity="0.43"/><circle cx="52.2" cy="42.7" r="3.2" fill="#fff" fill-opacity="0.12" stroke="#555" stroke-width="0.8" opacity="0.45"/><circle cx="58.4" cy="39.9" r="2.8" fill="#fff" fill-opacity="0.12" stroke="#555" stroke-width="0.8" opacity="0.48"/><circle cx="40.8" cy="22.0" r="3.3" fill="#fff" fill-opacity="0.12" stroke="#555" stroke-width="0.8" opacity="0.40"/><circle cx="73.6" cy="20.9" r="3.6" fill="#fff" fill-opacity="0.12" stroke="#555" stroke-width="0.8" opacity="0.36"/><circle cx="43.3" cy="28.4" r="3.3" fill="#fff" fill-opacity="0.12" stroke="#555" stroke-width="0.8" opacity="0.54"/><circle cx="27.1" cy="18.8" r="3.0" fill="#fff" fill-opacity="0.12" stroke="#555" stroke-width="0.8" opacity="0.44"/><circle cx="18.6" cy="9.0" r="2.9" fill="#fff" fill-opacity="0.12" stroke="#555" stroke-width="0.8" opacity="0.51"/><circle cx="83.2" cy="5.9" r="2.4" fill="#fff" fill-opacity="0.12" stroke="#555" stroke-width="0.8" opacity="0.33"/><circle cx="58.8" cy="17.7" r="1.8" fill="#fff" fill-opacity="0.12" stroke="#555" stroke-width="0.8" opacity="0.48"/><circle cx="16.9" cy="61.2" r="1.6" fill="#fff" fill-opacity="0.12" stroke="#555" stroke-width="0.8" opacity="0.37"/><circle cx="77.9" cy="20.3" r="1.9" fill="#fff" fill-opacity="0.12" stroke="#555" stroke-width="0.8" opacity="0.55"/><circle cx="58.1" cy="62.4" r="3.3" fill="#fff" fill-opacity="0.12" stroke="#555" stroke-width="0.8" opacity="0.62"/><circle cx="8.9" cy="30.2" r="2.3" fill="#fff" fill-opacity="0.12" stroke="#555" stroke-width="0.8" opacity="0.38"/><circle cx="89.5" cy="30.4" r="3.4" fill="#fff" fill-opacity="0.12" stroke="#555" stroke-width="0.8" opacity="0.30"/><circle cx="45.8" cy="48.4" r="3.1" fill="#fff" fill-opacity="0.12" stroke="#555" stroke-width="0.8" opacity="0.45"/><circle cx="92.8" cy="22.9" r="2.1" fill="#fff" fill-opacity="0.12" stroke="#555" stroke-width="0.8" opacity="0.35"/><circle cx="19.5" cy="37.4" r="3.0" fill="#fff" fill-opacity="0.12" stroke="#555" stroke-width="0.8" opacity="0.35"/><circle cx="50.4" cy="33.3" r="3.6" fill="#fff" fill-opacity="0.12" stroke="#555" stroke-width="0.8" opacity="0.45"/><circle cx="83.5" cy="18.1" r="3.3" fill="#fff" fill-opacity="0.12" stroke="#555" stroke-width="0.8" opacity="0.29"/><circle cx="15.6" cy="48.9" r="2.5" fill="#fff" fill-opacity="0.12" stroke="#555" stroke-width="0.8" opacity="0.46"/><circle cx="64.2" cy="26.8" r="2.8" fill="#fff" fill-opacity="0.12" stroke="#555" stroke-width="0.8" opacity="0.42"/><circle cx="60.4" cy="55.0" r="1.9" fill="#fff" fill-opacity="0.12" stroke="#555" stroke-width="0.8" opacity="0.55"/><circle cx="85.1" cy="76.1" r="1.4" fill="#fff" fill-opacity="0.12" stroke="#555" stroke-width="0.8" opacity="0.43"/><circle cx="16.9" cy="12.9" r="2.3" fill="#fff" fill-opacity="0.12" stroke="#555" stroke-width="0.8" opacity="0.55"/><circle cx="12.9" cy="61.2" r="3.2" fill="#fff" fill-opacity="0.12" stroke="#555" stroke-width="0.8" opacity="0.62"/><circle cx="78.1" cy="16.1" r="2.9" fill="#fff" fill-opacity="0.12" stroke="#555" stroke-width="0.8" opacity="0.48"/><circle cx="28.2" cy="60.9" r="2.0" fill="#fff" fill-opacity="0.12" stroke="#555" stroke-width="0.8" opacity="0.57"/><circle cx="90.9" cy="30.6" r="1.5" fill="#fff" fill-opacity="0.12" stroke="#555" stroke-width="0.8" opacity="0.57"/><circle cx="16.2" cy="9.3" r="3.3" fill="#fff" fill-opacity="0.12" stroke="#555" stroke-width="0.8" opacity="0.36"/><circle cx="26.9" cy="30.2" r="2.9" fill="#fff" fill-opacity="0.12" stroke="#555" stroke-width="0.8" opacity="0.35"/><circle cx="32.6" cy="5.2" r="1.8" fill="#fff" fill-opacity="0.12" stroke="#555" stroke-width="0.8" opacity="0.54"/><circle cx="65.9" cy="46.2" r="3.4" fill="#fff" fill-opacity="0.12" stroke="#555" stroke-width="0.8" opacity="0.29"/></g>
<rect width="103.2" height="77" filter="url(#grain)" opacity="0.12"/>
<g filter="url(#bl05)"><ellipse cx="88.6" cy="14.7" rx="9.2" ry="8.9" fill="#5e5e5e" stroke="#2a2a2a" stroke-width="2.4"/><circle cx="84.5" cy="14.6" r="1.3" fill="#222" opacity="0.34"/><circle cx="89.5" cy="8.4" r="1.1" fill="#222" opacity="0.47"/><circle cx="89.3" cy="11.9" r="0.9" fill="#222" opacity="0.38"/><circle cx="87.2" cy="17.1" r="1.3" fill="#222" opacity="0.46"/><circle cx="86.7" cy="18.5" r="0.9" fill="#222" opacity="0.48"/><circle cx="87.6" cy="19.7" r="1.1" fill="#222" opacity="0.50"/><circle cx="87.1" cy="9.7" r="1.2" fill="#222" opacity="0.28"/><circle cx="92.8" cy="10.0" r="1.4" fill="#222" opacity="0.42"/><circle cx="91.8" cy="17.5" r="1.1" fill="#222" opacity="0.30"/><circle cx="92.9" cy="10.5" r="0.8" fill="#222" opacity="0.32"/><circle cx="86.1" cy="12.4" r="0.7" fill="#222" opacity="0.26"/><circle cx="91.4" cy="13.1" r="0.6" fill="#222" opacity="0.36"/><circle cx="88.2" cy="9.0" r="1.1" fill="#222" opacity="0.41"/><circle cx="88.1" cy="11.0" r="1.0" fill="#222" opacity="0.26"/><circle cx="85.3" cy="21.2" r="1.1" fill="#222" opacity="0.42"/><circle cx="82.1" cy="11.2" r="0.8" fill="#222" opacity="0.44"/><circle cx="86.7" cy="16.4" r="0.5" fill="#222" opacity="0.27"/><circle cx="87.1" cy="8.0" r="1.0" fill="#222" opacity="0.31"/><circle cx="90.2" cy="11.0" r="0.8" fill="#222" opacity="0.44"/><circle cx="84.2" cy="18.1" r="0.6" fill="#222" opacity="0.37"/><circle cx="94.2" cy="13.0" r="1.2" fill="#222" opacity="0.40"/><circle cx="88.5" cy="12.9" r="1.2" fill="#222" opacity="0.42"/><circle cx="90.7" cy="13.2" r="0.6" fill="#222" opacity="0.38"/><circle cx="88.3" cy="12.0" r="1.4" fill="#222" opacity="0.39"/><circle cx="94.2" cy="11.4" r="1.3" fill="#222" opacity="0.46"/><circle cx="83.4" cy="18.3" r="0.7" fill="#222" opacity="0.26"/><circle cx="84.4" cy="14.2" r="0.6" fill="#222" opacity="0.40"/><circle cx="88.7" cy="11.3" r="0.8" fill="#222" opacity="0.45"/></g>
<g filter="url(#bl05)"><ellipse cx="88.6" cy="14.7" rx="4.5" ry="4.2" fill="#7a7a7a" stroke="#444" stroke-width="1"/><circle cx="90.3" cy="14.0" r="1.2" fill="#333" opacity="0.42"/><circle cx="87.5" cy="11.8" r="0.5" fill="#333" opacity="0.36"/><circle cx="85.9" cy="13.9" r="1.3" fill="#333" opacity="0.43"/><circle cx="86.2" cy="13.7" r="0.8" fill="#333" opacity="0.34"/><circle cx="86.9" cy="14.4" r="1.0" fill="#333" opacity="0.37"/><circle cx="88.6" cy="15.9" r="0.9" fill="#333" opacity="0.34"/></g>
<g filter="url(#bl05)"><ellipse cx="93.2" cy="30.2" rx="4.8" ry="4.4" fill="#7e7e7e" stroke="#3a3a3a" stroke-width="1.5"/><circle cx="95.7" cy="30.3" r="0.7" fill="#333" opacity="0.36"/><circle cx="96.7" cy="31.7" r="1.1" fill="#333" opacity="0.35"/><circle cx="91.0" cy="29.7" r="0.8" fill="#333" opacity="0.31"/><circle cx="91.5" cy="33.4" r="0.8" fill="#333" opacity="0.32"/><circle cx="93.8" cy="26.8" r="0.8" fill="#333" opacity="0.26"/><circle cx="91.8" cy="30.6" r="0.8" fill="#333" opacity="0.36"/><circle cx="92.8" cy="31.9" r="0.6" fill="#333" opacity="0.45"/></g>
<g filter="url(#bl05)"><ellipse cx="56.1" cy="62.7" rx="9.6" ry="9.3" fill="#4a4a4a" stroke="#222" stroke-width="2"/><circle cx="60.9" cy="67.1" r="0.8" fill="#222" opacity="0.43"/><circle cx="59.7" cy="61.3" r="0.9" fill="#222" opacity="0.27"/><circle cx="57.3" cy="60.8" r="1.3" fill="#222" opacity="0.38"/><circle cx="50.6" cy="66.0" r="0.7" fill="#222" opacity="0.40"/><circle cx="59.2" cy="64.2" r="0.8" fill="#222" opacity="0.42"/><circle cx="58.8" cy="65.8" r="1.0" fill="#222" opacity="0.26"/><circle cx="57.9" cy="57.8" r="0.6" fill="#222" opacity="0.46"/><circle cx="62.9" cy="63.3" r="0.6" fill="#222" opacity="0.32"/><circle cx="59.0" cy="67.7" r="0.7" fill="#222" opacity="0.35"/><circle cx="51.3" cy="63.0" r="0.9" fill="#222" opacity="0.44"/><circle cx="54.9" cy="70.3" r="0.7" fill="#222" opacity="0.28"/><circle cx="51.2" cy="57.5" r="0.7" fill="#222" opacity="0.30"/><circle cx="59.5" cy="64.5" r="1.0" fill="#222" opacity="0.36"/><circle cx="62.9" cy="59.9" r="0.8" fill="#222" opacity="0.42"/><circle cx="58.2" cy="65.4" r="0.7" fill="#222" opacity="0.30"/><circle cx="52.6" cy="60.8" r="0.7" fill="#222" opacity="0.28"/><circle cx="59.3" cy="65.3" r="0.6" fill="#222" opacity="0.34"/><circle cx="62.1" cy="65.2" r="0.9" fill="#222" opacity="0.42"/><circle cx="58.3" cy="64.1" r="1.2" fill="#222" opacity="0.50"/><circle cx="57.3" cy="55.6" r="0.9" fill="#222" opacity="0.41"/><circle cx="62.1" cy="60.1" r="1.2" fill="#222" opacity="0.36"/><circle cx="56.1" cy="69.8" r="1.0" fill="#222" opacity="0.32"/><circle cx="58.4" cy="69.4" r="0.8" fill="#222" opacity="0.40"/><circle cx="61.8" cy="61.8" r="1.1" fill="#222" opacity="0.40"/><circle cx="51.7" cy="68.5" r="1.4" fill="#222" opacity="0.29"/><circle cx="55.8" cy="64.2" r="0.6" fill="#222" opacity="0.45"/><circle cx="58.4" cy="68.0" r="1.4" fill="#222" opacity="0.31"/><circle cx="48.9" cy="59.6" r="0.8" fill="#222" opacity="0.39"/><circle cx="63.5" cy="63.9" r="0.9" fill="#222" opacity="0.45"/><circle cx="59.7" cy="55.8" r="1.1" fill="#222" opacity="0.46"/><circle cx="56.8" cy="69.2" r="1.4" fill="#222" opacity="0.48"/></g>
<g filter="url(#bl1)"><ellipse cx="39.8" cy="43.3" rx="6.5" ry="6" fill="#3a3a3a" stroke="#333" stroke-width="1"/><circle cx="41.0" cy="46.7" r="0.5" fill="#111" opacity="0.40"/><circle cx="43.9" cy="40.1" r="1.2" fill="#111" opacity="0.28"/><circle cx="40.1" cy="45.5" r="1.1" fill="#111" opacity="0.33"/><circle cx="44.5" cy="43.6" r="0.6" fill="#111" opacity="0.49"/><circle cx="40.1" cy="43.6" r="1.1" fill="#111" opacity="0.48"/><circle cx="38.2" cy="42.7" r="1.1" fill="#111" opacity="0.28"/><circle cx="37.9" cy="42.3" r="0.9" fill="#111" opacity="0.35"/><circle cx="37.5" cy="38.7" r="1.1" fill="#111" opacity="0.28"/><circle cx="43.8" cy="42.2" r="1.1" fill="#111" opacity="0.38"/><circle cx="38.9" cy="38.8" r="0.8" fill="#111" opacity="0.32"/><circle cx="37.1" cy="42.8" r="1.2" fill="#111" opacity="0.46"/><circle cx="40.0" cy="46.7" r="0.9" fill="#111" opacity="0.33"/><circle cx="41.7" cy="46.2" r="0.9" fill="#111" opacity="0.34"/></g>
<g filter="url(#bl1)"><ellipse cx="24.3" cy="58.8" rx="7" ry="6.5" fill="#353535" stroke="#333" stroke-width="1"/><circle cx="21.1" cy="57.1" r="1.0" fill="#111" opacity="0.27"/><circle cx="21.1" cy="63.0" r="0.5" fill="#111" opacity="0.37"/><circle cx="27.3" cy="62.3" r="1.1" fill="#111" opacity="0.32"/><circle cx="25.8" cy="57.4" r="1.2" fill="#111" opacity="0.38"/><circle cx="24.3" cy="53.5" r="1.2" fill="#111" opacity="0.45"/><circle cx="23.0" cy="64.1" r="0.9" fill="#111" opacity="0.43"/><circle cx="25.9" cy="56.9" r="1.1" fill="#111" opacity="0.45"/><circle cx="22.2" cy="60.5" r="1.1" fill="#111" opacity="0.37"/><circle cx="21.9" cy="61.7" r="0.6" fill="#111" opacity="0.34"/><circle cx="21.4" cy="58.7" r="0.8" fill="#111" opacity="0.29"/><circle cx="25.4" cy="62.7" r="0.7" fill="#111" opacity="0.26"/><circle cx="23.0" cy="61.2" r="1.0" fill="#111" opacity="0.32"/><circle cx="21.8" cy="61.2" r="0.6" fill="#111" opacity="0.41"/><circle cx="26.0" cy="61.6" r="0.7" fill="#111" opacity="0.32"/><circle cx="20.6" cy="61.2" r="1.3" fill="#111" opacity="0.49"/></g>
<g filter="url(#bl1)"><ellipse cx="32" cy="52" rx="4.5" ry="4" fill="#444" stroke="#333" stroke-width="1"/><circle cx="32.5" cy="48.6" r="1.3" fill="#333" opacity="0.49"/><circle cx="32.0" cy="52.6" r="0.9" fill="#333" opacity="0.38"/><circle cx="34.2" cy="49.3" r="1.3" fill="#333" opacity="0.47"/><circle cx="28.8" cy="50.9" r="0.8" fill="#333" opacity="0.29"/><circle cx="35.3" cy="52.0" r="0.9" fill="#333" opacity="0.43"/><circle cx="30.3" cy="50.0" r="1.3" fill="#333" opacity="0.45"/></g>
<g filter="url(#bl05)"><ellipse cx="15.8" cy="47.2" rx="4.5" ry="4.5" fill="#7a7a7a" stroke="#3a3a3a" stroke-width="1.4"/><circle cx="13.5" cy="47.0" r="0.8" fill="#333" opacity="0.38"/><circle cx="14.1" cy="47.8" r="0.5" fill="#333" opacity="0.30"/><circle cx="19.0" cy="45.3" r="1.1" fill="#333" opacity="0.32"/><circle cx="12.5" cy="46.2" r="1.2" fill="#333" opacity="0.26"/><circle cx="19.2" cy="47.0" r="1.0" fill="#333" opacity="0.47"/><circle cx="17.2" cy="47.7" r="1.1" fill="#333" opacity="0.34"/><circle cx="13.6" cy="44.9" r="1.3" fill="#333" opacity="0.30"/></g>
<rect width="103.2" height="77" fill="url(#vig)"/>
</svg>
<rect x="45.2" y="638.3" width="103.2" height="77" fill="none" stroke="#444" stroke-width="1"/>
<svg x="152.9" y="638.3" width="103.2" height="77" viewBox="0 0 103.2 77" overflow="hidden">
<rect width="103.2" height="77" fill="#d0d0d0"/>
<rect width="103.2" height="77" filter="url(#mott)" opacity="0.22"/>
<g filter="url(#bl05)"><circle cx="64.3" cy="57.1" r="0.96" fill="#878787" opacity="0.71"/><circle cx="54.7" cy="64.7" r="0.94" fill="#676767" opacity="0.71"/><circle cx="93.0" cy="8.7" r="0.73" fill="#676767" opacity="0.60"/><circle cx="10.5" cy="19.2" r="0.91" fill="#727272" opacity="0.56"/><circle cx="94.6" cy="59.0" r="0.51" fill="#5c5c5c" opacity="0.51"/><circle cx="63.7" cy="9.8" r="0.40" fill="#585858" opacity="0.53"/><circle cx="22.2" cy="75.6" r="1.01" fill="#6a6a6a" opacity="0.58"/><circle cx="20.5" cy="67.5" r="0.84" fill="#636363" opacity="0.83"/><circle cx="71.3" cy="74.4" r="1.03" fill="#6b6b6b" opacity="0.46"/><circle cx="42.8" cy="72.1" r="0.58" fill="#6d6d6d" opacity="0.57"/><circle cx="62.2" cy="0.3" r="0.87" fill="#6d6d6d" opacity="0.48"/><circle cx="36.7" cy="23.6" r="0.89" fill="#636363" opacity="0.64"/><circle cx="72.7" cy="4.4" r="1.08" fill="#595959" opacity="0.83"/><circle cx="36.9" cy="31.1" r="0.78" fill="#727272" opacity="0.60"/><circle cx="59.7" cy="0.7" r="0.43" fill="#636363" opacity="0.70"/><circle cx="98.5" cy="9.2" r="0.57" fill="#757575" opacity="0.59"/><circle cx="36.6" cy="40.4" r="0.94" fill="#5e5e5e" opacity="0.69"/><circle cx="80.6" cy="28.3" r="0.61" fill="#737373" opacity="0.83"/><circle cx="9.4" cy="26.2" r="0.83" fill="#616161" opacity="0.59"/><circle cx="95.4" cy="42.0" r="0.62" fill="#6c6c6c" opacity="0.57"/><circle cx="82.4" cy="48.3" r="0.90" fill="#6b6b6b" opacity="0.85"/><circle cx="16.7" cy="3.7" r="1.09" fill="#7a7a7a" opacity="0.82"/><circle cx="3.3" cy="57.0" r="0.64" fill="#686868" opacity="0.63"/><circle cx="43.5" cy="4.3" r="1.04" fill="#5a5a5a" opacity="0.77"/><circle cx="34.5" cy="15.9" r="1.09" fill="#7c7c7c" opacity="0.83"/><circle cx="65.1" cy="60.7" r="0.47" fill="#737373" opacity="0.60"/><circle cx="6.1" cy="32.4" r="0.50" fill="#7f7f7f" opacity="0.79"/><circle cx="100.7" cy="34.9" r="0.74" fill="#868686" opacity="0.58"/><circle cx="28.3" cy="36.2" r="1.03" fill="#5f5f5f" opacity="0.60"/><circle cx="102.0" cy="73.9" r="0.84" fill="#777777" opacity="0.80"/><circle cx="18.6" cy="37.9" r="0.76" fill="#7b7b7b" opacity="0.80"/><circle cx="37.3" cy="60.5" r="0.94" fill="#848484" opacity="0.68"/><circle cx="3.5" cy="23.5" r="0.79" fill="#828282" opacity="0.56"/><circle cx="50.1" cy="59.3" r="0.88" fill="#6a6a6a" opacity="0.83"/><circle cx="35.1" cy="13.8" r="1.00" fill="#767676" opacity="0.67"/><circle cx="25.9" cy="51.7" r="0.72" fill="#787878" opacity="0.71"/><circle cx="82.3" cy="26.8" r="0.85" fill="#878787" opacity="0.83"/><circle cx="42.2" cy="71.0" r="0.52" fill="#848484" opacity="0.63"/><circle cx="37.6" cy="25.7" r="0.50" fill="#626262" opacity="0.53"/><circle cx="37.4" cy="65.7" r="0.60" fill="#5d5d5d" opacity="0.74"/><circle cx="75.4" cy="13.2" r="0.95" fill="#7d7d7d" opacity="0.66"/><circle cx="96.6" cy="23.3" r="0.79" fill="#808080" opacity="0.56"/><circle cx="102.8" cy="15.1" r="0.81" fill="#7f7f7f" opacity="0.71"/><circle cx="22.6" cy="52.8" r="0.84" fill="#5a5a5a" opacity="0.84"/><circle cx="101.1" cy="12.8" r="1.02" fill="#5f5f5f" opacity="0.58"/><circle cx="18.7" cy="14.9" r="0.42" fill="#757575" opacity="0.59"/><circle cx="68.4" cy="5.5" r="0.54" fill="#858585" opacity="0.81"/><circle cx="0.1" cy="31.2" r="0.59" fill="#727272" opacity="0.80"/><circle cx="71.1" cy="42.1" r="1.08" fill="#7b7b7b" opacity="0.70"/><circle cx="9.8" cy="42.0" r="0.64" fill="#7d7d7d" opacity="0.57"/><circle cx="36.3" cy="9.9" r="0.69" fill="#7c7c7c" opacity="0.71"/><circle cx="38.1" cy="10.9" r="0.82" fill="#7c7c7c" opacity="0.64"/><circle cx="20.6" cy="10.2" r="0.46" fill="#828282" opacity="0.45"/><circle cx="11.1" cy="43.6" r="0.83" fill="#616161" opacity="0.58"/><circle cx="90.5" cy="43.5" r="0.70" fill="#666666" opacity="0.65"/><circle cx="49.5" cy="54.5" r="0.67" fill="#626262" opacity="0.69"/><circle cx="26.8" cy="75.5" r="0.75" fill="#727272" opacity="0.46"/><circle cx="97.5" cy="23.7" r="1.05" fill="#616161" opacity="0.64"/><circle cx="12.6" cy="47.9" r="0.71" fill="#6a6a6a" opacity="0.47"/><circle cx="14.1" cy="30.2" r="0.74" fill="#7b7b7b" opacity="0.56"/><circle cx="96.5" cy="60.2" r="0.57" fill="#696969" opacity="0.79"/><circle cx="74.5" cy="22.0" r="0.74" fill="#767676" opacity="0.66"/><circle cx="89.1" cy="67.8" r="1.03" fill="#595959" opacity="0.75"/><circle cx="31.0" cy="41.1" r="0.64" fill="#6a6a6a" opacity="0.74"/><circle cx="2.7" cy="26.9" r="0.88" fill="#7d7d7d" opacity="0.50"/><circle cx="0.3" cy="42.6" r="0.88" fill="#5e5e5e" opacity="0.81"/><circle cx="56.3" cy="1.1" r="0.94" fill="#737373" opacity="0.69"/><circle cx="71.1" cy="73.4" r="0.85" fill="#707070" opacity="0.64"/><circle cx="70.4" cy="55.4" r="1.03" fill="#757575" opacity="0.78"/><circle cx="6.8" cy="64.4" r="0.89" fill="#737373" opacity="0.68"/><circle cx="66.9" cy="36.4" r="0.62" fill="#626262" opacity="0.64"/><circle cx="56.7" cy="38.3" r="0.63" fill="#616161" opacity="0.62"/><circle cx="55.9" cy="3.7" r="0.91" fill="#696969" opacity="0.78"/><circle cx="81.7" cy="51.1" r="0.42" fill="#868686" opacity="0.62"/><circle cx="7.1" cy="31.2" r="0.74" fill="#5f5f5f" opacity="0.79"/><circle cx="22.6" cy="49.7" r="1.07" fill="#858585" opacity="0.81"/><circle cx="102.6" cy="54.3" r="0.71" fill="#636363" opacity="0.69"/><circle cx="42.7" cy="12.4" r="0.84" fill="#5a5a5a" opacity="0.67"/><circle cx="68.1" cy="57.4" r="0.60" fill="#7c7c7c" opacity="0.68"/><circle cx="76.6" cy="67.6" r="0.49" fill="#737373" opacity="0.49"/><circle cx="70.7" cy="37.7" r="0.65" fill="#818181" opacity="0.60"/><circle cx="5.8" cy="53.7" r="0.51" fill="#808080" opacity="0.72"/><circle cx="30.0" cy="72.5" r="0.78" fill="#666666" opacity="0.56"/><circle cx="56.9" cy="19.6" r="0.93" fill="#797979" opacity="0.84"/><circle cx="83.4" cy="66.5" r="0.72" fill="#707070" opacity="0.52"/><circle cx="73.6" cy="50.4" r="0.46" fill="#828282" opacity="0.46"/><circle cx="89.1" cy="39.0" r="0.72" fill="#707070" opacity="0.80"/><circle cx="49.6" cy="24.9" r="0.96" fill="#595959" opacity="0.67"/><circle cx="39.7" cy="65.3" r="1.06" fill="#737373" opacity="0.72"/><circle cx="23.0" cy="8.9" r="1.08" fill="#828282" opacity="0.65"/><circle cx="21.8" cy="54.0" r="0.66" fill="#676767" opacity="0.57"/><circle cx="96.0" cy="54.3" r="0.96" fill="#707070" opacity="0.50"/><circle cx="85.8" cy="49.9" r="0.96" fill="#737373" opacity="0.83"/><circle cx="37.4" cy="2.8" r="1.10" fill="#656565" opacity="0.75"/><circle cx="40.8" cy="7.5" r="0.42" fill="#646464" opacity="0.53"/><circle cx="50.6" cy="72.2" r="0.86" fill="#6e6e6e" opacity="0.45"/><circle cx="48.5" cy="68.5" r="0.83" fill="#737373" opacity="0.58"/><circle cx="47.7" cy="14.8" r="0.86" fill="#5c5c5c" opacity="0.60"/><circle cx="39.8" cy="67.8" r="0.51" fill="#686868" opacity="0.49"/><circle cx="84.5" cy="57.8" r="0.87" fill="#5a5a5a" opacity="0.64"/><circle cx="3.3" cy="71.2" r="0.66" fill="#5b5b5b" opacity="0.73"/><circle cx="69.5" cy="36.3" r="1.06" fill="#5f5f5f" opacity="0.76"/><circle cx="33.5" cy="34.9" r="0.57" fill="#626262" opacity="0.46"/><circle cx="73.8" cy="44.3" r="0.86" fill="#7f7f7f" opacity="0.61"/><circle cx="100.5" cy="28.0" r="0.62" fill="#757575" opacity="0.59"/><circle cx="6.9" cy="76.5" r="0.73" fill="#676767" opacity="0.52"/><circle cx="21.5" cy="3.4" r="0.83" fill="#868686" opacity="0.84"/><circle cx="0.6" cy="4.7" r="0.95" fill="#727272" opacity="0.52"/><circle cx="3.4" cy="64.3" r="0.99" fill="#7c7c7c" opacity="0.59"/><circle cx="9.7" cy="5.5" r="1.03" fill="#777777" opacity="0.49"/><circle cx="48.6" cy="52.6" r="0.85" fill="#777777" opacity="0.61"/><circle cx="6.2" cy="19.7" r="0.69" fill="#6b6b6b" opacity="0.71"/><circle cx="90.3" cy="73.2" r="0.54" fill="#848484" opacity="0.65"/><circle cx="41.5" cy="40.9" r="0.46" fill="#6c6c6c" opacity="0.77"/><circle cx="9.0" cy="75.9" r="0.51" fill="#5c5c5c" opacity="0.79"/><circle cx="22.1" cy="1.3" r="0.78" fill="#777777" opacity="0.62"/><circle cx="79.3" cy="40.2" r="0.49" fill="#585858" opacity="0.82"/><circle cx="31.7" cy="34.6" r="0.98" fill="#666666" opacity="0.67"/><circle cx="14.3" cy="37.2" r="0.95" fill="#686868" opacity="0.78"/><circle cx="32.3" cy="10.0" r="0.46" fill="#676767" opacity="0.73"/><circle cx="82.4" cy="74.5" r="0.87" fill="#696969" opacity="0.47"/><circle cx="72.3" cy="3.7" r="0.54" fill="#6a6a6a" opacity="0.80"/><circle cx="91.4" cy="5.5" r="0.94" fill="#707070" opacity="0.75"/><circle cx="57.4" cy="69.0" r="0.86" fill="#888888" opacity="0.50"/><circle cx="2.9" cy="11.0" r="0.88" fill="#595959" opacity="0.74"/><circle cx="72.4" cy="20.6" r="0.97" fill="#707070" opacity="0.67"/><circle cx="33.2" cy="23.6" r="0.50" fill="#777777" opacity="0.72"/><circle cx="29.5" cy="4.9" r="0.93" fill="#7b7b7b" opacity="0.46"/><circle cx="12.6" cy="74.7" r="0.98" fill="#737373" opacity="0.79"/><circle cx="98.0" cy="47.1" r="0.56" fill="#737373" opacity="0.50"/><circle cx="20.8" cy="27.6" r="0.51" fill="#7f7f7f" opacity="0.78"/><circle cx="75.0" cy="7.3" r="0.77" fill="#626262" opacity="0.70"/><circle cx="14.9" cy="58.9" r="0.70" fill="#737373" opacity="0.50"/><circle cx="32.7" cy="70.5" r="0.72" fill="#737373" opacity="0.52"/><circle cx="5.0" cy="51.4" r="0.51" fill="#767676" opacity="0.84"/><circle cx="61.5" cy="8.0" r="0.97" fill="#727272" opacity="0.72"/><circle cx="21.4" cy="0.1" r="1.04" fill="#676767" opacity="0.64"/><circle cx="91.0" cy="30.2" r="0.55" fill="#696969" opacity="0.78"/><circle cx="31.3" cy="39.7" r="0.94" fill="#676767" opacity="0.60"/><circle cx="83.5" cy="62.7" r="0.86" fill="#5b5b5b" opacity="0.70"/><circle cx="41.4" cy="11.0" r="0.98" fill="#777777" opacity="0.60"/><circle cx="9.7" cy="30.6" r="0.93" fill="#6a6a6a" opacity="0.81"/><circle cx="20.6" cy="61.4" r="0.63" fill="#838383" opacity="0.64"/><circle cx="55.1" cy="7.0" r="0.54" fill="#848484" opacity="0.45"/><circle cx="52.8" cy="45.2" r="0.53" fill="#707070" opacity="0.46"/><circle cx="70.0" cy="47.0" r="0.76" fill="#787878" opacity="0.64"/><circle cx="72.6" cy="30.7" r="1.09" fill="#7d7d7d" opacity="0.82"/><circle cx="71.5" cy="51.6" r="0.78" fill="#727272" opacity="0.60"/><circle cx="61.3" cy="52.3" r="0.77" fill="#6a6a6a" opacity="0.56"/><circle cx="2.8" cy="59.6" r="0.83" fill="#888888" opacity="0.83"/><circle cx="42.6" cy="74.6" r="0.41" fill="#858585" opacity="0.54"/><circle cx="3.9" cy="6.8" r="1.07" fill="#6b6b6b" opacity="0.81"/><circle cx="71.0" cy="64.5" r="0.92" fill="#7f7f7f" opacity="0.67"/><circle cx="49.9" cy="7.1" r="0.48" fill="#6d6d6d" opacity="0.84"/><circle cx="56.1" cy="30.3" r="0.40" fill="#707070" opacity="0.60"/><circle cx="77.5" cy="40.7" r="0.55" fill="#838383" opacity="0.70"/><circle cx="39.9" cy="8.4" r="0.88" fill="#7b7b7b" opacity="0.73"/><circle cx="101.5" cy="19.2" r="0.47" fill="#6a6a6a" opacity="0.57"/><circle cx="27.6" cy="47.9" r="1.03" fill="#626262" opacity="0.48"/><circle cx="42.6" cy="14.3" r="0.86" fill="#7c7c7c" opacity="0.68"/><circle cx="85.7" cy="67.7" r="0.91" fill="#727272" opacity="0.54"/><circle cx="49.9" cy="45.9" r="0.57" fill="#727272" opacity="0.56"/><circle cx="62.5" cy="74.4" r="0.53" fill="#595959" opacity="0.51"/><circle cx="30.5" cy="42.7" r="0.79" fill="#737373" opacity="0.53"/><circle cx="61.4" cy="49.8" r="0.88" fill="#868686" opacity="0.48"/><circle cx="98.3" cy="10.6" r="0.76" fill="#5c5c5c" opacity="0.58"/><circle cx="87.8" cy="49.7" r="1.05" fill="#666666" opacity="0.81"/><circle cx="63.5" cy="61.4" r="0.99" fill="#585858" opacity="0.53"/><circle cx="16.2" cy="7.1" r="0.51" fill="#7f7f7f" opacity="0.75"/><circle cx="59.3" cy="34.0" r="0.63" fill="#636363" opacity="0.74"/><circle cx="95.4" cy="73.7" r="0.84" fill="#5e5e5e" opacity="0.60"/><circle cx="84.0" cy="15.1" r="0.63" fill="#636363" opacity="0.63"/><circle cx="70.2" cy="57.2" r="0.46" fill="#717171" opacity="0.83"/><circle cx="48.1" cy="0.4" r="1.09" fill="#6f6f6f" opacity="0.50"/><circle cx="0.3" cy="29.3" r="0.64" fill="#878787" opacity="0.48"/><circle cx="78.4" cy="55.5" r="0.61" fill="#5f5f5f" opacity="0.77"/><circle cx="103.1" cy="57.8" r="1.31" fill="#959595" opacity="0.48"/><circle cx="30.0" cy="38.4" r="2.11" fill="#858585" opacity="0.55"/><circle cx="30.5" cy="25.9" r="2.36" fill="#9b9b9b" opacity="0.37"/><circle cx="43.4" cy="18.3" r="2.07" fill="#848484" opacity="0.40"/><circle cx="99.8" cy="42.6" r="1.69" fill="#8b8b8b" opacity="0.54"/><circle cx="39.9" cy="71.9" r="1.15" fill="#969696" opacity="0.40"/><circle cx="8.6" cy="63.0" r="1.23" fill="#818181" opacity="0.36"/><circle cx="58.0" cy="73.7" r="2.39" fill="#858585" opacity="0.37"/><circle cx="22.6" cy="75.0" r="1.71" fill="#9e9e9e" opacity="0.53"/><circle cx="98.7" cy="46.1" r="2.34" fill="#9e9e9e" opacity="0.53"/><circle cx="5.5" cy="30.2" r="2.25" fill="#9b9b9b" opacity="0.65"/><circle cx="97.0" cy="50.9" r="1.99" fill="#828282" opacity="0.43"/><circle cx="43.5" cy="55.7" r="2.30" fill="#9b9b9b" opacity="0.67"/><circle cx="39.1" cy="76.9" r="2.21" fill="#959595" opacity="0.40"/><circle cx="80.6" cy="32.5" r="2.56" fill="#979797" opacity="0.43"/><circle cx="43.5" cy="20.9" r="1.75" fill="#929292" opacity="0.35"/><circle cx="65.4" cy="59.2" r="2.21" fill="#848484" opacity="0.38"/><circle cx="39.3" cy="69.1" r="2.42" fill="#8c8c8c" opacity="0.58"/><circle cx="77.1" cy="38.0" r="1.51" fill="#9d9d9d" opacity="0.40"/><circle cx="24.4" cy="70.9" r="2.50" fill="#818181" opacity="0.36"/><circle cx="83.8" cy="6.6" r="1.21" fill="#979797" opacity="0.47"/><circle cx="22.1" cy="22.6" r="2.43" fill="#858585" opacity="0.45"/><circle cx="10.9" cy="30.8" r="1.49" fill="#9e9e9e" opacity="0.54"/><circle cx="45.8" cy="67.1" r="2.54" fill="#888888" opacity="0.44"/><circle cx="56.3" cy="56.3" r="1.21" fill="#9e9e9e" opacity="0.58"/><circle cx="5.8" cy="1.2" r="1.34" fill="#8e8e8e" opacity="0.53"/><circle cx="63.0" cy="61.1" r="1.09" fill="#a0a0a0" opacity="0.43"/><circle cx="71.4" cy="68.1" r="2.24" fill="#939393" opacity="0.50"/><circle cx="10.6" cy="9.5" r="2.45" fill="#919191" opacity="0.60"/><circle cx="96.7" cy="73.1" r="2.58" fill="#939393" opacity="0.65"/><circle cx="61.0" cy="52.5" r="2.03" fill="#838383" opacity="0.61"/><circle cx="54.6" cy="29.9" r="2.48" fill="#939393" opacity="0.64"/><circle cx="38.5" cy="31.5" r="1.73" fill="#848484" opacity="0.52"/><circle cx="58.4" cy="16.0" r="1.73" fill="#838383" opacity="0.61"/><circle cx="12.1" cy="68.2" r="1.60" fill="#959595" opacity="0.44"/><circle cx="28.5" cy="60.3" r="2.19" fill="#909090" opacity="0.44"/><circle cx="2.6" cy="19.4" r="1.27" fill="#8f8f8f" opacity="0.60"/><circle cx="61.1" cy="67.4" r="2.46" fill="#8b8b8b" opacity="0.56"/><circle cx="58.4" cy="69.4" r="1.57" fill="#878787" opacity="0.35"/><circle cx="4.5" cy="63.5" r="1.79" fill="#828282" opacity="0.36"/><circle cx="42.5" cy="31.8" r="1.85" fill="#9c9c9c" opacity="0.56"/><circle cx="22.9" cy="73.1" r="1.18" fill="#848484" opacity="0.60"/><circle cx="61.1" cy="3.3" r="2.15" fill="#939393" opacity="0.58"/><circle cx="92.1" cy="55.5" r="1.11" fill="#919191" opacity="0.39"/><circle cx="77.9" cy="19.9" r="1.48" fill="#808080" opacity="0.66"/><circle cx="33.3" cy="50.6" r="1.80" fill="#989898" opacity="0.40"/><circle cx="22.3" cy="20.3" r="2.51" fill="#8d8d8d" opacity="0.51"/><circle cx="15.5" cy="76.5" r="2.02" fill="#9c9c9c" opacity="0.57"/><circle cx="67.1" cy="13.5" r="1.22" fill="#9f9f9f" opacity="0.41"/><circle cx="51.8" cy="72.0" r="1.55" fill="#818181" opacity="0.40"/><circle cx="27.6" cy="38.0" r="1.86" fill="#8d8d8d" opacity="0.54"/><circle cx="68.4" cy="32.3" r="2.25" fill="#949494" opacity="0.45"/><circle cx="11.1" cy="20.0" r="1.57" fill="#909090" opacity="0.52"/><circle cx="73.2" cy="6.6" r="2.30" fill="#878787" opacity="0.47"/><circle cx="10.6" cy="48.7" r="2.35" fill="#8b8b8b" opacity="0.37"/><circle cx="100.3" cy="29.6" r="2.7" fill="#fff" fill-opacity="0.12" stroke="#555" stroke-width="0.8" opacity="0.53"/><circle cx="26.9" cy="31.4" r="2.0" fill="#fff" fill-opacity="0.12" stroke="#555" stroke-width="0.8" opacity="0.31"/><circle cx="6.6" cy="55.2" r="2.2" fill="#fff" fill-opacity="0.12" stroke="#555" stroke-width="0.8" opacity="0.58"/><circle cx="6.5" cy="23.2" r="1.6" fill="#fff" fill-opacity="0.12" stroke="#555" stroke-width="0.8" opacity="0.61"/><circle cx="81.6" cy="69.0" r="2.4" fill="#fff" fill-opacity="0.12" stroke="#555" stroke-width="0.8" opacity="0.32"/><circle cx="42.9" cy="17.4" r="1.3" fill="#fff" fill-opacity="0.12" stroke="#555" stroke-width="0.8" opacity="0.48"/><circle cx="29.9" cy="8.3" r="2.4" fill="#fff" fill-opacity="0.12" stroke="#555" stroke-width="0.8" opacity="0.61"/><circle cx="97.6" cy="35.9" r="1.4" fill="#fff" fill-opacity="0.12" stroke="#555" stroke-width="0.8" opacity="0.55"/><circle cx="11.8" cy="41.4" r="1.4" fill="#fff" fill-opacity="0.12" stroke="#555" stroke-width="0.8" opacity="0.63"/><circle cx="56.0" cy="33.7" r="1.9" fill="#fff" fill-opacity="0.12" stroke="#555" stroke-width="0.8" opacity="0.47"/><circle cx="100.4" cy="32.9" r="1.7" fill="#fff" fill-opacity="0.12" stroke="#555" stroke-width="0.8" opacity="0.46"/><circle cx="94.8" cy="29.4" r="2.7" fill="#fff" fill-opacity="0.12" stroke="#555" stroke-width="0.8" opacity="0.60"/><circle cx="33.6" cy="62.4" r="2.5" fill="#fff" fill-opacity="0.12" stroke="#555" stroke-width="0.8" opacity="0.33"/><circle cx="5.5" cy="72.3" r="2.3" fill="#fff" fill-opacity="0.12" stroke="#555" stroke-width="0.8" opacity="0.44"/><circle cx="94.7" cy="44.2" r="2.4" fill="#fff" fill-opacity="0.12" stroke="#555" stroke-width="0.8" opacity="0.38"/><circle cx="76.8" cy="19.7" r="2.3" fill="#fff" fill-opacity="0.12" stroke="#555" stroke-width="0.8" opacity="0.55"/><circle cx="62.4" cy="10.3" r="1.7" fill="#fff" fill-opacity="0.12" stroke="#555" stroke-width="0.8" opacity="0.52"/><circle cx="75.2" cy="7.9" r="3.6" fill="#fff" fill-opacity="0.12" stroke="#555" stroke-width="0.8" opacity="0.33"/><circle cx="17.3" cy="6.9" r="2.3" fill="#fff" fill-opacity="0.12" stroke="#555" stroke-width="0.8" opacity="0.50"/><circle cx="88.5" cy="12.6" r="2.9" fill="#fff" fill-opacity="0.12" stroke="#555" stroke-width="0.8" opacity="0.32"/><circle cx="59.9" cy="19.4" r="2.1" fill="#fff" fill-opacity="0.12" stroke="#555" stroke-width="0.8" opacity="0.30"/><circle cx="74.4" cy="9.4" r="3.0" fill="#fff" fill-opacity="0.12" stroke="#555" stroke-width="0.8" opacity="0.40"/><circle cx="61.1" cy="49.2" r="2.4" fill="#fff" fill-opacity="0.12" stroke="#555" stroke-width="0.8" opacity="0.59"/><circle cx="94.9" cy="21.7" r="2.0" fill="#fff" fill-opacity="0.12" stroke="#555" stroke-width="0.8" opacity="0.59"/><circle cx="13.7" cy="32.3" r="2.2" fill="#fff" fill-opacity="0.12" stroke="#555" stroke-width="0.8" opacity="0.62"/><circle cx="13.2" cy="50.4" r="3.0" fill="#fff" fill-opacity="0.12" stroke="#555" stroke-width="0.8" opacity="0.53"/><circle cx="0.1" cy="72.7" r="1.9" fill="#fff" fill-opacity="0.12" stroke="#555" stroke-width="0.8" opacity="0.58"/><circle cx="68.3" cy="32.4" r="3.2" fill="#fff" fill-opacity="0.12" stroke="#555" stroke-width="0.8" opacity="0.52"/><circle cx="35.1" cy="56.4" r="2.4" fill="#fff" fill-opacity="0.12" stroke="#555" stroke-width="0.8" opacity="0.53"/><circle cx="63.4" cy="61.3" r="1.6" fill="#fff" fill-opacity="0.12" stroke="#555" stroke-width="0.8" opacity="0.45"/><circle cx="0.1" cy="60.9" r="3.1" fill="#fff" fill-opacity="0.12" stroke="#555" stroke-width="0.8" opacity="0.57"/><circle cx="4.5" cy="41.2" r="2.3" fill="#fff" fill-opacity="0.12" stroke="#555" stroke-width="0.8" opacity="0.32"/><circle cx="20.9" cy="75.0" r="3.2" fill="#fff" fill-opacity="0.12" stroke="#555" stroke-width="0.8" opacity="0.36"/><circle cx="85.6" cy="50.1" r="2.1" fill="#fff" fill-opacity="0.12" stroke="#555" stroke-width="0.8" opacity="0.51"/><circle cx="23.6" cy="21.1" r="1.2" fill="#fff" fill-opacity="0.12" stroke="#555" stroke-width="0.8" opacity="0.51"/><circle cx="60.0" cy="57.2" r="2.4" fill="#fff" fill-opacity="0.12" stroke="#555" stroke-width="0.8" opacity="0.43"/><circle cx="31.6" cy="56.6" r="2.1" fill="#fff" fill-opacity="0.12" stroke="#555" stroke-width="0.8" opacity="0.49"/><circle cx="78.2" cy="34.2" r="2.8" fill="#fff" fill-opacity="0.12" stroke="#555" stroke-width="0.8" opacity="0.30"/></g>
<rect width="103.2" height="77" filter="url(#grain)" opacity="0.12"/>
<path d="M49.2 5.2 C53.0 4.7 55.4 6.2 58.0 7.5 C60.6 8.8 63.0 10.4 64.6 13.2 C66.2 15.9 67.7 20.5 67.4 24.0 C67.2 27.5 65.6 31.6 63.1 34.4 C60.6 37.1 55.5 39.7 52.3 40.5 C49.1 41.3 46.3 40.0 44.0 39.0 C41.7 38.0 40.8 37.5 38.6 34.5 C36.4 31.5 31.5 25.0 31.0 21.0 C30.5 17.0 32.4 12.9 35.4 10.3 C38.4 7.7 45.4 5.7 49.2 5.2 Z" fill="#8e8e8e" stroke="#2e2e2e" stroke-width="3" filter="url(#bl05)"/>
<g filter="url(#bl05)"><ellipse cx="50" cy="23" rx="13" ry="12" fill="#8e8e8e" stroke="#8e8e8e" stroke-width="0"/><circle cx="42.8" cy="28.4" r="0.8" fill="#444" opacity="0.42"/><circle cx="58.4" cy="28.6" r="0.9" fill="#444" opacity="0.57"/><circle cx="47.5" cy="17.0" r="0.7" fill="#444" opacity="0.31"/><circle cx="49.5" cy="18.0" r="0.9" fill="#444" opacity="0.47"/><circle cx="58.2" cy="17.2" r="1.1" fill="#444" opacity="0.50"/><circle cx="46.4" cy="14.7" r="0.7" fill="#444" opacity="0.38"/><circle cx="57.1" cy="17.1" r="0.8" fill="#444" opacity="0.45"/><circle cx="45.1" cy="25.3" r="0.9" fill="#444" opacity="0.38"/><circle cx="53.5" cy="14.6" r="1.1" fill="#444" opacity="0.35"/><circle cx="48.9" cy="23.7" r="0.7" fill="#444" opacity="0.31"/><circle cx="43.2" cy="18.9" r="0.7" fill="#444" opacity="0.30"/><circle cx="48.0" cy="18.2" r="0.8" fill="#444" opacity="0.40"/><circle cx="51.1" cy="20.6" r="0.5" fill="#444" opacity="0.32"/><circle cx="52.1" cy="26.2" r="0.8" fill="#444" opacity="0.57"/><circle cx="49.0" cy="13.7" r="1.1" fill="#444" opacity="0.41"/><circle cx="55.8" cy="18.2" r="0.9" fill="#444" opacity="0.34"/><circle cx="44.6" cy="17.4" r="0.9" fill="#444" opacity="0.34"/><circle cx="45.9" cy="16.8" r="1.3" fill="#444" opacity="0.54"/><circle cx="55.4" cy="24.5" r="0.6" fill="#444" opacity="0.35"/><circle cx="41.0" cy="23.5" r="1.2" fill="#444" opacity="0.35"/><circle cx="47.4" cy="32.5" r="0.9" fill="#444" opacity="0.57"/><circle cx="42.2" cy="23.4" r="1.3" fill="#444" opacity="0.32"/><circle cx="46.6" cy="17.1" r="1.0" fill="#444" opacity="0.47"/><circle cx="57.1" cy="22.6" r="1.0" fill="#444" opacity="0.37"/><circle cx="56.9" cy="26.4" r="1.2" fill="#444" opacity="0.55"/><circle cx="49.1" cy="29.2" r="0.6" fill="#444" opacity="0.55"/><circle cx="41.8" cy="28.8" r="0.6" fill="#444" opacity="0.35"/><circle cx="54.1" cy="28.2" r="0.9" fill="#444" opacity="0.37"/><circle cx="42.2" cy="28.3" r="0.9" fill="#444" opacity="0.48"/><circle cx="48.4" cy="21.8" r="1.1" fill="#444" opacity="0.55"/><circle cx="53.0" cy="24.5" r="1.3" fill="#444" opacity="0.46"/><circle cx="41.8" cy="25.8" r="0.6" fill="#444" opacity="0.31"/><circle cx="56.0" cy="22.9" r="1.1" fill="#444" opacity="0.43"/><circle cx="48.3" cy="22.2" r="0.6" fill="#444" opacity="0.35"/><circle cx="41.6" cy="25.8" r="0.8" fill="#444" opacity="0.49"/><circle cx="53.8" cy="23.9" r="1.0" fill="#444" opacity="0.52"/><circle cx="52.8" cy="19.0" r="0.6" fill="#444" opacity="0.34"/><circle cx="51.3" cy="20.6" r="1.4" fill="#444" opacity="0.36"/><circle cx="55.9" cy="20.0" r="1.1" fill="#444" opacity="0.53"/><circle cx="55.7" cy="16.6" r="0.9" fill="#444" opacity="0.60"/><circle cx="49.4" cy="26.8" r="1.2" fill="#444" opacity="0.57"/><circle cx="44.9" cy="32.0" r="0.8" fill="#444" opacity="0.49"/><circle cx="45.0" cy="26.2" r="1.1" fill="#444" opacity="0.48"/><circle cx="55.9" cy="28.5" r="1.1" fill="#444" opacity="0.43"/><circle cx="51.0" cy="15.2" r="1.0" fill="#444" opacity="0.39"/><circle cx="58.1" cy="28.5" r="1.1" fill="#444" opacity="0.36"/><circle cx="47.2" cy="28.4" r="0.7" fill="#444" opacity="0.58"/><circle cx="53.0" cy="22.7" r="1.2" fill="#444" opacity="0.52"/><circle cx="51.3" cy="26.7" r="0.6" fill="#444" opacity="0.55"/><circle cx="50.2" cy="13.7" r="0.9" fill="#444" opacity="0.32"/><circle cx="51.6" cy="15.7" r="0.8" fill="#444" opacity="0.55"/><circle cx="40.4" cy="21.6" r="0.6" fill="#444" opacity="0.49"/><circle cx="47.7" cy="19.8" r="0.6" fill="#444" opacity="0.52"/><circle cx="45.1" cy="16.9" r="0.8" fill="#444" opacity="0.43"/><circle cx="56.8" cy="26.7" r="0.8" fill="#444" opacity="0.48"/><circle cx="45.7" cy="15.3" r="1.3" fill="#444" opacity="0.46"/><circle cx="50.5" cy="29.1" r="1.2" fill="#444" opacity="0.37"/><circle cx="53.2" cy="30.2" r="1.1" fill="#444" opacity="0.54"/><circle cx="50.8" cy="27.0" r="0.5" fill="#444" opacity="0.59"/><circle cx="57.1" cy="28.5" r="0.8" fill="#444" opacity="0.43"/><circle cx="42.1" cy="18.9" r="0.5" fill="#444" opacity="0.34"/><circle cx="57.3" cy="25.3" r="1.0" fill="#444" opacity="0.46"/><circle cx="49.5" cy="31.6" r="1.3" fill="#444" opacity="0.53"/><circle cx="55.3" cy="25.8" r="0.9" fill="#444" opacity="0.34"/><circle cx="52.3" cy="21.6" r="1.1" fill="#444" opacity="0.37"/><circle cx="40.5" cy="28.2" r="0.9" fill="#444" opacity="0.58"/><circle cx="58.5" cy="24.4" r="1.4" fill="#444" opacity="0.55"/><circle cx="57.2" cy="24.9" r="1.0" fill="#444" opacity="0.40"/><circle cx="50.6" cy="31.9" r="0.8" fill="#444" opacity="0.38"/><circle cx="52.8" cy="22.3" r="0.6" fill="#444" opacity="0.46"/></g>
<g filter="url(#bl1)"><ellipse cx="50" cy="24" rx="7" ry="6" fill="#9c9c9c" stroke="#9c9c9c" stroke-width="0"/><circle cx="47.5" cy="22.6" r="0.6" fill="#555" opacity="0.32"/><circle cx="51.3" cy="25.1" r="0.7" fill="#555" opacity="0.41"/><circle cx="53.9" cy="20.6" r="1.4" fill="#555" opacity="0.42"/><circle cx="51.6" cy="20.1" r="1.3" fill="#555" opacity="0.40"/><circle cx="47.0" cy="21.1" r="1.1" fill="#555" opacity="0.26"/><circle cx="49.1" cy="21.7" r="1.1" fill="#555" opacity="0.40"/><circle cx="48.9" cy="24.8" r="1.1" fill="#555" opacity="0.49"/><circle cx="51.3" cy="25.0" r="0.8" fill="#555" opacity="0.28"/><circle cx="44.7" cy="23.8" r="1.1" fill="#555" opacity="0.26"/><circle cx="52.5" cy="26.8" r="0.7" fill="#555" opacity="0.29"/><circle cx="51.8" cy="20.9" r="0.9" fill="#555" opacity="0.31"/><circle cx="54.8" cy="22.2" r="1.3" fill="#555" opacity="0.32"/><circle cx="50.0" cy="25.2" r="0.7" fill="#555" opacity="0.28"/><circle cx="55.2" cy="23.3" r="0.8" fill="#555" opacity="0.42"/></g>
<g filter="url(#bl05)"><ellipse cx="33.4" cy="62.7" rx="11.8" ry="12.1" fill="#5c5c5c" stroke="#262626" stroke-width="2.6"/><circle cx="29.8" cy="64.8" r="0.6" fill="#2a2a2a" opacity="0.61"/><circle cx="32.7" cy="55.1" r="1.0" fill="#2a2a2a" opacity="0.61"/><circle cx="34.6" cy="71.0" r="0.9" fill="#2a2a2a" opacity="0.54"/><circle cx="37.6" cy="64.1" r="1.0" fill="#2a2a2a" opacity="0.60"/><circle cx="40.7" cy="68.2" r="0.5" fill="#2a2a2a" opacity="0.37"/><circle cx="29.8" cy="56.6" r="1.2" fill="#2a2a2a" opacity="0.46"/><circle cx="35.8" cy="68.5" r="0.9" fill="#2a2a2a" opacity="0.52"/><circle cx="35.2" cy="58.5" r="1.0" fill="#2a2a2a" opacity="0.62"/><circle cx="37.7" cy="64.5" r="1.3" fill="#2a2a2a" opacity="0.59"/><circle cx="31.2" cy="68.7" r="1.2" fill="#2a2a2a" opacity="0.57"/><circle cx="27.3" cy="69.1" r="0.6" fill="#2a2a2a" opacity="0.64"/><circle cx="35.6" cy="66.8" r="1.2" fill="#2a2a2a" opacity="0.57"/><circle cx="30.2" cy="53.9" r="0.7" fill="#2a2a2a" opacity="0.36"/><circle cx="30.4" cy="66.8" r="1.2" fill="#2a2a2a" opacity="0.67"/><circle cx="30.0" cy="63.0" r="0.9" fill="#2a2a2a" opacity="0.47"/><circle cx="32.8" cy="58.4" r="0.5" fill="#2a2a2a" opacity="0.39"/><circle cx="30.0" cy="53.7" r="1.3" fill="#2a2a2a" opacity="0.54"/><circle cx="36.8" cy="66.0" r="1.0" fill="#2a2a2a" opacity="0.58"/><circle cx="36.6" cy="55.3" r="0.9" fill="#2a2a2a" opacity="0.65"/><circle cx="32.6" cy="53.4" r="1.1" fill="#2a2a2a" opacity="0.69"/><circle cx="34.1" cy="71.4" r="1.3" fill="#2a2a2a" opacity="0.42"/><circle cx="32.3" cy="65.2" r="1.2" fill="#2a2a2a" opacity="0.38"/><circle cx="29.6" cy="59.3" r="1.3" fill="#2a2a2a" opacity="0.58"/><circle cx="36.5" cy="53.6" r="1.1" fill="#2a2a2a" opacity="0.48"/><circle cx="28.3" cy="60.4" r="1.0" fill="#2a2a2a" opacity="0.39"/><circle cx="27.0" cy="66.5" r="1.4" fill="#2a2a2a" opacity="0.39"/><circle cx="25.6" cy="68.9" r="1.1" fill="#2a2a2a" opacity="0.47"/><circle cx="30.8" cy="63.1" r="0.9" fill="#2a2a2a" opacity="0.48"/><circle cx="34.1" cy="62.2" r="0.7" fill="#2a2a2a" opacity="0.43"/><circle cx="38.8" cy="63.7" r="0.8" fill="#2a2a2a" opacity="0.38"/><circle cx="24.0" cy="64.9" r="0.7" fill="#2a2a2a" opacity="0.44"/><circle cx="23.5" cy="61.4" r="1.0" fill="#2a2a2a" opacity="0.39"/><circle cx="37.2" cy="53.7" r="0.6" fill="#2a2a2a" opacity="0.69"/><circle cx="39.1" cy="55.8" r="0.6" fill="#2a2a2a" opacity="0.61"/><circle cx="28.6" cy="56.3" r="0.7" fill="#2a2a2a" opacity="0.44"/><circle cx="32.9" cy="62.3" r="0.5" fill="#2a2a2a" opacity="0.64"/><circle cx="28.9" cy="62.6" r="1.2" fill="#2a2a2a" opacity="0.52"/><circle cx="42.6" cy="59.7" r="1.0" fill="#2a2a2a" opacity="0.58"/><circle cx="39.2" cy="69.2" r="0.9" fill="#2a2a2a" opacity="0.45"/><circle cx="41.7" cy="60.3" r="0.5" fill="#2a2a2a" opacity="0.44"/><circle cx="26.8" cy="56.9" r="1.2" fill="#2a2a2a" opacity="0.36"/><circle cx="33.8" cy="71.8" r="1.1" fill="#2a2a2a" opacity="0.63"/><circle cx="35.4" cy="62.8" r="0.9" fill="#2a2a2a" opacity="0.56"/><circle cx="35.3" cy="63.6" r="1.3" fill="#2a2a2a" opacity="0.66"/><circle cx="32.7" cy="63.2" r="0.8" fill="#2a2a2a" opacity="0.36"/><circle cx="41.4" cy="57.4" r="1.2" fill="#2a2a2a" opacity="0.69"/><circle cx="26.3" cy="60.5" r="1.1" fill="#2a2a2a" opacity="0.67"/><circle cx="36.3" cy="58.2" r="1.4" fill="#2a2a2a" opacity="0.62"/><circle cx="36.6" cy="63.1" r="0.7" fill="#2a2a2a" opacity="0.41"/></g>
<rect width="103.2" height="77" fill="url(#vig)"/>
</svg>
<rect x="152.9" y="638.3" width="103.2" height="77" fill="none" stroke="#444" stroke-width="1"/>
<svg x="260.2" y="638.3" width="103.2" height="77" viewBox="0 0 103.2 77" overflow="hidden">
<rect width="103.2" height="77" fill="#d8d8d8"/>
<rect width="103.2" height="77" filter="url(#mott)" opacity="0.22"/>
<g filter="url(#bl05)"><circle cx="81.9" cy="63.3" r="0.74" fill="#686868" opacity="0.46"/><circle cx="15.0" cy="45.2" r="1.08" fill="#878787" opacity="0.60"/><circle cx="79.5" cy="21.0" r="0.96" fill="#868686" opacity="0.80"/><circle cx="94.0" cy="41.5" r="0.47" fill="#7c7c7c" opacity="0.67"/><circle cx="83.1" cy="20.4" r="0.96" fill="#838383" opacity="0.49"/><circle cx="43.8" cy="76.2" r="0.65" fill="#727272" opacity="0.77"/><circle cx="45.9" cy="7.2" r="0.54" fill="#808080" opacity="0.77"/><circle cx="10.1" cy="3.5" r="1.03" fill="#818181" opacity="0.82"/><circle cx="50.2" cy="64.1" r="0.54" fill="#7c7c7c" opacity="0.71"/><circle cx="72.0" cy="62.0" r="1.08" fill="#595959" opacity="0.70"/><circle cx="25.3" cy="33.1" r="0.65" fill="#5f5f5f" opacity="0.49"/><circle cx="90.8" cy="40.4" r="0.48" fill="#828282" opacity="0.56"/><circle cx="74.2" cy="29.2" r="0.56" fill="#7e7e7e" opacity="0.53"/><circle cx="89.3" cy="53.8" r="0.41" fill="#626262" opacity="0.46"/><circle cx="34.4" cy="69.6" r="0.83" fill="#6b6b6b" opacity="0.60"/><circle cx="54.4" cy="22.3" r="0.88" fill="#777777" opacity="0.47"/><circle cx="43.6" cy="57.5" r="0.68" fill="#747474" opacity="0.55"/><circle cx="101.1" cy="68.7" r="0.87" fill="#747474" opacity="0.63"/><circle cx="85.8" cy="61.3" r="0.76" fill="#767676" opacity="0.57"/><circle cx="84.3" cy="72.4" r="0.53" fill="#838383" opacity="0.56"/><circle cx="50.3" cy="60.4" r="0.52" fill="#595959" opacity="0.67"/><circle cx="25.9" cy="61.7" r="0.53" fill="#787878" opacity="0.63"/><circle cx="95.7" cy="19.6" r="0.69" fill="#727272" opacity="0.69"/><circle cx="27.7" cy="36.6" r="0.73" fill="#616161" opacity="0.74"/><circle cx="51.3" cy="48.9" r="0.73" fill="#6f6f6f" opacity="0.71"/><circle cx="100.2" cy="71.1" r="0.66" fill="#7e7e7e" opacity="0.56"/><circle cx="66.7" cy="75.1" r="0.91" fill="#626262" opacity="0.82"/><circle cx="30.0" cy="0.5" r="0.71" fill="#5b5b5b" opacity="0.52"/><circle cx="62.9" cy="43.9" r="0.88" fill="#6f6f6f" opacity="0.59"/><circle cx="96.8" cy="65.7" r="0.44" fill="#646464" opacity="0.51"/><circle cx="27.8" cy="1.1" r="0.96" fill="#797979" opacity="0.65"/><circle cx="48.4" cy="7.7" r="0.65" fill="#616161" opacity="0.72"/><circle cx="25.1" cy="24.5" r="0.43" fill="#828282" opacity="0.49"/><circle cx="10.9" cy="49.7" r="0.72" fill="#5c5c5c" opacity="0.70"/><circle cx="72.4" cy="9.8" r="0.98" fill="#5d5d5d" opacity="0.51"/><circle cx="65.1" cy="20.4" r="0.99" fill="#818181" opacity="0.63"/><circle cx="71.6" cy="60.9" r="0.50" fill="#646464" opacity="0.81"/><circle cx="45.5" cy="59.9" r="0.71" fill="#696969" opacity="0.64"/><circle cx="59.8" cy="64.0" r="0.60" fill="#6f6f6f" opacity="0.56"/><circle cx="97.0" cy="6.4" r="1.00" fill="#696969" opacity="0.56"/><circle cx="48.8" cy="34.2" r="0.66" fill="#858585" opacity="0.48"/><circle cx="84.2" cy="49.2" r="0.77" fill="#5a5a5a" opacity="0.75"/><circle cx="34.7" cy="2.5" r="1.07" fill="#878787" opacity="0.76"/><circle cx="98.0" cy="54.0" r="0.64" fill="#5c5c5c" opacity="0.51"/><circle cx="69.7" cy="30.8" r="0.49" fill="#878787" opacity="0.65"/><circle cx="7.8" cy="5.7" r="0.76" fill="#595959" opacity="0.52"/><circle cx="73.1" cy="14.1" r="0.92" fill="#787878" opacity="0.68"/><circle cx="40.1" cy="17.2" r="0.56" fill="#7c7c7c" opacity="0.74"/><circle cx="13.0" cy="53.2" r="0.93" fill="#676767" opacity="0.67"/><circle cx="0.5" cy="62.0" r="0.67" fill="#888888" opacity="0.58"/><circle cx="39.3" cy="34.0" r="0.68" fill="#797979" opacity="0.67"/><circle cx="68.3" cy="55.2" r="0.85" fill="#878787" opacity="0.60"/><circle cx="68.8" cy="74.9" r="0.51" fill="#808080" opacity="0.50"/><circle cx="7.7" cy="0.9" r="0.73" fill="#5b5b5b" opacity="0.50"/><circle cx="73.4" cy="7.7" r="0.66" fill="#5a5a5a" opacity="0.47"/><circle cx="23.2" cy="31.3" r="0.93" fill="#848484" opacity="0.82"/><circle cx="30.3" cy="36.3" r="0.91" fill="#5b5b5b" opacity="0.52"/><circle cx="68.3" cy="9.2" r="0.48" fill="#636363" opacity="0.47"/><circle cx="94.9" cy="57.8" r="0.87" fill="#868686" opacity="0.62"/><circle cx="73.1" cy="19.7" r="0.56" fill="#818181" opacity="0.76"/><circle cx="81.3" cy="16.5" r="0.81" fill="#686868" opacity="0.66"/><circle cx="75.5" cy="75.0" r="1.08" fill="#838383" opacity="0.58"/><circle cx="53.4" cy="45.0" r="0.85" fill="#6f6f6f" opacity="0.60"/><circle cx="12.1" cy="73.0" r="0.42" fill="#848484" opacity="0.83"/><circle cx="45.0" cy="64.1" r="0.44" fill="#606060" opacity="0.46"/><circle cx="34.7" cy="37.3" r="0.72" fill="#686868" opacity="0.49"/><circle cx="61.0" cy="21.0" r="0.49" fill="#727272" opacity="0.67"/><circle cx="25.1" cy="51.0" r="1.09" fill="#737373" opacity="0.68"/><circle cx="64.7" cy="37.0" r="0.59" fill="#606060" opacity="0.57"/><circle cx="3.4" cy="58.4" r="0.47" fill="#636363" opacity="0.68"/><circle cx="97.8" cy="62.3" r="0.76" fill="#5f5f5f" opacity="0.51"/><circle cx="40.6" cy="37.4" r="1.01" fill="#848484" opacity="0.67"/><circle cx="82.1" cy="16.6" r="0.85" fill="#707070" opacity="0.51"/><circle cx="94.9" cy="67.0" r="1.00" fill="#6d6d6d" opacity="0.62"/><circle cx="33.0" cy="22.0" r="0.81" fill="#838383" opacity="0.60"/><circle cx="0.6" cy="23.5" r="0.46" fill="#7f7f7f" opacity="0.70"/><circle cx="23.9" cy="49.4" r="0.54" fill="#727272" opacity="0.50"/><circle cx="94.0" cy="64.4" r="0.76" fill="#5b5b5b" opacity="0.66"/><circle cx="80.1" cy="37.6" r="0.65" fill="#6d6d6d" opacity="0.79"/><circle cx="61.1" cy="66.8" r="0.85" fill="#5c5c5c" opacity="0.55"/><circle cx="4.3" cy="45.4" r="0.83" fill="#616161" opacity="0.78"/><circle cx="52.3" cy="60.2" r="0.94" fill="#5d5d5d" opacity="0.48"/><circle cx="85.9" cy="58.1" r="0.55" fill="#6d6d6d" opacity="0.51"/><circle cx="75.1" cy="70.6" r="0.52" fill="#636363" opacity="0.54"/><circle cx="13.0" cy="36.9" r="1.05" fill="#7f7f7f" opacity="0.49"/><circle cx="63.4" cy="35.1" r="0.96" fill="#7c7c7c" opacity="0.60"/><circle cx="14.9" cy="25.6" r="0.58" fill="#5c5c5c" opacity="0.56"/><circle cx="0.2" cy="67.9" r="0.42" fill="#808080" opacity="0.63"/><circle cx="6.3" cy="21.1" r="0.90" fill="#707070" opacity="0.82"/><circle cx="34.7" cy="56.8" r="1.00" fill="#616161" opacity="0.78"/><circle cx="15.2" cy="51.4" r="0.73" fill="#717171" opacity="0.77"/><circle cx="97.6" cy="68.4" r="0.51" fill="#747474" opacity="0.60"/><circle cx="92.1" cy="72.6" r="0.49" fill="#7b7b7b" opacity="0.64"/><circle cx="7.3" cy="9.3" r="0.89" fill="#7a7a7a" opacity="0.85"/><circle cx="88.9" cy="33.7" r="0.58" fill="#7a7a7a" opacity="0.76"/><circle cx="30.4" cy="53.0" r="0.59" fill="#7b7b7b" opacity="0.84"/><circle cx="74.1" cy="3.5" r="0.92" fill="#828282" opacity="0.84"/><circle cx="100.2" cy="40.6" r="0.97" fill="#7b7b7b" opacity="0.66"/><circle cx="17.6" cy="2.7" r="0.41" fill="#656565" opacity="0.68"/><circle cx="19.7" cy="21.4" r="0.59" fill="#6b6b6b" opacity="0.73"/><circle cx="91.0" cy="16.8" r="0.91" fill="#7e7e7e" opacity="0.45"/><circle cx="84.1" cy="63.7" r="0.80" fill="#6e6e6e" opacity="0.52"/><circle cx="95.4" cy="17.0" r="0.67" fill="#7b7b7b" opacity="0.70"/><circle cx="12.7" cy="56.5" r="1.08" fill="#5b5b5b" opacity="0.68"/><circle cx="63.9" cy="46.9" r="0.59" fill="#808080" opacity="0.84"/><circle cx="5.8" cy="51.0" r="0.75" fill="#797979" opacity="0.55"/><circle cx="27.4" cy="74.7" r="0.61" fill="#737373" opacity="0.75"/><circle cx="9.8" cy="58.9" r="0.69" fill="#818181" opacity="0.51"/><circle cx="28.7" cy="50.0" r="0.62" fill="#828282" opacity="0.84"/><circle cx="5.9" cy="51.2" r="0.44" fill="#737373" opacity="0.66"/><circle cx="18.2" cy="20.3" r="0.40" fill="#696969" opacity="0.74"/><circle cx="35.7" cy="31.1" r="0.89" fill="#858585" opacity="0.48"/><circle cx="11.9" cy="61.7" r="1.71" fill="#909090" opacity="0.66"/><circle cx="24.8" cy="1.2" r="1.08" fill="#a0a0a0" opacity="0.54"/><circle cx="39.3" cy="16.9" r="1.47" fill="#808080" opacity="0.39"/><circle cx="81.9" cy="10.4" r="1.19" fill="#999999" opacity="0.44"/><circle cx="21.9" cy="56.1" r="2.22" fill="#888888" opacity="0.40"/><circle cx="88.2" cy="61.1" r="1.95" fill="#9a9a9a" opacity="0.66"/><circle cx="49.1" cy="44.1" r="1.72" fill="#9d9d9d" opacity="0.42"/><circle cx="18.3" cy="8.7" r="2.07" fill="#888888" opacity="0.49"/><circle cx="60.6" cy="35.9" r="2.23" fill="#919191" opacity="0.56"/><circle cx="61.5" cy="14.8" r="2.46" fill="#818181" opacity="0.49"/><circle cx="40.9" cy="44.4" r="1.19" fill="#828282" opacity="0.67"/><circle cx="37.6" cy="38.4" r="1.40" fill="#9b9b9b" opacity="0.48"/><circle cx="37.2" cy="54.9" r="1.60" fill="#838383" opacity="0.49"/><circle cx="60.8" cy="23.5" r="1.94" fill="#9e9e9e" opacity="0.43"/><circle cx="47.6" cy="44.4" r="1.59" fill="#9b9b9b" opacity="0.59"/><circle cx="48.4" cy="25.2" r="1.73" fill="#9f9f9f" opacity="0.35"/><circle cx="91.3" cy="46.8" r="1.77" fill="#838383" opacity="0.57"/><circle cx="85.7" cy="75.2" r="1.82" fill="#969696" opacity="0.70"/><circle cx="16.6" cy="13.8" r="1.85" fill="#999999" opacity="0.56"/><circle cx="11.9" cy="26.7" r="2.04" fill="#909090" opacity="0.64"/><circle cx="62.8" cy="74.7" r="2.30" fill="#909090" opacity="0.64"/><circle cx="39.9" cy="54.7" r="1.00" fill="#969696" opacity="0.50"/><circle cx="18.1" cy="65.3" r="1.56" fill="#818181" opacity="0.54"/><circle cx="21.1" cy="59.7" r="2.31" fill="#9e9e9e" opacity="0.58"/><circle cx="58.0" cy="37.2" r="2.50" fill="#9e9e9e" opacity="0.42"/><circle cx="38.6" cy="11.1" r="1.34" fill="#8e8e8e" opacity="0.65"/><circle cx="27.8" cy="17.0" r="1.76" fill="#898989" opacity="0.48"/><circle cx="78.0" cy="49.1" r="1.45" fill="#8c8c8c" opacity="0.61"/><circle cx="93.2" cy="4.3" r="1.32" fill="#999999" opacity="0.69"/><circle cx="54.5" cy="70.7" r="2.08" fill="#818181" opacity="0.67"/><circle cx="97.4" cy="49.2" r="2.17" fill="#878787" opacity="0.59"/><circle cx="68.9" cy="14.9" r="2.59" fill="#868686" opacity="0.53"/><circle cx="58.7" cy="75.0" r="2.42" fill="#8b8b8b" opacity="0.50"/><circle cx="79.2" cy="59.3" r="1.01" fill="#949494" opacity="0.42"/><circle cx="58.5" cy="11.6" r="1.01" fill="#929292" opacity="0.39"/><circle cx="52.8" cy="16.6" r="1.7" fill="#fff" fill-opacity="0.12" stroke="#606060" stroke-width="0.8" opacity="0.33"/><circle cx="61.3" cy="50.4" r="2.6" fill="#fff" fill-opacity="0.12" stroke="#606060" stroke-width="0.8" opacity="0.36"/><circle cx="44.7" cy="66.9" r="3.3" fill="#fff" fill-opacity="0.12" stroke="#606060" stroke-width="0.8" opacity="0.47"/><circle cx="97.3" cy="51.7" r="1.7" fill="#fff" fill-opacity="0.12" stroke="#606060" stroke-width="0.8" opacity="0.41"/><circle cx="29.2" cy="23.2" r="2.2" fill="#fff" fill-opacity="0.12" stroke="#606060" stroke-width="0.8" opacity="0.23"/><circle cx="45.2" cy="15.1" r="1.8" fill="#fff" fill-opacity="0.12" stroke="#606060" stroke-width="0.8" opacity="0.34"/><circle cx="78.0" cy="50.2" r="2.0" fill="#fff" fill-opacity="0.12" stroke="#606060" stroke-width="0.8" opacity="0.42"/><circle cx="41.9" cy="27.6" r="2.2" fill="#fff" fill-opacity="0.12" stroke="#606060" stroke-width="0.8" opacity="0.30"/><circle cx="15.8" cy="74.5" r="2.6" fill="#fff" fill-opacity="0.12" stroke="#606060" stroke-width="0.8" opacity="0.40"/><circle cx="62.9" cy="38.6" r="2.7" fill="#fff" fill-opacity="0.12" stroke="#606060" stroke-width="0.8" opacity="0.22"/><circle cx="6.7" cy="41.2" r="2.3" fill="#fff" fill-opacity="0.12" stroke="#606060" stroke-width="0.8" opacity="0.22"/><circle cx="21.8" cy="23.5" r="3.5" fill="#fff" fill-opacity="0.12" stroke="#606060" stroke-width="0.8" opacity="0.45"/><circle cx="4.1" cy="29.9" r="2.0" fill="#fff" fill-opacity="0.12" stroke="#606060" stroke-width="0.8" opacity="0.26"/><circle cx="29.9" cy="76.2" r="3.4" fill="#fff" fill-opacity="0.12" stroke="#606060" stroke-width="0.8" opacity="0.29"/><circle cx="80.6" cy="10.0" r="2.7" fill="#fff" fill-opacity="0.12" stroke="#606060" stroke-width="0.8" opacity="0.24"/><circle cx="66.2" cy="46.1" r="3.6" fill="#fff" fill-opacity="0.12" stroke="#606060" stroke-width="0.8" opacity="0.38"/><circle cx="94.1" cy="18.7" r="2.7" fill="#fff" fill-opacity="0.12" stroke="#606060" stroke-width="0.8" opacity="0.28"/><circle cx="7.1" cy="75.7" r="1.3" fill="#fff" fill-opacity="0.12" stroke="#606060" stroke-width="0.8" opacity="0.32"/><circle cx="32.6" cy="15.5" r="3.3" fill="#fff" fill-opacity="0.12" stroke="#606060" stroke-width="0.8" opacity="0.43"/><circle cx="39.5" cy="43.4" r="3.2" fill="#fff" fill-opacity="0.12" stroke="#606060" stroke-width="0.8" opacity="0.24"/><circle cx="67.6" cy="65.6" r="2.7" fill="#fff" fill-opacity="0.12" stroke="#606060" stroke-width="0.8" opacity="0.36"/><circle cx="25.6" cy="13.0" r="1.6" fill="#fff" fill-opacity="0.12" stroke="#606060" stroke-width="0.8" opacity="0.32"/><circle cx="29.5" cy="60.0" r="1.6" fill="#fff" fill-opacity="0.12" stroke="#606060" stroke-width="0.8" opacity="0.25"/><circle cx="82.4" cy="34.9" r="1.5" fill="#fff" fill-opacity="0.12" stroke="#606060" stroke-width="0.8" opacity="0.44"/></g>
<rect width="103.2" height="77" filter="url(#grain)" opacity="0.12"/>
<path d="M20.0 10.0 C22.3 8.2 26.3 5.7 30.0 5.0 C33.7 4.3 39.0 4.8 42.0 6.0 C45.0 7.2 45.7 10.5 48.0 12.0 C50.3 13.5 53.0 14.2 56.0 15.0 C59.0 15.8 62.8 16.0 66.0 17.0 C69.2 18.0 72.2 18.8 75.0 21.0 C77.8 23.2 81.0 26.8 83.0 30.0 C85.0 33.2 87.0 36.7 87.0 40.0 C87.0 43.3 84.7 47.2 83.0 50.0 C81.3 52.8 79.2 54.8 77.0 57.0 C74.8 59.2 72.5 61.0 70.0 63.0 C67.5 65.0 65.0 68.0 62.0 69.0 C59.0 70.0 54.7 70.0 52.0 69.0 C49.3 68.0 48.0 65.0 46.0 63.0 C44.0 61.0 42.3 58.7 40.0 57.0 C37.7 55.3 35.0 54.0 32.0 53.0 C29.0 52.0 25.0 52.3 22.0 51.0 C19.0 49.7 15.8 47.5 14.0 45.0 C12.2 42.5 11.2 39.2 11.0 36.0 C10.8 32.8 12.2 29.3 13.0 26.0 C13.8 22.7 14.8 18.7 16.0 16.0 C17.2 13.3 17.7 11.8 20.0 10.0 Z" fill="#4a4a4a" filter="url(#bl1)"/>
<path d="M22.0 14.0 C24.3 12.2 28.5 9.7 32.0 9.0 C35.5 8.3 40.2 8.8 43.0 10.0 C45.8 11.2 46.5 14.3 49.0 16.0 C51.5 17.7 54.8 18.8 58.0 20.0 C61.2 21.2 65.0 21.3 68.0 23.0 C71.0 24.7 74.0 27.2 76.0 30.0 C78.0 32.8 79.8 36.8 80.0 40.0 C80.2 43.2 78.7 46.3 77.0 49.0 C75.3 51.7 72.5 53.8 70.0 56.0 C67.5 58.2 64.7 61.0 62.0 62.0 C59.3 63.0 56.3 63.0 54.0 62.0 C51.7 61.0 50.2 58.0 48.0 56.0 C45.8 54.0 43.7 51.5 41.0 50.0 C38.3 48.5 35.0 48.0 32.0 47.0 C29.0 46.0 25.5 45.5 23.0 44.0 C20.5 42.5 18.2 40.7 17.0 38.0 C15.8 35.3 15.8 31.0 16.0 28.0 C16.2 25.0 17.0 22.3 18.0 20.0 C19.0 17.7 19.7 15.8 22.0 14.0 Z" fill="#282828" filter="url(#bl2)"/>
<ellipse cx="33.4" cy="30" rx="11" ry="12" fill="#1c1c1c" stroke="none" stroke-width="0" opacity="0.9" filter="url(#bl2)"/>
<ellipse cx="58" cy="45" rx="13" ry="12" fill="#181818" stroke="none" stroke-width="0" opacity="0.9" filter="url(#bl2)"/>
<rect x="80.6" y="69.4" width="17" height="2.2" fill="#000"/>
<rect width="103.2" height="77" fill="url(#vig)"/>
</svg>
<rect x="260.2" y="638.3" width="103.2" height="77" fill="none" stroke="#444" stroke-width="1"/>
<text x="396.3" y="539.5" font-size="21.5" fill="#111">h</text>
<text x="470.6" y="554" font-size="13.2" textLength="31.5" lengthAdjust="spacingAndGlyphs" fill="#111">mock</text>
<text x="566.2" y="553.7" font-size="13.6" textLength="54.5" lengthAdjust="spacingAndGlyphs" fill="#111">rhFBLN5</text>
<text x="432" y="613.8" font-size="13.4" textLength="32.8" lengthAdjust="spacingAndGlyphs" transform="rotate(-90 432 613.8)" fill="#111">0 day</text>
<text x="432" y="697" font-size="13.4" textLength="40" lengthAdjust="spacingAndGlyphs" transform="rotate(-90 432 697)" fill="#111">14 day</text>
<svg x="434.6" y="558.6" width="103.7" height="77.8" viewBox="0 0 103.7 77.8" overflow="hidden">
<rect width="103.7" height="77.8" fill="#c8c8c8"/>
<rect width="103.7" height="77.8" filter="url(#mott)" opacity="0.12"/>
<g filter="url(#bl05)"><circle cx="33.6" cy="11.7" r="0.86" fill="#5c5c5c" opacity="0.78"/><circle cx="9.8" cy="45.3" r="1.04" fill="#656565" opacity="0.46"/><circle cx="45.0" cy="5.4" r="0.46" fill="#737373" opacity="0.47"/><circle cx="58.6" cy="73.7" r="0.84" fill="#7d7d7d" opacity="0.83"/><circle cx="59.8" cy="30.9" r="2.56" fill="#828282" opacity="0.54"/><circle cx="13.8" cy="32.6" r="1.2" fill="#fff" fill-opacity="0.12" stroke="#6a6a6a" stroke-width="0.8" opacity="0.38"/></g>
<rect width="103.7" height="77.8" filter="url(#grain)" opacity="0.05"/>
<g filter="url(#bl05)"><ellipse cx="67.1" cy="49.2" rx="9.6" ry="11.2" fill="#979797" stroke="#6a6a6a" stroke-width="1.2"/><circle cx="62.6" cy="50.2" r="1.0" fill="#555" opacity="0.64"/><circle cx="74.0" cy="53.3" r="0.9" fill="#555" opacity="0.36"/><circle cx="60.8" cy="55.1" r="1.2" fill="#555" opacity="0.44"/><circle cx="67.7" cy="57.5" r="1.3" fill="#555" opacity="0.39"/><circle cx="66.7" cy="58.4" r="1.2" fill="#555" opacity="0.44"/><circle cx="74.4" cy="47.8" r="0.7" fill="#555" opacity="0.65"/><circle cx="69.0" cy="47.2" r="1.2" fill="#555" opacity="0.53"/><circle cx="70.6" cy="45.1" r="0.9" fill="#555" opacity="0.43"/><circle cx="68.8" cy="43.9" r="1.3" fill="#555" opacity="0.67"/><circle cx="71.6" cy="51.6" r="1.3" fill="#555" opacity="0.37"/><circle cx="65.3" cy="47.0" r="0.6" fill="#555" opacity="0.47"/><circle cx="71.3" cy="46.6" r="0.9" fill="#555" opacity="0.68"/><circle cx="71.6" cy="46.1" r="1.0" fill="#555" opacity="0.53"/><circle cx="68.9" cy="46.3" r="0.8" fill="#555" opacity="0.58"/><circle cx="68.0" cy="50.6" r="1.0" fill="#555" opacity="0.41"/><circle cx="63.4" cy="49.7" r="0.7" fill="#555" opacity="0.60"/><circle cx="67.1" cy="53.2" r="0.9" fill="#555" opacity="0.53"/><circle cx="61.5" cy="51.3" r="1.2" fill="#555" opacity="0.46"/><circle cx="65.6" cy="57.5" r="1.4" fill="#555" opacity="0.53"/><circle cx="62.8" cy="41.9" r="0.6" fill="#555" opacity="0.67"/><circle cx="72.5" cy="52.4" r="0.5" fill="#555" opacity="0.44"/><circle cx="73.5" cy="44.2" r="1.1" fill="#555" opacity="0.65"/><circle cx="61.1" cy="47.7" r="0.9" fill="#555" opacity="0.60"/><circle cx="66.8" cy="54.8" r="0.7" fill="#555" opacity="0.68"/><circle cx="73.1" cy="49.4" r="1.3" fill="#555" opacity="0.35"/><circle cx="66.7" cy="51.6" r="0.9" fill="#555" opacity="0.36"/><circle cx="68.3" cy="41.9" r="1.1" fill="#555" opacity="0.63"/><circle cx="64.7" cy="49.1" r="1.0" fill="#555" opacity="0.38"/><circle cx="65.3" cy="47.0" r="1.2" fill="#555" opacity="0.48"/><circle cx="65.1" cy="54.1" r="1.1" fill="#555" opacity="0.43"/><circle cx="67.1" cy="51.9" r="0.9" fill="#555" opacity="0.49"/><circle cx="71.9" cy="55.8" r="0.5" fill="#555" opacity="0.66"/><circle cx="62.2" cy="45.0" r="0.8" fill="#555" opacity="0.69"/><circle cx="62.2" cy="46.2" r="0.6" fill="#555" opacity="0.52"/><circle cx="71.1" cy="46.2" r="1.1" fill="#555" opacity="0.43"/><circle cx="70.3" cy="48.6" r="0.5" fill="#555" opacity="0.50"/><circle cx="67.1" cy="45.7" r="1.1" fill="#555" opacity="0.57"/></g>
<g filter="url(#bl05)"><ellipse cx="68" cy="46" rx="4" ry="3" fill="#6e6e6e" stroke="#6e6e6e" stroke-width="0.5"/><circle cx="67.6" cy="47.1" r="1.0" fill="#333" opacity="0.50"/><circle cx="71.1" cy="45.1" r="1.2" fill="#333" opacity="0.33"/><circle cx="68.1" cy="45.6" r="0.5" fill="#333" opacity="0.48"/></g>
<ellipse cx="19.5" cy="51.5" rx="3.8" ry="3.8" fill="#dcdcdc" stroke="#666" stroke-width="1.2" opacity="1" filter="url(#bl05)"/>
<ellipse cx="35.4" cy="14" rx="2.5" ry="2.5" fill="#f4f4f4" stroke="#888" stroke-width="0.8" opacity="1" filter="url(#bl05)"/>
<ellipse cx="96.5" cy="11.7" rx="2.8" ry="2.2" fill="#f4f4f4" stroke="#999" stroke-width="0.8" opacity="1" filter="url(#bl05)"/>
<ellipse cx="12.5" cy="31.2" rx="4" ry="4" fill="#b4b4b4" stroke="none" stroke-width="0" opacity="0.7" filter="url(#bl1)"/>
<ellipse cx="60" cy="75" rx="5" ry="3" fill="#b8b8b8" stroke="none" stroke-width="0" opacity="0.6" filter="url(#bl1)"/>
<rect width="103.7" height="77.8" fill="url(#vig)"/>
</svg>
<rect x="434.6" y="558.6" width="103.7" height="77.8" fill="none" stroke="#444" stroke-width="1"/>
<svg x="541.3" y="558.6" width="104.5" height="77.8" viewBox="0 0 104.5 77.8" overflow="hidden">
<rect width="104.5" height="77.8" fill="#c8c8c8"/>
<rect width="104.5" height="77.8" filter="url(#mott)" opacity="0.12"/>
<g filter="url(#bl05)"><circle cx="23.7" cy="74.9" r="0.49" fill="#858585" opacity="0.47"/><circle cx="14.3" cy="63.1" r="0.75" fill="#717171" opacity="0.71"/><circle cx="48.0" cy="35.3" r="0.75" fill="#646464" opacity="0.81"/><circle cx="42.1" cy="37.7" r="0.93" fill="#848484" opacity="0.56"/><circle cx="42.6" cy="70.2" r="1.61" fill="#878787" opacity="0.58"/><circle cx="10.2" cy="63.3" r="1.2" fill="#fff" fill-opacity="0.12" stroke="#6a6a6a" stroke-width="0.8" opacity="0.45"/></g>
<rect width="104.5" height="77.8" filter="url(#grain)" opacity="0.05"/>
<g filter="url(#bl05)"><ellipse cx="22.1" cy="35.1" rx="8.3" ry="7.3" fill="#8e8e8e" stroke="#5a5a5a" stroke-width="1.3"/><circle cx="24.6" cy="35.9" r="0.7" fill="#555" opacity="0.62"/><circle cx="18.9" cy="39.8" r="0.9" fill="#555" opacity="0.67"/><circle cx="24.1" cy="38.2" r="1.3" fill="#555" opacity="0.60"/><circle cx="20.8" cy="32.4" r="1.1" fill="#555" opacity="0.41"/><circle cx="18.7" cy="38.7" r="1.3" fill="#555" opacity="0.41"/><circle cx="23.4" cy="37.9" r="1.4" fill="#555" opacity="0.64"/><circle cx="24.1" cy="38.1" r="0.7" fill="#555" opacity="0.54"/><circle cx="26.7" cy="33.2" r="0.8" fill="#555" opacity="0.47"/><circle cx="27.5" cy="34.1" r="0.5" fill="#555" opacity="0.43"/><circle cx="25.4" cy="32.2" r="1.0" fill="#555" opacity="0.67"/><circle cx="25.0" cy="37.9" r="0.6" fill="#555" opacity="0.39"/><circle cx="20.8" cy="39.0" r="0.7" fill="#555" opacity="0.41"/><circle cx="22.6" cy="39.3" r="0.9" fill="#555" opacity="0.53"/><circle cx="21.2" cy="38.2" r="0.9" fill="#555" opacity="0.69"/><circle cx="20.9" cy="32.8" r="1.2" fill="#555" opacity="0.48"/><circle cx="23.7" cy="33.7" r="0.5" fill="#555" opacity="0.62"/><circle cx="15.1" cy="34.2" r="1.0" fill="#555" opacity="0.69"/><circle cx="16.5" cy="32.0" r="1.4" fill="#555" opacity="0.62"/><circle cx="16.7" cy="31.7" r="1.2" fill="#555" opacity="0.57"/><circle cx="19.4" cy="38.3" r="0.6" fill="#555" opacity="0.56"/><circle cx="17.2" cy="36.5" r="1.0" fill="#555" opacity="0.62"/></g>
<ellipse cx="14.3" cy="44.5" rx="2.6" ry="2.6" fill="#e0e0e0" stroke="#777" stroke-width="0.9" opacity="1" filter="url(#bl05)"/>
<ellipse cx="91.6" cy="60.6" rx="3.6" ry="3.6" fill="#888" stroke="#555" stroke-width="1.2" opacity="1" filter="url(#bl05)"/>
<ellipse cx="42.4" cy="69.9" rx="3" ry="3" fill="#999" stroke="#666" stroke-width="1" opacity="1" filter="url(#bl05)"/>
<ellipse cx="95.5" cy="18.7" rx="1.6" ry="1.6" fill="#fafafa" stroke="none" stroke-width="0" opacity="1" filter="url(#bl05)"/>
<ellipse cx="83" cy="53" rx="6" ry="5" fill="#b4b4b4" stroke="none" stroke-width="0" opacity="0.6" filter="url(#bl1)"/>
<ellipse cx="31" cy="15" rx="2.5" ry="2.5" fill="#aaa" stroke="none" stroke-width="0" opacity="0.6" filter="url(#bl05)"/>
<ellipse cx="60" cy="10" rx="3" ry="3" fill="#b4b4b4" stroke="none" stroke-width="0" opacity="0.6" filter="url(#bl05)"/>
<rect width="104.5" height="77.8" fill="url(#vig)"/>
</svg>
<rect x="541.3" y="558.6" width="104.5" height="77.8" fill="none" stroke="#444" stroke-width="1"/>
<svg x="434.6" y="639.2" width="103.7" height="77.8" viewBox="0 0 103.7 77.8" overflow="hidden">
<rect width="103.7" height="77.8" fill="#eeeeee"/>
<rect width="103.7" height="77.8" filter="url(#mott)" opacity="0.05"/>
<g filter="url(#bl05)"><circle cx="48.0" cy="29.0" r="0.50" fill="#838383" opacity="0.45"/><circle cx="52.1" cy="69.9" r="0.46" fill="#7b7b7b" opacity="0.82"/><circle cx="72.6" cy="56.7" r="0.52" fill="#747474" opacity="0.83"/><circle cx="43.8" cy="13.1" r="0.44" fill="#606060" opacity="0.65"/><circle cx="95.8" cy="45.9" r="0.94" fill="#707070" opacity="0.77"/><circle cx="92.0" cy="71.5" r="0.54" fill="#666666" opacity="0.74"/><circle cx="43.7" cy="6.8" r="0.59" fill="#656565" opacity="0.61"/><circle cx="35.4" cy="3.4" r="0.90" fill="#585858" opacity="0.80"/><circle cx="5.7" cy="29.5" r="0.74" fill="#595959" opacity="0.54"/><circle cx="76.3" cy="66.2" r="1.07" fill="#585858" opacity="0.50"/><circle cx="60.0" cy="69.7" r="0.54" fill="#585858" opacity="0.81"/><circle cx="13.8" cy="71.4" r="0.75" fill="#7c7c7c" opacity="0.65"/><circle cx="95.5" cy="32.7" r="0.68" fill="#808080" opacity="0.76"/><circle cx="72.7" cy="11.3" r="1.06" fill="#868686" opacity="0.83"/><circle cx="5.6" cy="43.2" r="0.82" fill="#616161" opacity="0.75"/><circle cx="76.4" cy="44.8" r="0.42" fill="#858585" opacity="0.61"/><circle cx="94.0" cy="12.6" r="1.81" fill="#979797" opacity="0.65"/><circle cx="54.1" cy="44.0" r="2.10" fill="#969696" opacity="0.39"/><circle cx="91.4" cy="28.4" r="1.34" fill="#8c8c8c" opacity="0.70"/><circle cx="59.6" cy="1.4" r="2.28" fill="#959595" opacity="0.35"/><circle cx="11.6" cy="17.2" r="1.43" fill="#858585" opacity="0.46"/><circle cx="29.5" cy="40.3" r="1.2" fill="#fff" fill-opacity="0.12" stroke="#333" stroke-width="0.8" opacity="0.32"/><circle cx="58.1" cy="33.3" r="1.1" fill="#fff" fill-opacity="0.12" stroke="#333" stroke-width="0.8" opacity="0.43"/><circle cx="58.7" cy="5.2" r="1.0" fill="#fff" fill-opacity="0.12" stroke="#333" stroke-width="0.8" opacity="0.25"/></g>
<rect width="103.7" height="77.8" filter="url(#grain)" opacity="0.05"/>
<ellipse cx="62.4" cy="58.7" rx="8" ry="7" fill="#a8a8a8" stroke="none" stroke-width="0" opacity="0.9" filter="url(#bl2)"/>
<ellipse cx="43.7" cy="52.5" rx="7" ry="7" fill="#b4b4b4" stroke="none" stroke-width="0" opacity="0.9" filter="url(#bl2)"/>
<ellipse cx="92.1" cy="22" rx="6" ry="7" fill="#bbb" stroke="none" stroke-width="0" opacity="0.9" filter="url(#bl2)"/>
<ellipse cx="23.4" cy="66.5" rx="7" ry="6" fill="#b0b0b0" stroke="none" stroke-width="0" opacity="0.9" filter="url(#bl2)"/>
<g filter="url(#bl05)"><ellipse cx="43.7" cy="14.2" rx="7" ry="6" fill="#7a7a7a" stroke="#444" stroke-width="1"/><circle cx="41.7" cy="11.5" r="0.8" fill="#333" opacity="0.41"/><circle cx="47.8" cy="12.4" r="0.9" fill="#333" opacity="0.49"/><circle cx="41.4" cy="10.0" r="0.8" fill="#333" opacity="0.47"/><circle cx="42.7" cy="18.3" r="1.2" fill="#333" opacity="0.28"/><circle cx="42.1" cy="11.9" r="1.0" fill="#333" opacity="0.36"/><circle cx="43.5" cy="15.5" r="1.4" fill="#333" opacity="0.48"/><circle cx="46.9" cy="15.9" r="0.7" fill="#333" opacity="0.49"/><circle cx="46.0" cy="16.7" r="1.0" fill="#333" opacity="0.28"/><circle cx="40.2" cy="17.2" r="0.6" fill="#333" opacity="0.44"/><circle cx="47.8" cy="14.4" r="1.2" fill="#333" opacity="0.36"/><circle cx="40.9" cy="14.6" r="0.7" fill="#333" opacity="0.49"/><circle cx="39.4" cy="17.6" r="0.5" fill="#333" opacity="0.32"/><circle cx="46.1" cy="11.9" r="0.8" fill="#333" opacity="0.41"/><circle cx="43.7" cy="17.0" r="1.0" fill="#333" opacity="0.30"/></g>
<g filter="url(#bl05)"><ellipse cx="52.3" cy="31.4" rx="13.6" ry="13" fill="#1e1e1e" stroke="#2a2a2a" stroke-width="1.6"/><circle cx="49.6" cy="39.8" r="1.2" fill="#000" opacity="0.32"/><circle cx="44.7" cy="31.1" r="1.1" fill="#000" opacity="0.42"/><circle cx="62.6" cy="28.5" r="0.9" fill="#000" opacity="0.32"/><circle cx="47.7" cy="36.5" r="1.0" fill="#000" opacity="0.26"/><circle cx="42.8" cy="32.4" r="0.7" fill="#000" opacity="0.35"/><circle cx="59.2" cy="31.9" r="0.6" fill="#000" opacity="0.44"/><circle cx="48.5" cy="25.6" r="0.5" fill="#000" opacity="0.26"/><circle cx="56.0" cy="38.5" r="0.6" fill="#000" opacity="0.27"/><circle cx="54.6" cy="40.7" r="1.1" fill="#000" opacity="0.50"/><circle cx="56.3" cy="39.7" r="1.0" fill="#000" opacity="0.50"/><circle cx="56.7" cy="38.4" r="1.1" fill="#000" opacity="0.27"/><circle cx="55.5" cy="21.5" r="1.2" fill="#000" opacity="0.33"/><circle cx="56.3" cy="27.3" r="1.2" fill="#000" opacity="0.29"/><circle cx="54.2" cy="40.2" r="1.2" fill="#000" opacity="0.50"/><circle cx="53.6" cy="20.9" r="1.4" fill="#000" opacity="0.47"/><circle cx="62.5" cy="35.5" r="0.7" fill="#000" opacity="0.46"/><circle cx="59.2" cy="28.0" r="1.0" fill="#000" opacity="0.28"/><circle cx="54.8" cy="41.1" r="0.8" fill="#000" opacity="0.32"/><circle cx="47.1" cy="25.8" r="0.6" fill="#000" opacity="0.45"/><circle cx="53.5" cy="32.2" r="1.0" fill="#000" opacity="0.38"/><circle cx="53.3" cy="41.7" r="0.8" fill="#000" opacity="0.46"/><circle cx="46.0" cy="30.5" r="1.2" fill="#000" opacity="0.32"/><circle cx="52.4" cy="35.4" r="1.2" fill="#000" opacity="0.30"/><circle cx="51.6" cy="28.0" r="1.3" fill="#000" opacity="0.30"/><circle cx="61.7" cy="27.7" r="1.0" fill="#000" opacity="0.27"/><circle cx="52.4" cy="42.3" r="1.1" fill="#000" opacity="0.46"/><circle cx="51.9" cy="31.8" r="0.5" fill="#000" opacity="0.34"/><circle cx="62.8" cy="29.9" r="0.6" fill="#000" opacity="0.47"/><circle cx="53.6" cy="21.6" r="1.3" fill="#000" opacity="0.43"/><circle cx="62.0" cy="31.8" r="1.0" fill="#000" opacity="0.42"/><circle cx="44.5" cy="34.1" r="1.3" fill="#000" opacity="0.29"/><circle cx="61.3" cy="27.3" r="1.2" fill="#000" opacity="0.34"/><circle cx="47.3" cy="28.3" r="1.3" fill="#000" opacity="0.31"/><circle cx="61.3" cy="29.1" r="0.7" fill="#000" opacity="0.36"/><circle cx="61.6" cy="27.2" r="1.3" fill="#000" opacity="0.48"/><circle cx="48.1" cy="31.9" r="1.0" fill="#000" opacity="0.27"/><circle cx="48.8" cy="22.6" r="1.0" fill="#000" opacity="0.37"/><circle cx="46.4" cy="24.9" r="0.7" fill="#000" opacity="0.48"/><circle cx="55.1" cy="40.2" r="0.9" fill="#000" opacity="0.29"/><circle cx="59.8" cy="38.9" r="1.1" fill="#000" opacity="0.29"/><circle cx="59.0" cy="40.1" r="0.8" fill="#000" opacity="0.29"/><circle cx="50.9" cy="30.5" r="1.1" fill="#000" opacity="0.36"/><circle cx="57.1" cy="37.7" r="1.1" fill="#000" opacity="0.31"/><circle cx="43.0" cy="28.5" r="0.8" fill="#000" opacity="0.46"/><circle cx="59.2" cy="32.0" r="1.2" fill="#000" opacity="0.26"/><circle cx="50.7" cy="33.7" r="1.4" fill="#000" opacity="0.27"/><circle cx="51.5" cy="27.6" r="1.3" fill="#000" opacity="0.41"/><circle cx="42.0" cy="26.9" r="0.5" fill="#000" opacity="0.46"/><circle cx="46.2" cy="28.6" r="0.8" fill="#000" opacity="0.46"/><circle cx="48.6" cy="23.2" r="1.2" fill="#000" opacity="0.27"/><circle cx="51.9" cy="27.0" r="1.1" fill="#000" opacity="0.39"/><circle cx="43.0" cy="29.9" r="0.5" fill="#000" opacity="0.26"/><circle cx="49.4" cy="38.4" r="1.2" fill="#000" opacity="0.34"/><circle cx="51.6" cy="36.5" r="0.6" fill="#000" opacity="0.40"/><circle cx="63.7" cy="30.3" r="0.8" fill="#000" opacity="0.49"/><circle cx="57.1" cy="33.2" r="0.7" fill="#000" opacity="0.36"/><circle cx="58.8" cy="31.4" r="1.2" fill="#000" opacity="0.49"/><circle cx="55.8" cy="35.8" r="0.5" fill="#000" opacity="0.39"/><circle cx="55.9" cy="22.7" r="1.2" fill="#000" opacity="0.49"/><circle cx="49.9" cy="36.0" r="1.3" fill="#000" opacity="0.47"/><circle cx="46.6" cy="24.4" r="0.9" fill="#000" opacity="0.40"/></g>
<g filter="url(#bl05)"><ellipse cx="25.7" cy="31.4" rx="11" ry="10" fill="#747474" stroke="#3a3a3a" stroke-width="1.3"/><circle cx="31.8" cy="36.1" r="1.3" fill="#333" opacity="0.53"/><circle cx="20.8" cy="30.4" r="0.8" fill="#333" opacity="0.48"/><circle cx="17.4" cy="32.3" r="1.1" fill="#333" opacity="0.51"/><circle cx="23.2" cy="38.2" r="1.0" fill="#333" opacity="0.58"/><circle cx="30.9" cy="36.5" r="0.8" fill="#333" opacity="0.62"/><circle cx="30.2" cy="35.7" r="1.3" fill="#333" opacity="0.44"/><circle cx="27.8" cy="32.6" r="1.3" fill="#333" opacity="0.61"/><circle cx="24.6" cy="26.3" r="0.7" fill="#333" opacity="0.64"/><circle cx="17.7" cy="32.3" r="0.7" fill="#333" opacity="0.44"/><circle cx="32.3" cy="25.5" r="1.2" fill="#333" opacity="0.63"/><circle cx="25.2" cy="27.9" r="0.8" fill="#333" opacity="0.51"/><circle cx="25.8" cy="31.1" r="0.9" fill="#333" opacity="0.42"/><circle cx="28.1" cy="24.9" r="0.8" fill="#333" opacity="0.51"/><circle cx="23.8" cy="34.4" r="0.8" fill="#333" opacity="0.63"/><circle cx="25.2" cy="31.6" r="1.0" fill="#333" opacity="0.44"/><circle cx="30.6" cy="27.1" r="0.8" fill="#333" opacity="0.62"/><circle cx="27.8" cy="35.1" r="0.8" fill="#333" opacity="0.55"/><circle cx="25.5" cy="30.2" r="0.8" fill="#333" opacity="0.53"/><circle cx="24.7" cy="31.6" r="1.2" fill="#333" opacity="0.66"/><circle cx="21.8" cy="31.5" r="0.8" fill="#333" opacity="0.45"/><circle cx="19.1" cy="34.6" r="1.4" fill="#333" opacity="0.59"/><circle cx="33.4" cy="34.8" r="0.6" fill="#333" opacity="0.48"/><circle cx="22.6" cy="24.7" r="1.0" fill="#333" opacity="0.40"/><circle cx="25.6" cy="28.6" r="1.3" fill="#333" opacity="0.38"/><circle cx="18.4" cy="31.8" r="0.9" fill="#333" opacity="0.37"/><circle cx="25.2" cy="24.3" r="1.4" fill="#333" opacity="0.67"/><circle cx="19.7" cy="32.6" r="1.1" fill="#333" opacity="0.61"/><circle cx="32.4" cy="31.4" r="0.7" fill="#333" opacity="0.45"/><circle cx="28.7" cy="38.0" r="0.6" fill="#333" opacity="0.57"/><circle cx="20.0" cy="28.3" r="1.2" fill="#333" opacity="0.59"/><circle cx="25.5" cy="35.7" r="0.6" fill="#333" opacity="0.37"/><circle cx="20.0" cy="35.7" r="0.6" fill="#333" opacity="0.58"/><circle cx="28.0" cy="23.8" r="1.4" fill="#333" opacity="0.47"/><circle cx="34.3" cy="33.1" r="0.9" fill="#333" opacity="0.47"/><circle cx="21.4" cy="27.7" r="0.8" fill="#333" opacity="0.36"/><circle cx="34.0" cy="29.3" r="1.1" fill="#333" opacity="0.67"/><circle cx="23.0" cy="27.4" r="1.0" fill="#333" opacity="0.70"/><circle cx="24.8" cy="32.2" r="1.1" fill="#333" opacity="0.39"/></g>
<g filter="url(#bl05)" transform="rotate(15 13.2 53.3)"><ellipse cx="13.2" cy="53.3" rx="10" ry="7.5" fill="#727272" stroke="#444" stroke-width="1.1"/><circle cx="18.7" cy="57.4" r="1.2" fill="#333" opacity="0.56"/><circle cx="11.7" cy="59.3" r="0.8" fill="#333" opacity="0.56"/><circle cx="5.9" cy="50.4" r="0.5" fill="#333" opacity="0.69"/><circle cx="10.2" cy="48.9" r="0.8" fill="#333" opacity="0.54"/><circle cx="10.0" cy="58.2" r="0.6" fill="#333" opacity="0.48"/><circle cx="5.8" cy="51.0" r="1.1" fill="#333" opacity="0.67"/><circle cx="17.0" cy="51.8" r="1.2" fill="#333" opacity="0.48"/><circle cx="8.9" cy="56.6" r="1.2" fill="#333" opacity="0.58"/><circle cx="18.2" cy="48.5" r="1.2" fill="#333" opacity="0.69"/><circle cx="9.3" cy="56.7" r="1.4" fill="#333" opacity="0.39"/><circle cx="19.8" cy="56.6" r="1.4" fill="#333" opacity="0.53"/><circle cx="12.2" cy="53.1" r="1.3" fill="#333" opacity="0.66"/><circle cx="17.7" cy="51.3" r="0.7" fill="#333" opacity="0.66"/><circle cx="17.9" cy="48.3" r="0.9" fill="#333" opacity="0.65"/><circle cx="12.2" cy="52.9" r="0.5" fill="#333" opacity="0.58"/><circle cx="11.0" cy="53.2" r="0.7" fill="#333" opacity="0.65"/><circle cx="11.0" cy="55.5" r="0.6" fill="#333" opacity="0.65"/><circle cx="15.4" cy="58.6" r="1.2" fill="#333" opacity="0.39"/><circle cx="9.8" cy="53.7" r="0.9" fill="#333" opacity="0.39"/><circle cx="21.0" cy="53.4" r="0.7" fill="#333" opacity="0.67"/><circle cx="9.5" cy="49.8" r="1.2" fill="#333" opacity="0.57"/><circle cx="9.9" cy="56.7" r="0.9" fill="#333" opacity="0.68"/><circle cx="19.0" cy="50.1" r="1.1" fill="#333" opacity="0.64"/><circle cx="10.7" cy="50.1" r="0.6" fill="#333" opacity="0.42"/><circle cx="20.0" cy="55.1" r="1.1" fill="#333" opacity="0.70"/><circle cx="21.1" cy="54.4" r="0.7" fill="#333" opacity="0.50"/></g>
<g filter="url(#bl05)"><ellipse cx="67.1" cy="13.4" rx="5" ry="5" fill="#7a7a7a" stroke="#555" stroke-width="1"/><circle cx="65.4" cy="9.6" r="1.4" fill="#333" opacity="0.45"/><circle cx="70.3" cy="13.4" r="1.0" fill="#333" opacity="0.40"/><circle cx="64.6" cy="11.6" r="1.4" fill="#333" opacity="0.28"/><circle cx="65.6" cy="15.4" r="1.3" fill="#333" opacity="0.37"/><circle cx="66.6" cy="16.2" r="1.1" fill="#333" opacity="0.36"/><circle cx="68.3" cy="16.3" r="1.4" fill="#333" opacity="0.30"/><circle cx="66.9" cy="10.3" r="0.7" fill="#333" opacity="0.43"/><circle cx="65.9" cy="11.3" r="0.6" fill="#333" opacity="0.44"/></g>
<g filter="url(#bl05)"><ellipse cx="85.9" cy="45.4" rx="6.5" ry="6.5" fill="#666" stroke="#444" stroke-width="1"/><circle cx="86.6" cy="48.6" r="1.1" fill="#333" opacity="0.34"/><circle cx="89.3" cy="47.4" r="0.7" fill="#333" opacity="0.47"/><circle cx="83.5" cy="49.3" r="0.9" fill="#333" opacity="0.41"/><circle cx="88.2" cy="44.8" r="0.7" fill="#333" opacity="0.26"/><circle cx="82.7" cy="45.8" r="0.8" fill="#333" opacity="0.28"/><circle cx="83.1" cy="42.2" r="1.4" fill="#333" opacity="0.47"/><circle cx="89.0" cy="48.3" r="0.5" fill="#333" opacity="0.32"/><circle cx="87.1" cy="40.0" r="0.7" fill="#333" opacity="0.26"/><circle cx="88.1" cy="45.8" r="1.0" fill="#333" opacity="0.43"/><circle cx="91.2" cy="44.9" r="0.6" fill="#333" opacity="0.41"/><circle cx="84.1" cy="41.7" r="0.7" fill="#333" opacity="0.30"/><circle cx="84.4" cy="42.7" r="0.9" fill="#333" opacity="0.36"/><circle cx="82.7" cy="47.3" r="0.7" fill="#333" opacity="0.49"/><circle cx="85.3" cy="43.5" r="1.0" fill="#333" opacity="0.44"/></g>
<g filter="url(#bl05)"><ellipse cx="98.4" cy="60.3" rx="6" ry="7" fill="#888" stroke="#555" stroke-width="1"/><circle cx="98.0" cy="56.7" r="1.4" fill="#333" opacity="0.25"/><circle cx="95.2" cy="58.7" r="0.8" fill="#333" opacity="0.29"/><circle cx="102.4" cy="59.8" r="0.6" fill="#333" opacity="0.25"/><circle cx="95.3" cy="64.1" r="0.6" fill="#333" opacity="0.31"/><circle cx="101.1" cy="62.7" r="0.9" fill="#333" opacity="0.46"/><circle cx="99.9" cy="60.3" r="0.6" fill="#333" opacity="0.35"/><circle cx="97.5" cy="57.8" r="1.1" fill="#333" opacity="0.27"/><circle cx="101.4" cy="57.4" r="0.5" fill="#333" opacity="0.40"/><circle cx="98.5" cy="55.9" r="1.4" fill="#333" opacity="0.41"/><circle cx="100.4" cy="60.6" r="0.8" fill="#333" opacity="0.30"/><circle cx="98.9" cy="64.3" r="1.2" fill="#333" opacity="0.49"/><circle cx="98.5" cy="64.0" r="0.9" fill="#333" opacity="0.36"/><circle cx="100.3" cy="63.9" r="1.1" fill="#333" opacity="0.35"/><circle cx="94.8" cy="62.4" r="1.2" fill="#333" opacity="0.30"/></g>
<g filter="url(#bl05)"><ellipse cx="67.1" cy="73.6" rx="5.5" ry="5" fill="#666" stroke="#444" stroke-width="1"/><circle cx="63.5" cy="72.8" r="1.0" fill="#333" opacity="0.39"/><circle cx="63.8" cy="72.9" r="0.6" fill="#333" opacity="0.37"/><circle cx="65.5" cy="70.4" r="1.1" fill="#333" opacity="0.30"/><circle cx="66.0" cy="72.7" r="1.3" fill="#333" opacity="0.37"/><circle cx="70.3" cy="75.0" r="0.8" fill="#333" opacity="0.26"/><circle cx="68.3" cy="70.3" r="1.4" fill="#333" opacity="0.47"/><circle cx="71.1" cy="75.3" r="1.0" fill="#333" opacity="0.47"/><circle cx="68.3" cy="73.4" r="1.3" fill="#333" opacity="0.45"/><circle cx="65.9" cy="74.7" r="1.0" fill="#333" opacity="0.47"/></g>
<ellipse cx="79.6" cy="1.7" rx="7" ry="5" fill="#555" stroke="none" stroke-width="0" opacity="1" filter="url(#bl05)"/>
<ellipse cx="21.8" cy="75.1" rx="5" ry="4" fill="#666" stroke="none" stroke-width="0" opacity="1" filter="url(#bl05)"/>
<ellipse cx="28" cy="45" rx="3" ry="3" fill="#444" stroke="none" stroke-width="0" opacity="1" filter="url(#bl05)"/>
</svg>
<rect x="434.6" y="639.2" width="103.7" height="77.8" fill="none" stroke="#444" stroke-width="1"/>
<svg x="541.3" y="639.2" width="104.5" height="77.8" viewBox="0 0 104.5 77.8" overflow="hidden">
<rect width="104.5" height="77.8" fill="#f0f0f0"/>
<rect width="104.5" height="77.8" filter="url(#mott)" opacity="0.05"/>
<g filter="url(#bl05)"><circle cx="59.7" cy="33.4" r="0.80" fill="#656565" opacity="0.64"/><circle cx="51.3" cy="21.6" r="0.97" fill="#5a5a5a" opacity="0.66"/><circle cx="34.3" cy="19.4" r="1.07" fill="#6f6f6f" opacity="0.47"/><circle cx="89.9" cy="46.9" r="0.67" fill="#6a6a6a" opacity="0.78"/><circle cx="27.4" cy="13.6" r="0.61" fill="#6f6f6f" opacity="0.50"/><circle cx="80.2" cy="76.4" r="1.08" fill="#7f7f7f" opacity="0.60"/><circle cx="60.9" cy="18.3" r="0.54" fill="#6b6b6b" opacity="0.66"/><circle cx="80.7" cy="18.7" r="0.87" fill="#747474" opacity="0.62"/><circle cx="6.8" cy="45.5" r="0.99" fill="#626262" opacity="0.79"/><circle cx="101.3" cy="18.5" r="0.42" fill="#6b6b6b" opacity="0.78"/><circle cx="68.7" cy="41.5" r="1.00" fill="#616161" opacity="0.60"/><circle cx="98.8" cy="71.0" r="0.50" fill="#5e5e5e" opacity="0.63"/><circle cx="102.6" cy="14.9" r="1.56" fill="#9a9a9a" opacity="0.51"/><circle cx="71.1" cy="11.2" r="1.83" fill="#878787" opacity="0.44"/><circle cx="31.6" cy="51.4" r="2.51" fill="#8b8b8b" opacity="0.62"/><circle cx="50.2" cy="27.0" r="1.70" fill="#808080" opacity="0.54"/><circle cx="4.6" cy="69.8" r="1.1" fill="#fff" fill-opacity="0.12" stroke="#333" stroke-width="0.8" opacity="0.29"/><circle cx="42.3" cy="12.3" r="0.9" fill="#fff" fill-opacity="0.12" stroke="#333" stroke-width="0.8" opacity="0.36"/></g>
<rect width="104.5" height="77.8" filter="url(#grain)" opacity="0.05"/>
<ellipse cx="8" cy="14" rx="8" ry="8" fill="#bbb" stroke="none" stroke-width="0" opacity="0.9" filter="url(#bl2)"/>
<g filter="url(#bl05)" transform="rotate(-10 89.3 26.7)"><ellipse cx="89.3" cy="26.7" rx="8" ry="12" fill="#8a8a8a" stroke="#555" stroke-width="1.2"/><circle cx="86.0" cy="31.0" r="0.8" fill="#333" opacity="0.36"/><circle cx="91.5" cy="25.8" r="1.4" fill="#333" opacity="0.30"/><circle cx="93.0" cy="24.6" r="1.0" fill="#333" opacity="0.39"/><circle cx="85.5" cy="33.6" r="0.6" fill="#333" opacity="0.35"/><circle cx="89.6" cy="36.2" r="0.7" fill="#333" opacity="0.26"/><circle cx="83.7" cy="27.0" r="0.6" fill="#333" opacity="0.43"/><circle cx="87.6" cy="26.3" r="1.0" fill="#333" opacity="0.30"/><circle cx="90.3" cy="28.0" r="0.7" fill="#333" opacity="0.38"/><circle cx="91.5" cy="23.8" r="1.3" fill="#333" opacity="0.43"/><circle cx="88.0" cy="32.8" r="1.3" fill="#333" opacity="0.45"/><circle cx="87.6" cy="27.4" r="0.9" fill="#333" opacity="0.43"/><circle cx="92.0" cy="22.0" r="0.6" fill="#333" opacity="0.45"/><circle cx="93.0" cy="33.4" r="0.6" fill="#333" opacity="0.48"/><circle cx="89.8" cy="29.6" r="1.0" fill="#333" opacity="0.41"/><circle cx="90.4" cy="34.6" r="0.6" fill="#333" opacity="0.43"/><circle cx="95.7" cy="26.6" r="1.3" fill="#333" opacity="0.37"/><circle cx="87.9" cy="35.0" r="0.6" fill="#333" opacity="0.26"/><circle cx="89.8" cy="31.0" r="0.9" fill="#333" opacity="0.36"/><circle cx="85.7" cy="30.2" r="0.9" fill="#333" opacity="0.32"/><circle cx="92.0" cy="32.7" r="1.2" fill="#333" opacity="0.42"/><circle cx="83.2" cy="22.6" r="1.1" fill="#333" opacity="0.30"/><circle cx="87.7" cy="28.1" r="1.1" fill="#333" opacity="0.28"/><circle cx="85.9" cy="34.2" r="1.4" fill="#333" opacity="0.37"/><circle cx="86.5" cy="22.0" r="1.1" fill="#333" opacity="0.50"/><circle cx="90.6" cy="25.9" r="0.8" fill="#333" opacity="0.41"/><circle cx="91.5" cy="19.3" r="1.1" fill="#333" opacity="0.43"/><circle cx="92.1" cy="26.6" r="1.3" fill="#333" opacity="0.38"/><circle cx="88.4" cy="33.2" r="1.1" fill="#333" opacity="0.32"/><circle cx="86.5" cy="34.8" r="1.3" fill="#333" opacity="0.34"/><circle cx="89.8" cy="19.5" r="0.6" fill="#333" opacity="0.27"/><circle cx="85.0" cy="25.2" r="0.6" fill="#333" opacity="0.47"/><circle cx="90.3" cy="18.9" r="0.6" fill="#333" opacity="0.34"/><circle cx="85.5" cy="31.3" r="0.9" fill="#333" opacity="0.30"/></g>
<ellipse cx="90" cy="30" rx="3" ry="3" fill="#555" stroke="none" stroke-width="0" opacity="0.8" filter="url(#bl05)"/>
<g filter="url(#bl05)"><ellipse cx="88.5" cy="45.4" rx="5.5" ry="5.5" fill="#666" stroke="#333" stroke-width="1.2"/><circle cx="87.1" cy="44.7" r="1.1" fill="#333" opacity="0.47"/><circle cx="89.0" cy="49.1" r="0.6" fill="#333" opacity="0.40"/><circle cx="88.2" cy="48.2" r="1.3" fill="#333" opacity="0.27"/><circle cx="91.0" cy="42.1" r="0.6" fill="#333" opacity="0.36"/><circle cx="87.2" cy="46.0" r="0.8" fill="#333" opacity="0.28"/><circle cx="90.4" cy="48.1" r="0.9" fill="#333" opacity="0.29"/><circle cx="89.4" cy="41.9" r="1.3" fill="#333" opacity="0.45"/><circle cx="92.0" cy="42.7" r="0.7" fill="#333" opacity="0.36"/><circle cx="86.2" cy="41.7" r="0.6" fill="#333" opacity="0.41"/><circle cx="89.7" cy="47.6" r="0.8" fill="#333" opacity="0.42"/></g>
<g filter="url(#bl05)"><ellipse cx="72" cy="48" rx="5" ry="5" fill="#8a8a8a" stroke="#555" stroke-width="1"/><circle cx="70.2" cy="47.7" r="0.7" fill="#333" opacity="0.31"/><circle cx="69.7" cy="49.5" r="0.9" fill="#333" opacity="0.28"/><circle cx="72.8" cy="46.0" r="0.9" fill="#333" opacity="0.43"/><circle cx="72.5" cy="47.7" r="1.1" fill="#333" opacity="0.31"/><circle cx="70.0" cy="46.6" r="0.6" fill="#333" opacity="0.34"/><circle cx="68.9" cy="50.6" r="0.9" fill="#333" opacity="0.25"/><circle cx="73.6" cy="50.3" r="1.4" fill="#333" opacity="0.49"/><circle cx="73.3" cy="47.5" r="1.0" fill="#333" opacity="0.32"/></g>
<g filter="url(#bl05)"><ellipse cx="80" cy="50" rx="4" ry="4" fill="#8a8a8a" stroke="#555" stroke-width="1"/><circle cx="80.1" cy="52.7" r="1.0" fill="#333" opacity="0.46"/><circle cx="77.1" cy="50.9" r="1.2" fill="#333" opacity="0.34"/><circle cx="79.3" cy="52.6" r="0.6" fill="#333" opacity="0.48"/><circle cx="82.0" cy="52.2" r="0.6" fill="#333" opacity="0.30"/><circle cx="81.6" cy="47.6" r="0.9" fill="#333" opacity="0.42"/></g>
<g filter="url(#bl05)"><ellipse cx="68" cy="57" rx="5" ry="4.5" fill="#8a8a8a" stroke="#555" stroke-width="1"/><circle cx="68.9" cy="58.9" r="1.2" fill="#333" opacity="0.31"/><circle cx="66.7" cy="57.5" r="1.1" fill="#333" opacity="0.45"/><circle cx="66.0" cy="59.5" r="1.2" fill="#333" opacity="0.30"/><circle cx="70.0" cy="54.5" r="1.3" fill="#333" opacity="0.46"/><circle cx="68.7" cy="55.5" r="1.0" fill="#333" opacity="0.29"/><circle cx="67.3" cy="53.3" r="0.6" fill="#333" opacity="0.47"/><circle cx="70.6" cy="56.1" r="1.2" fill="#333" opacity="0.30"/></g>
<g filter="url(#bl05)"><ellipse cx="76" cy="62" rx="4.5" ry="4" fill="#8a8a8a" stroke="#555" stroke-width="1"/><circle cx="77.3" cy="64.9" r="1.0" fill="#333" opacity="0.43"/><circle cx="75.6" cy="63.7" r="1.3" fill="#333" opacity="0.44"/><circle cx="74.6" cy="62.3" r="0.5" fill="#333" opacity="0.29"/><circle cx="75.1" cy="58.9" r="1.1" fill="#333" opacity="0.32"/><circle cx="78.6" cy="63.5" r="1.1" fill="#333" opacity="0.34"/><circle cx="77.5" cy="59.3" r="0.5" fill="#333" opacity="0.30"/></g>
<g filter="url(#bl05)"><ellipse cx="62" cy="66" rx="4.5" ry="4.5" fill="#909090" stroke="#555" stroke-width="1"/><circle cx="60.8" cy="68.0" r="1.2" fill="#333" opacity="0.32"/><circle cx="61.7" cy="68.6" r="1.3" fill="#333" opacity="0.50"/><circle cx="63.3" cy="66.1" r="0.5" fill="#333" opacity="0.35"/><circle cx="62.3" cy="67.6" r="0.8" fill="#333" opacity="0.45"/><circle cx="61.2" cy="65.0" r="0.8" fill="#333" opacity="0.31"/><circle cx="59.7" cy="65.2" r="1.2" fill="#333" opacity="0.33"/><circle cx="64.1" cy="64.6" r="0.6" fill="#333" opacity="0.26"/></g>
<g filter="url(#bl05)"><ellipse cx="70.6" cy="72.8" rx="6" ry="4.5" fill="#7a7a7a" stroke="#444" stroke-width="1"/><circle cx="70.6" cy="75.1" r="1.3" fill="#333" opacity="0.47"/><circle cx="65.5" cy="73.1" r="1.2" fill="#333" opacity="0.37"/><circle cx="72.5" cy="75.5" r="1.2" fill="#333" opacity="0.47"/><circle cx="69.7" cy="76.3" r="0.8" fill="#333" opacity="0.44"/><circle cx="73.1" cy="70.2" r="1.3" fill="#333" opacity="0.38"/><circle cx="70.8" cy="71.1" r="0.6" fill="#333" opacity="0.26"/><circle cx="74.3" cy="72.3" r="1.0" fill="#333" opacity="0.29"/><circle cx="75.4" cy="72.1" r="0.9" fill="#333" opacity="0.26"/><circle cx="74.7" cy="73.7" r="1.3" fill="#333" opacity="0.34"/></g>
<g filter="url(#bl05)"><ellipse cx="99.5" cy="55.6" rx="6" ry="7" fill="#8a8a8a" stroke="#555" stroke-width="1"/><circle cx="102.4" cy="51.9" r="0.7" fill="#333" opacity="0.42"/><circle cx="95.9" cy="56.3" r="0.7" fill="#333" opacity="0.47"/><circle cx="104.2" cy="53.4" r="1.0" fill="#333" opacity="0.45"/><circle cx="103.7" cy="56.0" r="0.6" fill="#333" opacity="0.49"/><circle cx="99.7" cy="57.6" r="1.3" fill="#333" opacity="0.49"/><circle cx="99.9" cy="51.7" r="1.0" fill="#333" opacity="0.36"/><circle cx="97.2" cy="58.6" r="0.7" fill="#333" opacity="0.34"/><circle cx="102.4" cy="56.3" r="0.8" fill="#333" opacity="0.41"/><circle cx="97.8" cy="60.9" r="0.8" fill="#333" opacity="0.46"/><circle cx="103.9" cy="58.3" r="0.9" fill="#333" opacity="0.46"/><circle cx="99.9" cy="51.1" r="0.5" fill="#333" opacity="0.26"/><circle cx="94.5" cy="55.5" r="1.0" fill="#333" opacity="0.44"/><circle cx="97.4" cy="55.6" r="1.0" fill="#333" opacity="0.47"/><circle cx="94.9" cy="55.5" r="0.8" fill="#333" opacity="0.37"/></g>
<g filter="url(#bl05)"><ellipse cx="22" cy="14" rx="6" ry="5" fill="#777" stroke="#444" stroke-width="1"/><circle cx="22.5" cy="14.2" r="0.5" fill="#333" opacity="0.50"/><circle cx="21.7" cy="17.1" r="0.7" fill="#333" opacity="0.34"/><circle cx="24.2" cy="12.1" r="0.6" fill="#333" opacity="0.33"/><circle cx="20.4" cy="10.7" r="1.2" fill="#333" opacity="0.36"/><circle cx="26.0" cy="12.9" r="1.0" fill="#333" opacity="0.36"/><circle cx="20.1" cy="13.0" r="1.1" fill="#333" opacity="0.25"/><circle cx="17.5" cy="15.8" r="1.4" fill="#333" opacity="0.29"/><circle cx="17.6" cy="15.6" r="1.2" fill="#333" opacity="0.48"/><circle cx="17.6" cy="12.6" r="0.8" fill="#333" opacity="0.31"/><circle cx="21.1" cy="14.1" r="0.9" fill="#333" opacity="0.48"/></g>
<g filter="url(#bl05)"><ellipse cx="10" cy="30" rx="5" ry="5" fill="#777" stroke="#444" stroke-width="1"/><circle cx="10.0" cy="25.8" r="1.0" fill="#333" opacity="0.37"/><circle cx="7.7" cy="26.9" r="0.5" fill="#333" opacity="0.30"/><circle cx="11.4" cy="27.2" r="0.6" fill="#333" opacity="0.45"/><circle cx="7.0" cy="31.8" r="0.7" fill="#333" opacity="0.41"/><circle cx="7.5" cy="27.5" r="0.5" fill="#333" opacity="0.40"/><circle cx="10.1" cy="28.8" r="1.1" fill="#333" opacity="0.48"/><circle cx="13.9" cy="30.0" r="1.0" fill="#333" opacity="0.32"/><circle cx="9.6" cy="27.4" r="1.1" fill="#333" opacity="0.31"/></g>
<g filter="url(#bl05)"><ellipse cx="8" cy="50" rx="6" ry="6" fill="#777" stroke="#444" stroke-width="1"/><circle cx="7.8" cy="50.5" r="0.9" fill="#333" opacity="0.47"/><circle cx="7.8" cy="45.9" r="0.9" fill="#333" opacity="0.33"/><circle cx="11.5" cy="51.7" r="0.7" fill="#333" opacity="0.37"/><circle cx="6.9" cy="45.4" r="0.6" fill="#333" opacity="0.28"/><circle cx="7.9" cy="49.3" r="1.2" fill="#333" opacity="0.44"/><circle cx="7.2" cy="51.8" r="0.8" fill="#333" opacity="0.26"/><circle cx="8.8" cy="47.1" r="1.1" fill="#333" opacity="0.34"/><circle cx="6.7" cy="53.5" r="1.1" fill="#333" opacity="0.47"/><circle cx="7.7" cy="47.8" r="1.1" fill="#333" opacity="0.43"/><circle cx="10.6" cy="48.1" r="0.8" fill="#333" opacity="0.26"/><circle cx="7.7" cy="53.7" r="0.7" fill="#333" opacity="0.31"/><circle cx="9.5" cy="48.0" r="1.2" fill="#333" opacity="0.27"/></g>
<g filter="url(#bl05)"><ellipse cx="46" cy="12" rx="5" ry="4" fill="#777" stroke="#444" stroke-width="1"/><circle cx="48.2" cy="14.7" r="1.1" fill="#333" opacity="0.26"/><circle cx="47.8" cy="11.2" r="1.2" fill="#333" opacity="0.41"/><circle cx="47.9" cy="9.0" r="0.9" fill="#333" opacity="0.27"/><circle cx="47.6" cy="9.8" r="1.0" fill="#333" opacity="0.27"/><circle cx="45.2" cy="11.2" r="1.0" fill="#333" opacity="0.46"/><circle cx="46.3" cy="10.1" r="1.3" fill="#333" opacity="0.34"/><circle cx="46.0" cy="8.8" r="1.2" fill="#333" opacity="0.46"/></g>
<path d="M1.0 40.0 C1.3 36.0 2.3 31.7 4.0 28.0 C5.7 24.3 8.0 20.8 11.0 18.0 C14.0 15.2 18.2 12.4 22.0 11.0 C25.8 9.6 30.3 9.3 34.0 9.5 C37.7 9.7 41.0 10.4 44.0 12.0 C47.0 13.6 49.7 16.2 52.0 19.0 C54.3 21.8 56.5 25.3 58.0 29.0 C59.5 32.7 61.0 37.0 61.0 41.0 C61.0 45.0 59.5 49.5 58.0 53.0 C56.5 56.5 54.7 59.3 52.0 62.0 C49.3 64.7 45.7 67.5 42.0 69.0 C38.3 70.5 34.0 71.0 30.0 71.0 C26.0 71.0 21.7 70.5 18.0 69.0 C14.3 67.5 10.7 64.8 8.0 62.0 C5.3 59.2 3.2 55.7 2.0 52.0 C0.8 48.3 0.7 44.0 1.0 40.0 Z" fill="#505050" filter="url(#bl1)"/>
<ellipse cx="31" cy="42" rx="25" ry="25" fill="#1e1e1e" stroke="none" stroke-width="0" opacity="1" filter="url(#bl2)"/>
<g filter="url(#bl05)"><ellipse cx="68.2" cy="15" rx="12.5" ry="13.7" fill="#363636" stroke="#333" stroke-width="1.2"/><circle cx="68.2" cy="16.5" r="1.1" fill="#111" opacity="0.28"/><circle cx="74.2" cy="6.9" r="0.6" fill="#111" opacity="0.32"/><circle cx="75.1" cy="21.3" r="1.0" fill="#111" opacity="0.33"/><circle cx="66.1" cy="6.7" r="0.7" fill="#111" opacity="0.46"/><circle cx="68.5" cy="17.2" r="0.9" fill="#111" opacity="0.29"/><circle cx="64.0" cy="19.5" r="0.8" fill="#111" opacity="0.38"/><circle cx="65.7" cy="12.3" r="1.2" fill="#111" opacity="0.44"/><circle cx="67.1" cy="12.0" r="0.8" fill="#111" opacity="0.39"/><circle cx="63.8" cy="24.6" r="1.2" fill="#111" opacity="0.37"/><circle cx="74.3" cy="8.1" r="1.0" fill="#111" opacity="0.50"/><circle cx="66.0" cy="11.2" r="0.7" fill="#111" opacity="0.28"/><circle cx="60.1" cy="8.5" r="0.5" fill="#111" opacity="0.29"/><circle cx="77.8" cy="14.8" r="1.3" fill="#111" opacity="0.48"/><circle cx="73.0" cy="20.4" r="0.9" fill="#111" opacity="0.35"/><circle cx="61.0" cy="18.6" r="0.6" fill="#111" opacity="0.36"/><circle cx="75.4" cy="20.3" r="1.4" fill="#111" opacity="0.39"/><circle cx="72.8" cy="6.9" r="0.7" fill="#111" opacity="0.30"/><circle cx="63.9" cy="22.7" r="1.2" fill="#111" opacity="0.44"/><circle cx="77.0" cy="9.3" r="1.1" fill="#111" opacity="0.28"/><circle cx="63.1" cy="18.7" r="1.1" fill="#111" opacity="0.43"/><circle cx="72.3" cy="25.2" r="0.6" fill="#111" opacity="0.44"/><circle cx="60.2" cy="11.8" r="1.2" fill="#111" opacity="0.26"/><circle cx="64.6" cy="8.6" r="0.6" fill="#111" opacity="0.41"/><circle cx="66.8" cy="23.7" r="1.2" fill="#111" opacity="0.33"/><circle cx="68.5" cy="10.8" r="0.7" fill="#111" opacity="0.43"/><circle cx="60.8" cy="19.0" r="0.8" fill="#111" opacity="0.46"/><circle cx="77.8" cy="19.7" r="1.1" fill="#111" opacity="0.46"/><circle cx="75.4" cy="7.9" r="1.1" fill="#111" opacity="0.29"/><circle cx="65.5" cy="19.1" r="1.0" fill="#111" opacity="0.43"/><circle cx="69.8" cy="15.4" r="0.6" fill="#111" opacity="0.46"/><circle cx="77.0" cy="19.6" r="1.2" fill="#111" opacity="0.33"/><circle cx="67.8" cy="13.1" r="1.3" fill="#111" opacity="0.37"/><circle cx="71.4" cy="8.9" r="0.9" fill="#111" opacity="0.46"/><circle cx="60.5" cy="14.8" r="0.8" fill="#111" opacity="0.49"/><circle cx="65.0" cy="4.2" r="1.0" fill="#111" opacity="0.29"/><circle cx="72.5" cy="8.8" r="1.2" fill="#111" opacity="0.50"/><circle cx="71.8" cy="5.3" r="0.9" fill="#111" opacity="0.36"/><circle cx="65.2" cy="7.0" r="0.9" fill="#111" opacity="0.25"/><circle cx="73.9" cy="23.1" r="0.8" fill="#111" opacity="0.31"/><circle cx="74.2" cy="16.3" r="1.2" fill="#111" opacity="0.48"/><circle cx="74.8" cy="23.3" r="0.8" fill="#111" opacity="0.35"/><circle cx="59.9" cy="18.2" r="0.6" fill="#111" opacity="0.38"/><circle cx="74.6" cy="20.5" r="0.8" fill="#111" opacity="0.38"/><circle cx="75.7" cy="18.8" r="0.5" fill="#111" opacity="0.42"/><circle cx="74.6" cy="12.7" r="0.5" fill="#111" opacity="0.27"/><circle cx="75.8" cy="12.7" r="1.3" fill="#111" opacity="0.34"/><circle cx="66.9" cy="16.0" r="0.9" fill="#111" opacity="0.45"/><circle cx="66.9" cy="7.6" r="1.2" fill="#111" opacity="0.48"/><circle cx="61.9" cy="11.7" r="1.0" fill="#111" opacity="0.43"/><circle cx="70.7" cy="23.6" r="0.7" fill="#111" opacity="0.31"/><circle cx="67.3" cy="6.6" r="1.1" fill="#111" opacity="0.35"/><circle cx="63.7" cy="16.4" r="0.8" fill="#111" opacity="0.34"/><circle cx="75.0" cy="10.7" r="1.1" fill="#111" opacity="0.25"/><circle cx="59.9" cy="20.2" r="0.8" fill="#111" opacity="0.44"/><circle cx="66.9" cy="20.0" r="1.2" fill="#111" opacity="0.39"/><circle cx="59.7" cy="19.6" r="0.5" fill="#111" opacity="0.41"/><circle cx="76.4" cy="8.4" r="0.7" fill="#111" opacity="0.50"/><circle cx="60.8" cy="19.2" r="1.3" fill="#111" opacity="0.50"/><circle cx="77.0" cy="8.6" r="0.7" fill="#111" opacity="0.47"/></g>
<ellipse cx="68" cy="15" rx="8" ry="8" fill="#222" stroke="none" stroke-width="0" opacity="0.9" filter="url(#bl1)"/>
<rect x="83" y="71" width="16.5" height="2" fill="#000"/>
</svg>
<rect x="541.3" y="639.2" width="104.5" height="77.8" fill="none" stroke="#444" stroke-width="1"/>
</svg>
</body></html>
